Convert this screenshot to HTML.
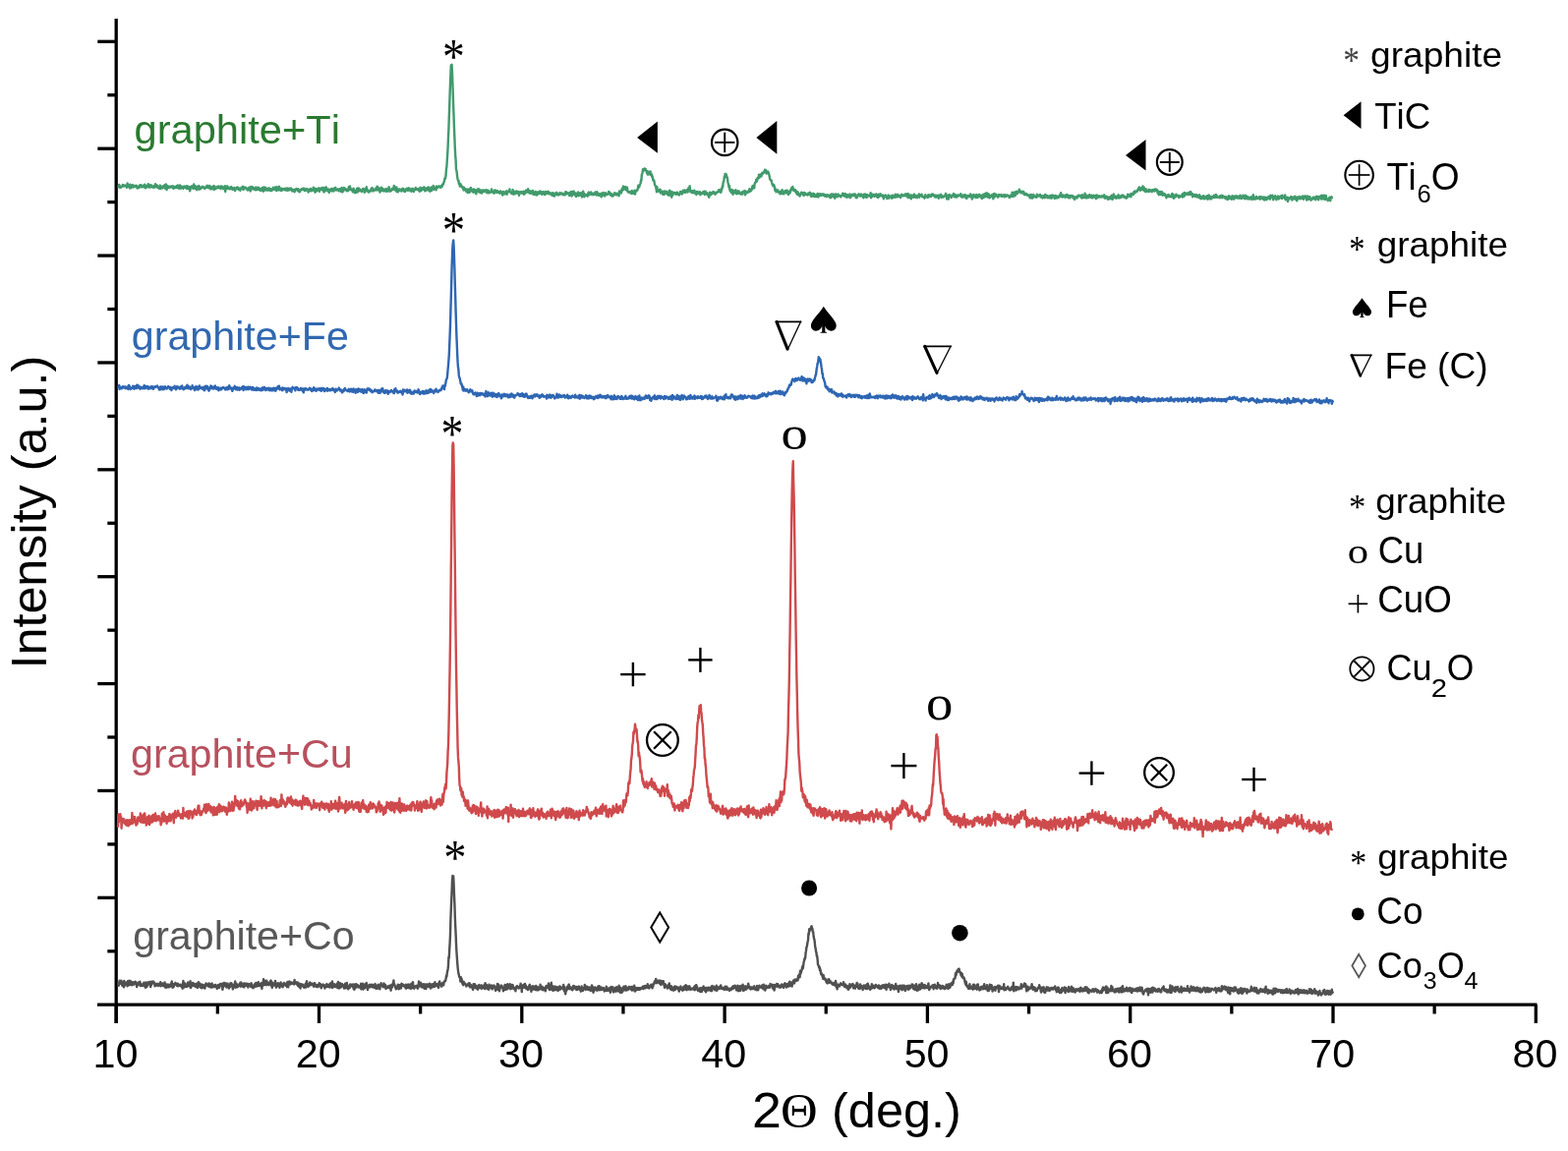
<!DOCTYPE html>
<html><head><meta charset="utf-8"><title>XRD patterns</title>
<style>html,body{margin:0;padding:0;background:#fff;} svg{display:block;} text{font-kerning:none;}</style>
</head><body>
<svg width="1595" height="1171" viewBox="0 0 1595 1171">
<rect width="1595" height="1171" fill="#fff"/>
<g stroke="#000" stroke-width="3.3" fill="none" stroke-linecap="butt">
<line x1="118.2" y1="19" x2="118.2" y2="1041"/>
<line x1="99" y1="1022.2" x2="1563.5" y2="1022.2"/>
<line x1="99.3" y1="42.30" x2="118.2" y2="42.30"/>
<line x1="109.3" y1="96.74" x2="118.2" y2="96.74"/>
<line x1="99.3" y1="151.18" x2="118.2" y2="151.18"/>
<line x1="109.3" y1="205.62" x2="118.2" y2="205.62"/>
<line x1="99.3" y1="260.06" x2="118.2" y2="260.06"/>
<line x1="109.3" y1="314.50" x2="118.2" y2="314.50"/>
<line x1="99.3" y1="368.94" x2="118.2" y2="368.94"/>
<line x1="109.3" y1="423.38" x2="118.2" y2="423.38"/>
<line x1="99.3" y1="477.82" x2="118.2" y2="477.82"/>
<line x1="109.3" y1="532.26" x2="118.2" y2="532.26"/>
<line x1="99.3" y1="586.70" x2="118.2" y2="586.70"/>
<line x1="109.3" y1="641.14" x2="118.2" y2="641.14"/>
<line x1="99.3" y1="695.58" x2="118.2" y2="695.58"/>
<line x1="109.3" y1="750.02" x2="118.2" y2="750.02"/>
<line x1="99.3" y1="804.46" x2="118.2" y2="804.46"/>
<line x1="109.3" y1="858.90" x2="118.2" y2="858.90"/>
<line x1="99.3" y1="913.34" x2="118.2" y2="913.34"/>
<line x1="109.3" y1="967.78" x2="118.2" y2="967.78"/>
<line x1="118.20" y1="1022.2" x2="118.20" y2="1041"/>
<line x1="324.50" y1="1022.2" x2="324.50" y2="1041"/>
<line x1="530.80" y1="1022.2" x2="530.80" y2="1041"/>
<line x1="737.10" y1="1022.2" x2="737.10" y2="1041"/>
<line x1="943.40" y1="1022.2" x2="943.40" y2="1041"/>
<line x1="1149.70" y1="1022.2" x2="1149.70" y2="1041"/>
<line x1="1356.00" y1="1022.2" x2="1356.00" y2="1041"/>
<line x1="1562.30" y1="1022.2" x2="1562.30" y2="1041"/>
<line x1="221.35" y1="1022.2" x2="221.35" y2="1031.5"/>
<line x1="427.65" y1="1022.2" x2="427.65" y2="1031.5"/>
<line x1="633.95" y1="1022.2" x2="633.95" y2="1031.5"/>
<line x1="840.25" y1="1022.2" x2="840.25" y2="1031.5"/>
<line x1="1046.55" y1="1022.2" x2="1046.55" y2="1031.5"/>
<line x1="1252.85" y1="1022.2" x2="1252.85" y2="1031.5"/>
<line x1="1459.15" y1="1022.2" x2="1459.15" y2="1031.5"/>
</g>
<text x="94.43" y="1086.2" font-size="41.3" font-family="'Liberation Sans', Arial, sans-serif" fill="#000">10</text>
<text x="300.73" y="1086.2" font-size="41.3" font-family="'Liberation Sans', Arial, sans-serif" fill="#000">20</text>
<text x="507.03" y="1086.2" font-size="41.3" font-family="'Liberation Sans', Arial, sans-serif" fill="#000">30</text>
<text x="713.33" y="1086.2" font-size="41.3" font-family="'Liberation Sans', Arial, sans-serif" fill="#000">40</text>
<text x="919.63" y="1086.2" font-size="41.3" font-family="'Liberation Sans', Arial, sans-serif" fill="#000">50</text>
<text x="1125.93" y="1086.2" font-size="41.3" font-family="'Liberation Sans', Arial, sans-serif" fill="#000">60</text>
<text x="1332.23" y="1086.2" font-size="41.3" font-family="'Liberation Sans', Arial, sans-serif" fill="#000">70</text>
<text x="1538.53" y="1086.2" font-size="41.3" font-family="'Liberation Sans', Arial, sans-serif" fill="#000">80</text>
<text fill="#000"><tspan x="765.00" y="1147.20" font-size="50.60" font-family="'Liberation Sans', Arial, sans-serif" textLength="29.91" lengthAdjust="spacingAndGlyphs">2</tspan><tspan x="794.06" y="1146.50" font-size="51.20" font-family="'Liberation Serif', 'Times New Roman', serif" textLength="37.68" lengthAdjust="spacingAndGlyphs">Θ</tspan><tspan x="832.06" y="1147.20" font-size="50.60" font-family="'Liberation Sans', Arial, sans-serif" textLength="145.77" lengthAdjust="spacingAndGlyphs"> (deg.)</tspan></text>
<text transform="translate(46.8,680.54) rotate(-90) scale(1.0062,1)" font-size="50.0" font-family="'Liberation Sans', Arial, sans-serif" fill="#000">Intensity (a.u.)</text>
<polyline fill="none" stroke="#505050" stroke-width="2.4" stroke-linejoin="round" points="120.0,999.2 120.4,999.9 120.8,1002.8 121.2,1001.3 121.6,997.8 122.0,1000.5 122.4,999.6 122.8,1000.7 123.2,997.8 123.6,1000.6 124.0,1000.7 124.4,1002.8 124.8,1000.9 125.2,1001.4 125.6,998.4 126.0,1004.3 126.4,998.0 126.8,1002.8 127.2,1000.6 127.6,999.7 128.0,999.9 128.4,999.7 128.8,1001.3 129.2,1000.6 129.6,1003.2 130.0,998.2 130.4,1001.1 130.8,999.7 131.2,1002.2 131.6,997.6 132.0,1000.3 132.4,1001.0 132.8,998.2 133.2,1002.1 133.6,1000.9 134.0,1002.2 134.4,1002.2 134.8,999.1 135.2,999.3 135.6,1000.1 136.0,1001.5 136.4,1001.6 136.8,999.1 137.2,999.1 137.6,998.7 138.0,999.0 138.4,999.7 138.8,1000.2 139.2,1004.1 139.6,1000.5 140.0,1001.0 140.4,1002.0 140.8,999.4 141.2,1000.0 141.6,1000.4 142.0,1001.6 142.4,998.6 142.8,1003.1 143.2,1000.7 143.6,1001.7 144.0,1002.7 144.4,1002.4 144.8,1003.0 145.2,1001.5 145.6,1001.1 146.0,1001.6 146.4,999.6 146.8,1003.2 147.2,1000.2 147.6,999.7 148.0,1004.8 148.4,1001.2 148.8,999.4 149.2,1004.0 149.6,1000.6 150.0,1002.9 150.4,1000.2 150.8,1001.3 151.2,999.2 151.6,998.9 152.0,1000.1 152.4,1001.1 152.8,1001.9 153.2,1004.1 153.6,998.7 154.0,1002.0 154.4,999.7 154.8,1000.6 155.2,998.6 155.6,998.5 156.0,999.5 156.4,998.8 156.8,1000.8 157.2,1000.0 157.6,1003.3 158.0,1001.6 158.4,1001.4 158.8,1002.7 159.2,1001.6 159.6,1000.7 160.0,1000.8 160.4,1001.0 160.8,1003.1 161.2,1002.7 161.6,1002.0 162.0,1002.6 162.4,1000.5 162.8,1002.1 163.2,999.1 163.6,1003.4 164.0,1001.3 164.4,1001.2 164.8,1001.6 165.2,1000.6 165.6,1000.4 166.0,1003.0 166.4,1001.8 166.8,1000.5 167.2,1002.8 167.6,999.5 168.0,1004.5 168.4,1001.4 168.8,1001.6 169.2,1004.9 169.6,1004.6 170.0,1001.4 170.4,1002.3 170.8,1003.1 171.2,1004.2 171.6,1001.7 172.0,1002.3 172.4,1004.2 172.8,1002.8 173.2,1003.5 173.6,1003.2 174.0,1000.5 174.4,1001.1 174.8,998.5 175.2,1002.4 175.6,1004.9 176.0,1001.0 176.4,1004.3 176.8,1003.7 177.2,1001.7 177.6,1001.6 178.0,1001.5 178.4,999.8 178.8,1000.6 179.2,1001.0 179.6,1002.2 180.0,1002.7 180.4,1000.6 180.8,1003.2 181.2,1000.9 181.6,1001.9 182.0,1002.9 182.4,1002.4 182.8,1002.3 183.2,1003.0 183.6,1001.7 184.0,1001.6 184.4,1002.3 184.8,1004.1 185.2,1002.6 185.6,1005.7 186.0,1003.1 186.4,998.0 186.8,1001.6 187.2,1004.6 187.6,1001.8 188.0,1001.0 188.4,1000.4 188.8,1003.9 189.2,1003.5 189.6,1002.9 190.0,1002.4 190.4,1003.8 190.8,1002.7 191.2,999.5 191.6,1002.7 192.0,1001.9 192.4,1001.7 192.8,1003.4 193.2,1002.5 193.6,998.2 194.0,1005.1 194.4,1004.0 194.8,1001.9 195.2,1001.2 195.6,1002.1 196.0,1000.0 196.4,1002.8 196.8,1002.2 197.2,1002.0 197.6,1000.8 198.0,1001.0 198.4,1003.6 198.8,1003.9 199.2,1002.6 199.6,1001.8 200.0,1000.7 200.4,1003.3 200.8,1005.0 201.2,1000.1 201.6,1004.5 202.0,999.2 202.4,1002.0 202.8,1003.2 203.2,1000.6 203.6,1000.6 204.0,1003.6 204.4,1004.9 204.8,1002.8 205.2,1005.3 205.6,1001.6 206.0,1004.9 206.4,1002.0 206.8,1002.1 207.2,1002.7 207.6,1002.4 208.0,1004.9 208.4,1005.6 208.8,1003.0 209.2,1001.9 209.6,1000.4 210.0,1001.2 210.4,1002.5 210.8,1002.6 211.2,1002.8 211.6,1002.9 212.0,1003.5 212.4,1000.4 212.8,1000.6 213.2,1003.8 213.6,1003.4 214.0,1001.4 214.4,1004.6 214.8,1002.0 215.2,1002.9 215.6,1000.5 216.0,1004.5 216.4,1002.9 216.8,1004.2 217.2,1003.5 217.6,1002.4 218.0,1002.4 218.4,1004.0 218.8,1001.9 219.2,1002.0 219.6,1002.4 220.0,1003.8 220.4,1004.1 220.8,1005.9 221.2,1002.9 221.6,1005.0 222.0,1001.9 222.4,1003.5 222.8,1002.4 223.2,1004.7 223.6,1002.7 224.0,1001.0 224.4,1002.6 224.8,1002.3 225.2,1001.2 225.6,1001.4 226.0,1000.7 226.4,1006.8 226.8,1002.8 227.2,1004.0 227.6,1000.2 228.0,999.8 228.4,1001.0 228.8,1001.1 229.2,1002.9 229.6,1000.4 230.0,1003.0 230.4,1004.5 230.8,1000.6 231.2,1003.4 231.6,1000.6 232.0,1002.9 232.4,1003.2 232.8,1005.6 233.2,1001.9 233.6,1003.1 234.0,1004.2 234.4,1000.3 234.8,1001.7 235.2,1000.1 235.6,1000.4 236.0,1002.7 236.4,1003.2 236.8,1006.4 237.2,1004.5 237.6,1004.3 238.0,1001.8 238.4,1001.5 238.8,1002.1 239.2,998.5 239.6,1004.8 240.0,1001.2 240.4,1000.6 240.8,1001.5 241.2,1003.6 241.6,1004.3 242.0,1002.1 242.4,1003.6 242.8,1002.9 243.2,1001.4 243.6,1002.9 244.0,1002.4 244.4,999.8 244.8,1003.7 245.2,999.5 245.6,1002.4 246.0,1000.6 246.4,1001.2 246.8,1001.7 247.2,1004.0 247.6,1000.8 248.0,1002.1 248.4,1004.3 248.8,1000.4 249.2,1001.3 249.6,1002.4 250.0,1000.7 250.4,1002.6 250.8,1000.9 251.2,1003.1 251.6,1002.2 252.0,1000.8 252.4,1004.5 252.8,1002.4 253.2,1002.2 253.6,1001.2 254.0,1001.7 254.4,1002.1 254.8,1002.4 255.2,1003.8 255.6,1000.3 256.0,1002.0 256.4,1004.6 256.8,1003.1 257.2,1003.5 257.6,1005.2 258.0,1003.0 258.4,1002.7 258.8,1001.5 259.2,1004.0 259.6,1002.9 260.0,1000.3 260.4,1002.4 260.8,999.9 261.2,1003.5 261.6,1002.9 262.0,1001.7 262.4,1001.4 262.8,999.2 263.2,1003.1 263.6,1001.7 264.0,1001.4 264.4,1003.1 264.8,1000.9 265.2,1001.1 265.6,1001.0 266.0,1000.1 266.4,1006.0 266.8,1001.8 267.2,1001.2 267.6,1002.7 268.0,996.2 268.4,1000.9 268.8,1001.0 269.2,999.6 269.6,1001.8 270.0,997.8 270.4,1000.8 270.8,1002.2 271.2,997.6 271.6,999.0 272.0,1001.3 272.4,1001.6 272.8,1000.6 273.2,1002.1 273.6,1002.0 274.0,999.5 274.4,1001.4 274.8,999.5 275.2,998.0 275.6,997.4 276.0,1002.9 276.4,1001.3 276.8,1004.8 277.2,999.8 277.6,1001.7 278.0,1002.7 278.4,1001.7 278.8,1002.4 279.2,1001.7 279.6,1000.5 280.0,997.9 280.4,1000.3 280.8,1004.6 281.2,1003.1 281.6,1003.9 282.0,1000.7 282.4,1001.2 282.8,1000.2 283.2,1002.4 283.6,1002.1 284.0,1002.8 284.4,1004.8 284.8,1000.6 285.2,1002.9 285.6,999.4 286.0,1003.4 286.4,1001.2 286.8,1001.9 287.2,1002.2 287.6,1004.4 288.0,1001.6 288.4,1000.9 288.8,999.9 289.2,1002.4 289.6,1000.8 290.0,1001.3 290.4,1002.0 290.8,1002.8 291.2,1000.5 291.6,1002.5 292.0,1004.1 292.4,999.0 292.8,1003.3 293.2,1004.3 293.6,999.8 294.0,1001.6 294.4,998.5 294.8,1001.2 295.2,1000.3 295.6,1001.4 296.0,999.5 296.4,999.6 296.8,1000.3 297.2,1000.0 297.6,1000.3 298.0,1001.0 298.4,999.5 298.8,1000.8 299.2,1001.5 299.6,997.0 300.0,1000.9 300.4,999.6 300.8,999.3 301.2,999.3 301.6,1000.2 302.0,1000.4 302.4,1002.0 302.8,999.5 303.2,1003.2 303.6,1000.6 304.0,1003.2 304.4,1004.1 304.8,1000.6 305.2,1004.1 305.6,1005.5 306.0,1001.2 306.4,1002.6 306.8,1001.4 307.2,1002.0 307.6,1001.8 308.0,1001.8 308.4,1003.9 308.8,1004.2 309.2,1002.7 309.6,1004.8 310.0,1003.9 310.4,1003.0 310.8,1000.6 311.2,1004.5 311.6,1003.6 312.0,998.3 312.4,1000.1 312.8,1001.2 313.2,1003.4 313.6,1003.8 314.0,1001.4 314.4,1002.1 314.8,1002.6 315.2,999.4 315.6,1002.3 316.0,1001.0 316.4,1002.0 316.8,1002.0 317.2,1000.4 317.6,1000.7 318.0,1002.2 318.4,1002.3 318.8,1001.7 319.2,1003.7 319.6,1001.5 320.0,1000.1 320.4,1001.3 320.8,1001.5 321.2,1001.7 321.6,1003.8 322.0,1003.0 322.4,1003.9 322.8,1003.3 323.2,1002.1 323.6,1004.1 324.0,1002.0 324.4,1002.5 324.8,1000.3 325.2,1001.6 325.6,1000.8 326.0,1001.8 326.4,1004.2 326.8,1005.3 327.2,1003.4 327.6,1001.9 328.0,1003.4 328.4,1002.7 328.8,1001.6 329.2,1002.7 329.6,1002.7 330.0,1002.4 330.4,1005.6 330.8,1002.6 331.2,1002.6 331.6,1004.2 332.0,1001.8 332.4,1001.1 332.8,1001.7 333.2,1003.9 333.6,1003.9 334.0,1003.9 334.4,1002.7 334.8,1001.9 335.2,1004.5 335.6,1000.6 336.0,1002.3 336.4,1000.3 336.8,1001.7 337.2,1002.3 337.6,1004.7 338.0,998.4 338.4,1004.9 338.8,1001.2 339.2,1002.7 339.6,1003.4 340.0,1001.1 340.4,1002.6 340.8,1003.9 341.2,1003.3 341.6,1002.5 342.0,1003.8 342.4,1003.5 342.8,1000.8 343.2,1005.0 343.6,1003.1 344.0,999.0 344.4,1001.5 344.8,1005.5 345.2,1005.4 345.6,1003.4 346.0,1000.3 346.4,1002.6 346.8,1004.5 347.2,1003.2 347.6,1001.8 348.0,1001.0 348.4,1003.4 348.8,1001.9 349.2,1003.0 349.6,1003.5 350.0,1005.5 350.4,1003.4 350.8,1003.7 351.2,1000.7 351.6,1005.3 352.0,1005.0 352.4,1003.6 352.8,1000.0 353.2,1002.6 353.6,1003.3 354.0,1006.2 354.4,1003.7 354.8,1004.0 355.2,1004.2 355.6,1005.3 356.0,1001.6 356.4,1002.0 356.8,1001.4 357.2,1002.8 357.6,1002.7 358.0,1003.5 358.4,1001.6 358.8,1003.1 359.2,1001.4 359.6,1005.9 360.0,1001.9 360.4,1006.9 360.8,1005.7 361.2,1001.5 361.6,1004.9 362.0,1004.4 362.4,1001.1 362.8,1004.3 363.2,1003.3 363.6,1004.0 364.0,1002.2 364.4,1003.6 364.8,1004.4 365.2,1003.7 365.6,1003.3 366.0,1004.3 366.4,1003.4 366.8,1005.5 367.2,1000.8 367.6,1006.5 368.0,1003.5 368.4,1003.4 368.8,1003.8 369.2,1000.7 369.6,1006.5 370.0,1001.6 370.4,1004.2 370.8,1003.8 371.2,1005.3 371.6,1003.1 372.0,1001.0 372.4,1004.0 372.8,1000.0 373.2,1003.9 373.6,1003.8 374.0,1007.0 374.4,1004.0 374.8,1003.4 375.2,1002.6 375.6,1002.1 376.0,1002.5 376.4,1004.4 376.8,1001.8 377.2,1003.9 377.6,1002.2 378.0,1004.1 378.4,1004.2 378.8,1001.6 379.2,1002.3 379.6,1003.2 380.0,1004.2 380.4,1004.7 380.8,1003.1 381.2,1001.9 381.6,1001.0 382.0,1004.8 382.4,1005.7 382.8,1004.0 383.2,1005.8 383.6,1002.6 384.0,1002.6 384.4,1005.6 384.8,1001.6 385.2,1004.2 385.6,1003.9 386.0,1003.7 386.4,1006.3 386.8,1002.2 387.2,1002.9 387.6,1000.2 388.0,1001.8 388.4,1002.7 388.8,1003.0 389.2,1003.4 389.6,1004.2 390.0,1002.6 390.4,1000.5 390.8,1003.7 391.2,1004.1 391.6,1001.6 392.0,1002.1 392.4,1006.0 392.8,1005.0 393.2,1005.4 393.6,1005.0 394.0,1004.4 394.4,1003.4 394.8,1004.9 395.2,1003.5 395.6,1003.1 396.0,1003.8 396.4,1003.8 396.8,1005.4 397.2,1002.4 397.6,1007.7 398.0,1002.1 398.4,1002.7 398.8,1004.5 399.2,1001.2 399.6,1001.5 400.0,1002.1 400.4,997.4 400.8,1001.5 401.2,1001.2 401.6,1002.8 402.0,1004.3 402.4,1004.8 402.8,1006.3 403.2,1006.0 403.6,1005.2 404.0,1003.3 404.4,1004.9 404.8,1001.8 405.2,1003.5 405.6,1006.3 406.0,1005.6 406.4,1002.3 406.8,1003.4 407.2,1005.5 407.6,1004.8 408.0,1005.3 408.4,1000.8 408.8,1001.5 409.2,1002.9 409.6,1001.5 410.0,1002.6 410.4,1002.5 410.8,1003.0 411.2,1002.4 411.6,1003.8 412.0,1004.5 412.4,1003.8 412.8,1001.7 413.2,1005.8 413.6,1004.3 414.0,1004.7 414.4,1004.4 414.8,1001.7 415.2,1004.9 415.6,1002.8 416.0,1001.6 416.4,1005.3 416.8,1002.7 417.2,1003.6 417.6,1004.6 418.0,1005.8 418.4,1000.6 418.8,1002.5 419.2,1005.0 419.6,1003.0 420.0,999.2 420.4,1004.6 420.8,1004.9 421.2,1005.8 421.6,1004.9 422.0,1003.5 422.4,1004.3 422.8,1003.7 423.2,1002.9 423.6,1004.3 424.0,1004.7 424.4,1002.6 424.8,1005.7 425.2,1004.9 425.6,1004.4 426.0,998.5 426.4,1002.7 426.8,1002.1 427.2,1000.6 427.6,1003.0 428.0,999.7 428.4,1004.0 428.8,1002.7 429.2,1001.4 429.6,1004.5 430.0,1003.2 430.4,1003.4 430.8,1001.1 431.2,1004.2 431.6,1005.7 432.0,1005.3 432.4,1001.5 432.8,1005.7 433.2,1006.0 433.6,1004.8 434.0,1002.9 434.4,1001.3 434.8,1002.2 435.2,1002.6 435.6,1003.7 436.0,1003.9 436.4,1001.9 436.8,1000.7 437.2,1002.8 437.6,1001.5 438.0,1005.6 438.4,1001.5 438.8,1004.1 439.2,1004.5 439.6,1001.5 440.0,1004.3 440.4,1002.3 440.8,1001.1 441.2,1000.8 441.6,1002.5 442.0,1004.0 442.4,999.3 442.8,1003.2 443.2,1002.0 443.6,1001.0 444.0,1002.2 444.4,1002.4 444.8,1002.3 445.2,1003.5 445.6,1000.6 446.0,1004.9 446.4,1003.0 446.8,1000.6 447.2,998.5 447.6,1001.3 448.0,1000.5 448.4,1002.0 448.8,1001.8 449.2,1003.7 449.6,1000.5 450.0,1001.9 450.4,999.9 450.8,999.7 451.2,1002.4 451.6,999.4 452.0,999.0 452.4,998.0 452.8,998.3 453.2,997.8 453.6,995.6 454.0,992.7 454.4,993.5 454.8,989.7 455.2,988.1 455.6,986.0 456.0,982.5 456.4,973.9 456.8,974.5 457.2,966.1 457.6,959.6 458.0,951.1 458.4,935.4 458.8,925.2 459.2,915.7 459.6,906.7 460.0,896.1 460.4,891.0 460.8,891.7 461.2,891.4 461.6,899.6 462.0,910.3 462.4,919.1 462.8,932.2 463.2,941.9 463.6,949.6 464.0,960.0 464.4,967.8 464.8,973.6 465.2,979.2 465.6,984.1 466.0,987.6 466.4,990.4 466.8,991.8 467.2,993.7 467.6,994.5 468.0,994.9 468.4,998.6 468.8,994.1 469.2,998.1 469.6,995.8 470.0,998.1 470.4,1000.8 470.8,999.4 471.2,1002.2 471.6,998.7 472.0,1000.0 472.4,999.8 472.8,1001.2 473.2,1001.0 473.6,1001.1 474.0,1001.9 474.4,1003.6 474.8,1002.4 475.2,1002.5 475.6,1002.3 476.0,1001.7 476.4,1000.6 476.8,1001.2 477.2,1002.9 477.6,1000.1 478.0,1004.3 478.4,1002.7 478.8,1001.9 479.2,1002.5 479.6,1004.4 480.0,1004.0 480.4,1003.8 480.8,1006.0 481.2,1006.9 481.6,1001.2 482.0,1004.6 482.4,1002.1 482.8,1001.2 483.2,1002.6 483.6,1005.0 484.0,1002.9 484.4,1002.7 484.8,1005.7 485.2,1004.5 485.6,1003.7 486.0,1006.7 486.4,1004.7 486.8,1002.8 487.2,1002.1 487.6,1003.1 488.0,1004.0 488.4,1005.2 488.8,1005.1 489.2,1004.1 489.6,1002.3 490.0,1005.8 490.4,1004.9 490.8,1003.2 491.2,1003.0 491.6,1005.1 492.0,1004.9 492.4,1005.2 492.8,1001.6 493.2,1006.2 493.6,1000.2 494.0,1002.9 494.4,1005.2 494.8,1004.9 495.2,1002.1 495.6,1004.8 496.0,1006.0 496.4,1005.3 496.8,1002.7 497.2,1006.9 497.6,1001.8 498.0,1004.5 498.4,1002.8 498.8,1003.7 499.2,1003.9 499.6,1005.2 500.0,1002.5 500.4,1004.8 500.8,1006.4 501.2,1004.2 501.6,1004.8 502.0,1004.4 502.4,1002.5 502.8,1003.2 503.2,1004.1 503.6,1005.1 504.0,1007.9 504.4,1007.5 504.8,1004.2 505.2,1004.2 505.6,1003.1 506.0,1001.0 506.4,1006.7 506.8,1005.6 507.2,1001.8 507.6,1004.8 508.0,1008.3 508.4,1005.3 508.8,1005.3 509.2,1004.8 509.6,1003.3 510.0,1002.5 510.4,1003.0 510.8,1004.6 511.2,1004.3 511.6,1006.2 512.0,1008.2 512.4,1006.3 512.8,1006.4 513.2,1003.9 513.6,1001.9 514.0,1007.0 514.4,1004.7 514.8,1005.5 515.2,1003.4 515.6,1001.6 516.0,1006.5 516.4,1001.1 516.8,1004.1 517.2,1003.3 517.6,1004.3 518.0,1005.3 518.4,1005.5 518.8,1001.1 519.2,1006.3 519.6,1001.8 520.0,1005.8 520.4,1003.9 520.8,1002.5 521.2,1003.3 521.6,1002.1 522.0,1004.3 522.4,1006.0 522.8,1006.0 523.2,1004.9 523.6,1006.6 524.0,1005.6 524.4,1008.2 524.8,1005.6 525.2,1003.7 525.6,1004.1 526.0,1003.1 526.4,1003.7 526.8,1003.9 527.2,1005.2 527.6,1005.5 528.0,1004.5 528.4,1005.1 528.8,1003.3 529.2,1003.6 529.6,1000.6 530.0,1003.4 530.4,1004.0 530.8,1009.1 531.2,1002.9 531.6,1005.0 532.0,1004.1 532.4,1002.0 532.8,1004.8 533.2,1004.4 533.6,1002.2 534.0,1000.9 534.4,1004.5 534.8,1002.4 535.2,1005.8 535.6,1004.4 536.0,1005.6 536.4,1004.3 536.8,1007.1 537.2,1005.6 537.6,1006.8 538.0,1004.4 538.4,1002.5 538.8,1001.8 539.2,1003.4 539.6,1004.9 540.0,1003.7 540.4,1008.9 540.8,1005.1 541.2,1006.1 541.6,1005.5 542.0,1003.2 542.4,1006.6 542.8,1005.9 543.2,1006.4 543.6,1003.7 544.0,1005.3 544.4,1005.1 544.8,1007.0 545.2,1002.9 545.6,1006.2 546.0,1007.2 546.4,1004.7 546.8,1004.1 547.2,1007.4 547.6,1005.4 548.0,1006.7 548.4,1006.0 548.8,1006.6 549.2,1004.8 549.6,1001.8 550.0,1006.1 550.4,1003.8 550.8,1005.6 551.2,1003.6 551.6,1007.0 552.0,1004.2 552.4,1006.3 552.8,1007.2 553.2,1005.8 553.6,1006.6 554.0,1006.2 554.4,1004.6 554.8,1008.3 555.2,1004.3 555.6,1003.0 556.0,1004.4 556.4,1005.1 556.8,1004.6 557.2,1003.6 557.6,1003.2 558.0,1000.4 558.4,1004.9 558.8,1006.9 559.2,1003.4 559.6,1002.2 560.0,1006.8 560.4,1005.6 560.8,999.6 561.2,1004.5 561.6,1003.0 562.0,1003.1 562.4,1007.9 562.8,1006.0 563.2,1004.1 563.6,1004.6 564.0,1007.4 564.4,1003.5 564.8,1006.8 565.2,1004.7 565.6,1007.0 566.0,1005.8 566.4,1004.1 566.8,1006.9 567.2,1006.1 567.6,1008.1 568.0,1004.5 568.4,1005.2 568.8,1003.8 569.2,1006.8 569.6,1003.5 570.0,1004.5 570.4,1006.4 570.8,1005.1 571.2,1004.6 571.6,1004.6 572.0,1004.8 572.4,1005.6 572.8,1004.3 573.2,1001.9 573.6,1007.6 574.0,1004.0 574.4,1008.9 574.8,1006.6 575.2,1011.3 575.6,1008.0 576.0,1006.8 576.4,1007.6 576.8,1003.9 577.2,1006.3 577.6,1005.3 578.0,1005.6 578.4,1002.0 578.8,1001.6 579.2,1006.2 579.6,1005.1 580.0,1004.3 580.4,1005.0 580.8,1004.4 581.2,1004.9 581.6,1007.1 582.0,1005.8 582.4,1007.3 582.8,1004.9 583.2,1003.0 583.6,1004.6 584.0,1005.2 584.4,1003.3 584.8,1004.3 585.2,1003.9 585.6,1006.3 586.0,1006.4 586.4,1007.0 586.8,1004.0 587.2,1005.6 587.6,1006.8 588.0,1004.8 588.4,1004.4 588.8,1003.5 589.2,1006.3 589.6,1005.4 590.0,1006.9 590.4,1005.1 590.8,1008.7 591.2,1005.4 591.6,1003.5 592.0,1005.9 592.4,1006.5 592.8,1008.0 593.2,1005.3 593.6,1005.2 594.0,1005.5 594.4,1005.1 594.8,1002.0 595.2,1006.3 595.6,1007.0 596.0,1003.8 596.4,1003.4 596.8,1004.8 597.2,1003.8 597.6,1006.6 598.0,1004.6 598.4,1007.0 598.8,1004.4 599.2,1004.5 599.6,1004.4 600.0,1004.7 600.4,1007.5 600.8,1008.0 601.2,1006.7 601.6,1006.6 602.0,1002.5 602.4,1007.6 602.8,1003.7 603.2,1007.7 603.6,1009.7 604.0,1006.2 604.4,1007.3 604.8,1007.5 605.2,1004.4 605.6,1004.6 606.0,1005.2 606.4,1006.4 606.8,1007.4 607.2,1006.2 607.6,1007.7 608.0,1005.1 608.4,1003.5 608.8,1005.6 609.2,1005.4 609.6,1003.3 610.0,1007.4 610.4,1004.4 610.8,1005.1 611.2,1006.7 611.6,1004.5 612.0,1007.1 612.4,1006.6 612.8,1006.6 613.2,1005.9 613.6,1005.3 614.0,1005.0 614.4,1006.8 614.8,1008.6 615.2,1007.5 615.6,1006.6 616.0,1007.3 616.4,1007.7 616.8,1003.6 617.2,1005.8 617.6,1008.1 618.0,1005.4 618.4,1005.7 618.8,1007.2 619.2,1005.7 619.6,1007.7 620.0,1005.2 620.4,1006.6 620.8,1009.7 621.2,1007.7 621.6,1003.9 622.0,1004.6 622.4,1004.7 622.8,1006.3 623.2,1004.2 623.6,1007.4 624.0,1009.4 624.4,1009.2 624.8,1005.6 625.2,1006.3 625.6,1006.1 626.0,1005.0 626.4,1008.7 626.8,1004.8 627.2,1004.2 627.6,1006.6 628.0,1006.6 628.4,1008.4 628.8,1008.4 629.2,1005.7 629.6,1002.8 630.0,1007.4 630.4,1007.9 630.8,1009.7 631.2,1004.6 631.6,1005.4 632.0,1009.9 632.4,1009.9 632.8,1009.1 633.2,1006.7 633.6,1008.4 634.0,1005.2 634.4,1003.7 634.8,1005.4 635.2,1005.5 635.6,1006.7 636.0,1007.4 636.4,1003.2 636.8,1006.8 637.2,1007.5 637.6,1004.8 638.0,1006.3 638.4,1006.7 638.8,1007.1 639.2,1004.7 639.6,1004.9 640.0,1003.8 640.4,1005.9 640.8,1004.8 641.2,1004.5 641.6,1006.6 642.0,1005.4 642.4,1003.9 642.8,1007.6 643.2,1007.4 643.6,1006.5 644.0,1004.0 644.4,1007.2 644.8,1004.6 645.2,1002.7 645.6,1005.6 646.0,1008.6 646.4,1004.9 646.8,1006.3 647.2,1007.3 647.6,1005.5 648.0,1005.0 648.4,1005.8 648.8,1006.8 649.2,1005.1 649.6,1006.4 650.0,1006.7 650.4,1005.2 650.8,1006.9 651.2,1006.6 651.6,1005.2 652.0,1005.4 652.4,1005.8 652.8,1005.4 653.2,1005.3 653.6,1003.8 654.0,1005.4 654.4,1006.1 654.8,1005.7 655.2,1003.2 655.6,1005.3 656.0,1005.4 656.4,1003.0 656.8,1005.2 657.2,1004.0 657.6,1003.6 658.0,1004.6 658.4,1004.0 658.8,1001.1 659.2,1005.1 659.6,1003.2 660.0,1004.6 660.4,1005.5 660.8,1003.6 661.2,1002.8 661.6,1003.4 662.0,1003.7 662.4,1001.6 662.8,1002.0 663.2,1003.8 663.6,1005.4 664.0,1002.5 664.4,1003.4 664.8,1000.4 665.2,1001.0 665.6,1000.6 666.0,998.2 666.4,1000.0 666.8,999.6 667.2,996.0 667.6,999.8 668.0,1000.3 668.4,1000.1 668.8,1000.1 669.2,997.7 669.6,998.0 670.0,998.7 670.4,997.6 670.8,998.2 671.2,1000.8 671.6,997.6 672.0,998.6 672.4,1002.1 672.8,999.2 673.2,998.1 673.6,1000.2 674.0,1000.3 674.4,1000.6 674.8,998.2 675.2,1001.6 675.6,1002.0 676.0,1004.8 676.4,1002.8 676.8,1001.3 677.2,1002.7 677.6,1003.6 678.0,1002.8 678.4,1003.2 678.8,1005.6 679.2,1004.3 679.6,1004.3 680.0,1001.9 680.4,1004.0 680.8,1000.5 681.2,1005.4 681.6,1003.0 682.0,1005.1 682.4,1006.7 682.8,1003.3 683.2,1007.1 683.6,1005.8 684.0,1007.3 684.4,1004.9 684.8,1004.5 685.2,1007.7 685.6,1006.3 686.0,1005.6 686.4,1003.5 686.8,1007.0 687.2,1004.3 687.6,1004.4 688.0,1003.7 688.4,1004.8 688.8,1005.7 689.2,1004.8 689.6,1004.9 690.0,1004.4 690.4,1007.9 690.8,1008.5 691.2,1005.7 691.6,1004.9 692.0,1006.6 692.4,1003.5 692.8,1006.1 693.2,1005.9 693.6,1005.5 694.0,1007.5 694.4,1007.7 694.8,1005.5 695.2,1004.2 695.6,1006.4 696.0,1006.7 696.4,1003.2 696.8,1003.9 697.2,1004.5 697.6,1002.3 698.0,1003.1 698.4,1007.4 698.8,1003.1 699.2,1006.4 699.6,1003.9 700.0,1006.6 700.4,1005.6 700.8,1006.6 701.2,1003.2 701.6,1005.8 702.0,1004.6 702.4,1006.7 702.8,1006.7 703.2,1006.1 703.6,1005.8 704.0,1006.1 704.4,1006.5 704.8,1005.4 705.2,1005.5 705.6,1005.0 706.0,1004.2 706.4,1007.2 706.8,1003.3 707.2,1007.0 707.6,1006.0 708.0,1002.2 708.4,1002.2 708.8,1005.4 709.2,1004.1 709.6,1006.4 710.0,1007.9 710.4,1007.2 710.8,1006.4 711.2,1006.3 711.6,1008.5 712.0,1005.3 712.4,1008.4 712.8,1008.9 713.2,1005.5 713.6,1006.7 714.0,1008.9 714.4,1005.0 714.8,1006.3 715.2,1006.8 715.6,1003.4 716.0,1005.7 716.4,1005.6 716.8,1004.8 717.2,1008.1 717.6,1005.6 718.0,1009.3 718.4,1006.9 718.8,1004.9 719.2,1006.5 719.6,1005.1 720.0,1007.6 720.4,1007.4 720.8,1004.6 721.2,1005.9 721.6,1007.4 722.0,1006.7 722.4,1005.0 722.8,1007.9 723.2,1008.1 723.6,1003.7 724.0,1008.2 724.4,1003.0 724.8,1006.1 725.2,1005.4 725.6,1005.5 726.0,1006.3 726.4,1003.8 726.8,1005.0 727.2,1007.4 727.6,1005.4 728.0,1007.1 728.4,1006.4 728.8,1002.8 729.2,1008.0 729.6,1006.7 730.0,1006.4 730.4,1004.8 730.8,1004.7 731.2,1004.1 731.6,1005.5 732.0,1006.0 732.4,1005.5 732.8,1005.3 733.2,1002.4 733.6,1004.2 734.0,1004.3 734.4,1006.1 734.8,1005.2 735.2,1005.1 735.6,1005.9 736.0,1004.9 736.4,1005.1 736.8,1007.0 737.2,1005.0 737.6,1003.7 738.0,1006.1 738.4,1006.5 738.8,1006.5 739.2,1003.6 739.6,1007.0 740.0,1005.5 740.4,1005.6 740.8,1005.4 741.2,1006.1 741.6,1006.2 742.0,1007.9 742.4,1006.2 742.8,1005.8 743.2,1006.8 743.6,1005.5 744.0,1006.9 744.4,1005.1 744.8,1005.7 745.2,1003.7 745.6,1005.9 746.0,1005.4 746.4,1003.3 746.8,1004.0 747.2,1004.7 747.6,1002.6 748.0,1003.0 748.4,1005.6 748.8,1005.9 749.2,1007.4 749.6,1003.7 750.0,1005.1 750.4,1002.6 750.8,1008.2 751.2,1003.5 751.6,1004.9 752.0,1008.0 752.4,1006.9 752.8,1003.3 753.2,1007.9 753.6,1005.1 754.0,1002.9 754.4,1004.8 754.8,1005.4 755.2,1005.6 755.6,1001.8 756.0,1008.0 756.4,1003.1 756.8,1005.2 757.2,1007.4 757.6,1005.4 758.0,1004.4 758.4,1003.3 758.8,1005.2 759.2,1006.6 759.6,1004.0 760.0,1005.5 760.4,1004.0 760.8,1003.6 761.2,1000.6 761.6,1003.9 762.0,1005.0 762.4,1003.6 762.8,1005.8 763.2,1004.7 763.6,1006.6 764.0,1005.1 764.4,1004.5 764.8,1004.5 765.2,1005.6 765.6,1006.1 766.0,1004.5 766.4,1005.4 766.8,1003.5 767.2,1003.3 767.6,1006.3 768.0,1005.9 768.4,1006.7 768.8,1005.5 769.2,1005.3 769.6,1007.3 770.0,1003.0 770.4,1004.6 770.8,1006.5 771.2,1007.3 771.6,1005.2 772.0,1004.2 772.4,1002.7 772.8,1004.0 773.2,1004.3 773.6,1004.0 774.0,1004.7 774.4,1004.7 774.8,1003.1 775.2,1002.4 775.6,1003.3 776.0,1004.4 776.4,1006.3 776.8,1001.7 777.2,1005.9 777.6,1004.0 778.0,1006.3 778.4,1007.5 778.8,1005.4 779.2,1002.8 779.6,1003.9 780.0,1005.1 780.4,1004.2 780.8,1004.7 781.2,1003.6 781.6,1004.0 782.0,1003.0 782.4,1004.8 782.8,1003.7 783.2,1004.4 783.6,1001.0 784.0,1002.8 784.4,1002.3 784.8,1002.7 785.2,1001.8 785.6,1002.0 786.0,1005.5 786.4,1003.0 786.8,1001.9 787.2,1003.7 787.6,1007.5 788.0,1005.0 788.4,1002.3 788.8,1003.1 789.2,1003.3 789.6,1003.6 790.0,1001.0 790.4,1002.5 790.8,1003.7 791.2,1001.2 791.6,1003.2 792.0,1003.4 792.4,1004.2 792.8,1004.5 793.2,1002.7 793.6,1003.3 794.0,1004.0 794.4,1004.5 794.8,1002.9 795.2,1001.4 795.6,1003.3 796.0,1003.7 796.4,1002.8 796.8,1003.5 797.2,1004.9 797.6,1001.5 798.0,1001.0 798.4,1000.2 798.8,1002.3 799.2,1003.2 799.6,1001.2 800.0,1004.6 800.4,1001.1 800.8,1002.4 801.2,1001.7 801.6,1003.6 802.0,1000.4 802.4,1003.5 802.8,1000.6 803.2,998.7 803.6,999.6 804.0,1000.1 804.4,1002.7 804.8,999.5 805.2,1000.3 805.6,1003.5 806.0,1000.7 806.4,999.4 806.8,999.0 807.2,997.4 807.6,999.8 808.0,1000.5 808.4,997.7 808.8,996.4 809.2,998.2 809.6,997.7 810.0,997.3 810.4,997.8 810.8,996.7 811.2,995.7 811.6,997.4 812.0,992.7 812.4,993.3 812.8,993.7 813.2,991.2 813.6,994.3 814.0,987.6 814.4,990.7 814.8,989.4 815.2,988.0 815.6,987.0 816.0,984.4 816.4,983.1 816.8,985.2 817.2,981.9 817.6,978.8 818.0,977.7 818.4,975.3 818.8,975.6 819.2,974.2 819.6,969.2 820.0,967.2 820.4,963.6 820.8,963.1 821.2,960.5 821.6,958.0 822.0,956.7 822.4,949.8 822.8,950.6 823.2,945.3 823.6,947.2 824.0,946.0 824.4,944.9 824.8,944.4 825.2,942.8 825.6,942.3 826.0,945.2 826.4,944.5 826.8,948.3 827.2,948.1 827.6,952.3 828.0,954.8 828.4,955.7 828.8,959.0 829.2,963.3 829.6,964.6 830.0,967.9 830.4,969.0 830.8,972.5 831.2,972.6 831.6,976.0 832.0,981.1 832.4,981.9 832.8,982.8 833.2,984.4 833.6,983.5 834.0,987.3 834.4,986.1 834.8,988.1 835.2,991.3 835.6,990.2 836.0,991.5 836.4,992.8 836.8,993.6 837.2,995.9 837.6,991.9 838.0,994.2 838.4,996.3 838.8,995.3 839.2,995.9 839.6,995.8 840.0,996.9 840.4,998.6 840.8,999.7 841.2,998.7 841.6,1000.4 842.0,998.7 842.4,996.4 842.8,1000.1 843.2,996.2 843.6,999.2 844.0,999.4 844.4,997.9 844.8,999.4 845.2,999.0 845.6,1000.1 846.0,999.5 846.4,1001.1 846.8,999.9 847.2,1001.8 847.6,1001.2 848.0,1001.7 848.4,1001.4 848.8,1000.3 849.2,1002.5 849.6,1001.7 850.0,997.9 850.4,999.7 850.8,1004.4 851.2,1001.8 851.6,1006.4 852.0,1002.9 852.4,1002.9 852.8,1001.6 853.2,1001.9 853.6,1002.4 854.0,1003.5 854.4,1002.2 854.8,1001.7 855.2,1000.3 855.6,1001.1 856.0,1001.3 856.4,1002.0 856.8,1001.4 857.2,1001.0 857.6,1002.3 858.0,999.3 858.4,1000.9 858.8,1002.1 859.2,1004.0 859.6,1002.3 860.0,1001.5 860.4,1003.9 860.8,1002.7 861.2,1005.0 861.6,1003.2 862.0,1002.9 862.4,1003.7 862.8,1006.9 863.2,1006.5 863.6,1004.2 864.0,1005.1 864.4,1001.2 864.8,1004.8 865.2,1003.2 865.6,1002.5 866.0,1002.5 866.4,1002.7 866.8,1001.6 867.2,1001.9 867.6,1001.0 868.0,1005.4 868.4,1002.1 868.8,1003.4 869.2,1005.2 869.6,1005.4 870.0,1005.6 870.4,1002.4 870.8,1002.4 871.2,1002.7 871.6,999.9 872.0,1003.9 872.4,1000.6 872.8,1003.3 873.2,1005.4 873.6,1005.8 874.0,1004.1 874.4,1005.8 874.8,1005.8 875.2,1001.4 875.6,1003.5 876.0,1004.8 876.4,1004.4 876.8,1003.4 877.2,1003.4 877.6,1007.1 878.0,1003.4 878.4,1005.6 878.8,1002.4 879.2,1004.7 879.6,1005.2 880.0,1002.9 880.4,1002.4 880.8,1006.0 881.2,1002.9 881.6,1004.7 882.0,1001.2 882.4,1006.0 882.8,1000.8 883.2,1002.4 883.6,1002.9 884.0,1003.6 884.4,1004.0 884.8,1006.1 885.2,1006.8 885.6,1006.5 886.0,1005.1 886.4,1004.3 886.8,1001.1 887.2,1004.1 887.6,1003.5 888.0,1005.2 888.4,1002.7 888.8,1003.0 889.2,1003.2 889.6,1005.3 890.0,1004.8 890.4,1003.0 890.8,1001.9 891.2,1003.4 891.6,1003.1 892.0,1003.2 892.4,1004.0 892.8,1004.8 893.2,1004.8 893.6,1002.6 894.0,1002.4 894.4,1005.7 894.8,1003.2 895.2,1004.7 895.6,1004.0 896.0,1004.2 896.4,1005.9 896.8,1003.0 897.2,1004.7 897.6,1003.7 898.0,1002.6 898.4,1002.1 898.8,1002.1 899.2,1004.9 899.6,1005.1 900.0,1002.8 900.4,1004.9 900.8,1001.7 901.2,1004.2 901.6,1006.8 902.0,1001.9 902.4,1003.9 902.8,1002.6 903.2,1003.7 903.6,1002.2 904.0,1004.3 904.4,1000.7 904.8,1003.8 905.2,1003.7 905.6,1003.9 906.0,1007.0 906.4,1002.4 906.8,1003.0 907.2,1002.0 907.6,1004.8 908.0,1004.3 908.4,1002.8 908.8,1006.1 909.2,1005.1 909.6,1006.5 910.0,1005.3 910.4,1004.2 910.8,1002.9 911.2,1000.9 911.6,1003.4 912.0,1006.1 912.4,1004.3 912.8,1003.6 913.2,1005.4 913.6,1006.1 914.0,1009.0 914.4,1003.2 914.8,1004.0 915.2,1002.8 915.6,1003.5 916.0,1006.1 916.4,1004.7 916.8,1002.6 917.2,1006.6 917.6,1007.2 918.0,1005.6 918.4,1002.8 918.8,1002.6 919.2,1006.2 919.6,1002.9 920.0,1003.9 920.4,1002.9 920.8,1008.1 921.2,1004.3 921.6,1005.0 922.0,1004.0 922.4,1003.9 922.8,1003.0 923.2,1006.3 923.6,1003.6 924.0,1006.8 924.4,1002.7 924.8,1005.3 925.2,1006.0 925.6,1003.0 926.0,1005.2 926.4,1004.0 926.8,1003.1 927.2,1003.9 927.6,1001.5 928.0,1003.6 928.4,1001.6 928.8,1004.8 929.2,1006.0 929.6,1005.7 930.0,1002.6 930.4,1003.6 930.8,1007.1 931.2,1006.2 931.6,1005.3 932.0,1001.2 932.4,1003.9 932.8,1007.8 933.2,1005.1 933.6,1003.6 934.0,1004.2 934.4,1007.3 934.8,1005.5 935.2,1001.6 935.6,1002.1 936.0,1004.2 936.4,1006.3 936.8,1003.2 937.2,1003.3 937.6,1000.1 938.0,1002.9 938.4,1004.9 938.8,1005.1 939.2,1002.0 939.6,1005.4 940.0,1003.0 940.4,1002.1 940.8,1005.3 941.2,1002.4 941.6,1004.6 942.0,1004.1 942.4,1005.0 942.8,1005.1 943.2,1003.7 943.6,1002.9 944.0,1003.3 944.4,1000.4 944.8,1003.8 945.2,1007.1 945.6,1004.5 946.0,1005.7 946.4,1003.9 946.8,1003.7 947.2,1004.2 947.6,1004.4 948.0,1004.4 948.4,1002.5 948.8,1004.2 949.2,1002.2 949.6,1006.2 950.0,1004.5 950.4,1003.8 950.8,1001.8 951.2,1004.1 951.6,1004.8 952.0,1004.2 952.4,1005.4 952.8,1002.9 953.2,1005.7 953.6,1004.3 954.0,1000.0 954.4,1004.2 954.8,1002.0 955.2,1003.3 955.6,1002.6 956.0,1002.5 956.4,1005.7 956.8,1003.4 957.2,1004.7 957.6,1005.7 958.0,1004.1 958.4,1003.0 958.8,1005.1 959.2,1004.8 959.6,1003.3 960.0,1004.5 960.4,1005.9 960.8,1005.1 961.2,1005.9 961.6,1005.7 962.0,1003.9 962.4,1003.5 962.8,1001.6 963.2,1004.9 963.6,1002.2 964.0,1004.1 964.4,1006.0 964.8,1003.7 965.2,1001.1 965.6,1001.6 966.0,1002.4 966.4,1004.7 966.8,1001.9 967.2,1002.0 967.6,1000.3 968.0,1002.2 968.4,1001.5 968.8,1002.1 969.2,998.8 969.6,1000.4 970.0,996.3 970.4,996.5 970.8,995.7 971.2,995.3 971.6,995.2 972.0,990.1 972.4,992.6 972.8,990.9 973.2,988.3 973.6,988.7 974.0,988.8 974.4,986.6 974.8,986.0 975.2,987.7 975.6,985.6 976.0,988.8 976.4,988.5 976.8,989.4 977.2,990.5 977.6,992.3 978.0,990.0 978.4,993.5 978.8,991.0 979.2,993.8 979.6,995.1 980.0,995.3 980.4,994.4 980.8,995.3 981.2,996.6 981.6,999.3 982.0,1000.5 982.4,1001.7 982.8,998.8 983.2,1002.0 983.6,1003.6 984.0,1002.8 984.4,1003.1 984.8,1004.6 985.2,1005.9 985.6,1005.7 986.0,1005.6 986.4,1001.3 986.8,1005.7 987.2,1003.4 987.6,1005.6 988.0,1003.7 988.4,1005.4 988.8,1003.7 989.2,1003.7 989.6,1006.7 990.0,1001.6 990.4,1004.7 990.8,1003.4 991.2,1001.8 991.6,1005.8 992.0,1004.1 992.4,1003.5 992.8,1005.0 993.2,1003.1 993.6,1006.7 994.0,1001.8 994.4,1003.4 994.8,1001.4 995.2,1005.1 995.6,1006.2 996.0,1006.6 996.4,1007.5 996.8,1005.2 997.2,1004.6 997.6,1006.7 998.0,1004.3 998.4,1005.6 998.8,1004.2 999.2,1003.6 999.6,1004.5 1000.0,1006.3 1000.4,1006.1 1000.8,1005.2 1001.2,1001.1 1001.6,1005.4 1002.0,1005.9 1002.4,1006.0 1002.8,1003.9 1003.2,1006.4 1003.6,1005.4 1004.0,1002.2 1004.4,1006.5 1004.8,1008.1 1005.2,1005.9 1005.6,1004.1 1006.0,1007.7 1006.4,1006.1 1006.8,1001.6 1007.2,1006.0 1007.6,1005.1 1008.0,1005.1 1008.4,1002.1 1008.8,1002.5 1009.2,1005.6 1009.6,1008.6 1010.0,1006.1 1010.4,1005.9 1010.8,1004.8 1011.2,1004.9 1011.6,1006.9 1012.0,1003.9 1012.4,1007.9 1012.8,1005.8 1013.2,1005.5 1013.6,1004.9 1014.0,1003.9 1014.4,1004.7 1014.8,1003.0 1015.2,1005.6 1015.6,1002.7 1016.0,1009.1 1016.4,1005.4 1016.8,1003.0 1017.2,1005.6 1017.6,1005.5 1018.0,1004.6 1018.4,1006.0 1018.8,1004.4 1019.2,1005.3 1019.6,1005.1 1020.0,1006.1 1020.4,1004.5 1020.8,1005.9 1021.2,1001.3 1021.6,1007.4 1022.0,1006.1 1022.4,1006.6 1022.8,1005.3 1023.2,1007.0 1023.6,1005.5 1024.0,1005.7 1024.4,1005.4 1024.8,1004.3 1025.2,1003.7 1025.6,1005.9 1026.0,1006.2 1026.4,1005.3 1026.8,1007.4 1027.2,1005.7 1027.6,1006.4 1028.0,1007.3 1028.4,1006.8 1028.8,1005.5 1029.2,1004.1 1029.6,1004.5 1030.0,1003.8 1030.4,1006.5 1030.8,999.7 1031.2,1008.4 1031.6,1004.2 1032.0,1007.4 1032.4,1006.3 1032.8,1006.7 1033.2,1003.9 1033.6,1007.5 1034.0,1005.8 1034.4,1006.9 1034.8,1004.3 1035.2,1005.5 1035.6,1004.4 1036.0,1005.8 1036.4,1006.4 1036.8,1004.9 1037.2,1005.8 1037.6,1005.7 1038.0,1004.7 1038.4,1004.2 1038.8,1001.3 1039.2,1005.6 1039.6,1004.0 1040.0,1003.1 1040.4,1003.7 1040.8,1002.5 1041.2,1002.6 1041.6,1003.7 1042.0,1000.5 1042.4,1002.4 1042.8,1003.5 1043.2,1001.2 1043.6,1002.5 1044.0,1006.6 1044.4,1008.4 1044.8,1005.7 1045.2,1006.2 1045.6,1003.8 1046.0,1007.2 1046.4,1005.1 1046.8,1005.5 1047.2,1006.1 1047.6,1004.7 1048.0,1004.5 1048.4,1005.5 1048.8,1003.8 1049.2,1004.4 1049.6,1001.2 1050.0,1003.6 1050.4,1005.8 1050.8,1006.8 1051.2,1006.1 1051.6,1004.1 1052.0,1005.8 1052.4,1004.6 1052.8,1004.8 1053.2,1008.3 1053.6,1006.5 1054.0,1006.6 1054.4,1007.2 1054.8,1007.9 1055.2,1006.1 1055.6,1005.1 1056.0,1005.7 1056.4,1005.0 1056.8,1004.8 1057.2,1002.1 1057.6,1004.4 1058.0,1005.7 1058.4,1004.5 1058.8,1008.9 1059.2,1009.5 1059.6,1008.6 1060.0,1004.6 1060.4,1006.8 1060.8,1007.0 1061.2,1007.1 1061.6,1004.3 1062.0,1008.3 1062.4,1009.5 1062.8,1008.1 1063.2,1009.9 1063.6,1005.9 1064.0,1007.1 1064.4,1007.8 1064.8,1004.3 1065.2,1005.6 1065.6,1004.8 1066.0,1007.5 1066.4,1004.7 1066.8,1007.0 1067.2,1005.8 1067.6,1008.0 1068.0,1005.8 1068.4,1006.2 1068.8,1006.7 1069.2,1004.9 1069.6,1005.3 1070.0,1005.4 1070.4,1005.1 1070.8,1006.4 1071.2,1005.0 1071.6,1006.4 1072.0,1006.0 1072.4,1005.5 1072.8,1004.8 1073.2,1003.5 1073.6,1005.3 1074.0,1007.3 1074.4,1006.2 1074.8,1009.2 1075.2,1005.5 1075.6,1006.5 1076.0,1004.6 1076.4,1008.7 1076.8,1004.8 1077.2,1007.4 1077.6,1006.9 1078.0,1010.1 1078.4,1008.1 1078.8,1007.5 1079.2,1006.8 1079.6,1009.8 1080.0,1006.4 1080.4,1005.1 1080.8,1008.2 1081.2,1006.8 1081.6,1005.9 1082.0,1007.5 1082.4,1007.7 1082.8,1004.5 1083.2,1008.4 1083.6,1010.0 1084.0,1006.6 1084.4,1005.0 1084.8,1007.7 1085.2,1007.0 1085.6,1008.1 1086.0,1008.2 1086.4,1006.6 1086.8,1009.1 1087.2,1004.0 1087.6,1006.1 1088.0,1007.7 1088.4,1008.2 1088.8,1007.5 1089.2,1008.3 1089.6,1005.4 1090.0,1003.7 1090.4,1008.3 1090.8,1009.0 1091.2,1007.0 1091.6,1005.2 1092.0,1006.1 1092.4,1008.2 1092.8,1007.7 1093.2,1009.3 1093.6,1009.6 1094.0,1008.7 1094.4,1006.3 1094.8,1008.2 1095.2,1007.3 1095.6,1007.1 1096.0,1007.4 1096.4,1007.2 1096.8,1006.0 1097.2,1008.1 1097.6,1006.4 1098.0,1007.4 1098.4,1008.7 1098.8,1008.7 1099.2,1004.6 1099.6,1006.2 1100.0,1005.5 1100.4,1007.5 1100.8,1005.9 1101.2,1008.5 1101.6,1006.4 1102.0,1007.9 1102.4,1005.7 1102.8,1006.1 1103.2,1006.8 1103.6,1008.0 1104.0,1004.3 1104.4,1007.6 1104.8,1005.1 1105.2,1007.6 1105.6,1004.5 1106.0,1006.6 1106.4,1009.2 1106.8,1009.7 1107.2,1006.1 1107.6,1010.3 1108.0,1007.0 1108.4,1007.7 1108.8,1008.3 1109.2,1007.6 1109.6,1008.0 1110.0,1007.8 1110.4,1008.9 1110.8,1008.0 1111.2,1007.1 1111.6,1006.3 1112.0,1006.3 1112.4,1007.8 1112.8,1008.9 1113.2,1008.0 1113.6,1006.8 1114.0,1007.7 1114.4,1006.0 1114.8,1007.1 1115.2,1007.8 1115.6,1006.8 1116.0,1009.6 1116.4,1009.5 1116.8,1007.5 1117.2,1009.0 1117.6,1008.4 1118.0,1008.7 1118.4,1008.7 1118.8,1010.2 1119.2,1008.6 1119.6,1008.3 1120.0,1009.0 1120.4,1008.8 1120.8,1010.0 1121.2,1006.1 1121.6,1008.3 1122.0,1004.5 1122.4,1007.3 1122.8,1005.2 1123.2,1005.2 1123.6,1007.1 1124.0,1005.8 1124.4,1007.2 1124.8,1003.7 1125.2,1010.1 1125.6,1003.8 1126.0,1006.7 1126.4,1010.1 1126.8,1005.3 1127.2,1009.9 1127.6,1009.0 1128.0,1007.1 1128.4,1006.5 1128.8,1006.5 1129.2,1007.2 1129.6,1008.0 1130.0,1008.3 1130.4,1002.9 1130.8,1007.3 1131.2,1007.0 1131.6,1004.5 1132.0,1008.1 1132.4,1008.4 1132.8,1008.6 1133.2,1007.3 1133.6,1008.8 1134.0,1009.5 1134.4,1006.5 1134.8,1006.6 1135.2,1006.2 1135.6,1008.7 1136.0,1006.9 1136.4,1005.9 1136.8,1005.8 1137.2,1005.8 1137.6,1008.3 1138.0,1009.1 1138.4,1009.6 1138.8,1005.8 1139.2,1005.5 1139.6,1005.4 1140.0,1005.6 1140.4,1004.8 1140.8,1009.5 1141.2,1007.9 1141.6,1006.4 1142.0,1003.2 1142.4,1009.0 1142.8,1008.1 1143.2,1007.1 1143.6,1008.1 1144.0,1006.1 1144.4,1008.3 1144.8,1006.4 1145.2,1007.8 1145.6,1006.6 1146.0,1004.7 1146.4,1005.1 1146.8,1008.4 1147.2,1008.4 1147.6,1006.8 1148.0,1006.0 1148.4,1006.4 1148.8,1007.7 1149.2,1005.0 1149.6,1008.6 1150.0,1005.9 1150.4,1005.4 1150.8,1007.1 1151.2,1010.1 1151.6,1006.2 1152.0,1006.9 1152.4,1005.8 1152.8,1008.1 1153.2,1008.1 1153.6,1007.6 1154.0,1006.9 1154.4,1007.7 1154.8,1008.1 1155.2,1006.0 1155.6,1006.2 1156.0,1005.6 1156.4,1005.7 1156.8,1008.6 1157.2,1005.3 1157.6,1007.0 1158.0,1008.2 1158.4,1005.6 1158.8,1007.2 1159.2,1007.6 1159.6,1004.4 1160.0,1008.4 1160.4,1005.5 1160.8,1007.3 1161.2,1004.8 1161.6,1004.7 1162.0,1006.9 1162.4,1009.8 1162.8,1011.2 1163.2,1011.4 1163.6,1009.2 1164.0,1008.8 1164.4,1008.3 1164.8,1008.2 1165.2,1006.7 1165.6,1006.7 1166.0,1008.2 1166.4,1008.4 1166.8,1006.8 1167.2,1005.8 1167.6,1006.3 1168.0,1012.4 1168.4,1006.0 1168.8,1009.3 1169.2,1009.0 1169.6,1008.8 1170.0,1006.1 1170.4,1009.9 1170.8,1007.1 1171.2,1005.6 1171.6,1005.2 1172.0,1006.1 1172.4,1009.6 1172.8,1004.6 1173.2,1005.7 1173.6,1006.9 1174.0,1007.7 1174.4,1005.4 1174.8,1005.7 1175.2,1006.6 1175.6,1008.6 1176.0,1007.3 1176.4,1007.1 1176.8,1007.7 1177.2,1007.6 1177.6,1008.8 1178.0,1006.1 1178.4,1007.0 1178.8,1005.9 1179.2,1008.1 1179.6,1008.5 1180.0,1007.1 1180.4,1009.3 1180.8,1007.1 1181.2,1009.4 1181.6,1006.5 1182.0,1006.5 1182.4,1004.9 1182.8,1005.5 1183.2,1006.2 1183.6,1003.4 1184.0,1006.5 1184.4,1007.9 1184.8,1007.6 1185.2,1007.2 1185.6,1008.2 1186.0,1006.5 1186.4,1006.9 1186.8,1009.2 1187.2,1007.8 1187.6,1009.5 1188.0,1007.0 1188.4,1008.6 1188.8,1009.2 1189.2,1006.9 1189.6,1009.3 1190.0,1008.8 1190.4,1002.4 1190.8,1010.0 1191.2,1003.4 1191.6,1009.9 1192.0,1005.0 1192.4,1003.4 1192.8,1004.6 1193.2,1007.3 1193.6,1004.9 1194.0,1005.5 1194.4,1008.2 1194.8,1005.0 1195.2,1007.5 1195.6,1008.9 1196.0,1004.2 1196.4,1005.3 1196.8,1007.4 1197.2,1007.1 1197.6,1007.5 1198.0,1003.9 1198.4,1005.8 1198.8,1007.8 1199.2,1008.3 1199.6,1009.4 1200.0,1006.9 1200.4,1006.2 1200.8,1005.7 1201.2,1005.6 1201.6,1003.8 1202.0,1009.6 1202.4,1006.3 1202.8,1005.9 1203.2,1006.0 1203.6,1007.7 1204.0,1006.9 1204.4,1005.3 1204.8,1008.0 1205.2,1006.7 1205.6,1006.0 1206.0,1006.2 1206.4,1007.8 1206.8,1007.0 1207.2,1005.9 1207.6,1007.8 1208.0,1003.1 1208.4,1007.9 1208.8,1005.7 1209.2,1006.0 1209.6,1006.5 1210.0,1009.6 1210.4,1006.3 1210.8,1006.2 1211.2,1007.4 1211.6,1003.4 1212.0,1006.2 1212.4,1007.7 1212.8,1005.1 1213.2,1007.5 1213.6,1005.4 1214.0,1004.2 1214.4,1007.9 1214.8,1006.6 1215.2,1007.6 1215.6,1006.8 1216.0,1004.9 1216.4,1008.3 1216.8,1007.4 1217.2,1007.3 1217.6,1005.9 1218.0,1004.6 1218.4,1008.4 1218.8,1007.4 1219.2,1006.7 1219.6,1005.8 1220.0,1008.9 1220.4,1005.5 1220.8,1005.4 1221.2,1009.6 1221.6,1006.9 1222.0,1007.2 1222.4,1006.8 1222.8,1009.1 1223.2,1006.7 1223.6,1007.2 1224.0,1005.3 1224.4,1007.0 1224.8,1004.7 1225.2,1006.7 1225.6,1007.4 1226.0,1008.6 1226.4,1009.5 1226.8,1006.1 1227.2,1005.2 1227.6,1006.9 1228.0,1005.0 1228.4,1009.1 1228.8,1008.7 1229.2,1005.5 1229.6,1007.5 1230.0,1009.2 1230.4,1005.6 1230.8,1006.0 1231.2,1006.5 1231.6,1008.5 1232.0,1007.0 1232.4,1005.8 1232.8,1006.5 1233.2,1006.0 1233.6,1006.2 1234.0,1006.7 1234.4,1006.5 1234.8,1007.5 1235.2,1006.8 1235.6,1006.6 1236.0,1006.8 1236.4,1004.9 1236.8,1006.5 1237.2,1009.8 1237.6,1006.7 1238.0,1007.3 1238.4,1007.7 1238.8,1005.6 1239.2,1006.0 1239.6,1007.5 1240.0,1005.3 1240.4,1008.2 1240.8,1008.0 1241.2,1007.4 1241.6,1007.6 1242.0,1008.4 1242.4,1007.3 1242.8,1003.1 1243.2,1007.5 1243.6,1005.1 1244.0,1005.7 1244.4,1005.8 1244.8,1005.8 1245.2,1003.8 1245.6,1003.5 1246.0,1006.3 1246.4,1006.5 1246.8,1007.0 1247.2,1004.3 1247.6,1005.7 1248.0,1007.5 1248.4,1005.9 1248.8,1005.8 1249.2,1010.1 1249.6,1004.5 1250.0,1005.7 1250.4,1005.1 1250.8,1005.9 1251.2,1011.4 1251.6,1004.9 1252.0,1006.0 1252.4,1005.6 1252.8,1005.3 1253.2,1007.8 1253.6,1005.7 1254.0,1008.0 1254.4,1008.4 1254.8,1005.5 1255.2,1008.5 1255.6,1004.5 1256.0,1006.8 1256.4,1007.8 1256.8,1004.5 1257.2,1006.0 1257.6,1006.8 1258.0,1007.1 1258.4,1007.0 1258.8,1009.8 1259.2,1006.8 1259.6,1009.1 1260.0,1010.7 1260.4,1006.6 1260.8,1007.0 1261.2,1006.2 1261.6,1008.9 1262.0,1010.1 1262.4,1005.2 1262.8,1006.3 1263.2,1006.7 1263.6,1011.0 1264.0,1007.1 1264.4,1008.4 1264.8,1006.0 1265.2,1009.3 1265.6,1006.1 1266.0,1007.5 1266.4,1005.9 1266.8,1007.5 1267.2,1007.6 1267.6,1008.2 1268.0,1008.1 1268.4,1010.5 1268.8,1006.4 1269.2,1009.5 1269.6,1008.0 1270.0,1007.4 1270.4,1008.2 1270.8,1008.0 1271.2,1008.8 1271.6,1008.6 1272.0,1007.9 1272.4,1007.0 1272.8,1003.8 1273.2,1007.4 1273.6,1007.9 1274.0,1007.0 1274.4,1007.3 1274.8,1005.8 1275.2,1007.7 1275.6,1008.4 1276.0,1004.8 1276.4,1005.9 1276.8,1005.8 1277.2,1008.8 1277.6,1006.7 1278.0,1005.1 1278.4,1008.4 1278.8,1010.4 1279.2,1008.1 1279.6,1007.5 1280.0,1008.3 1280.4,1010.6 1280.8,1007.7 1281.2,1007.9 1281.6,1009.2 1282.0,1007.4 1282.4,1005.9 1282.8,1008.5 1283.2,1007.5 1283.6,1008.6 1284.0,1008.3 1284.4,1009.1 1284.8,1006.6 1285.2,1008.7 1285.6,1006.7 1286.0,1008.3 1286.4,1006.9 1286.8,1009.9 1287.2,1005.8 1287.6,1003.7 1288.0,1007.6 1288.4,1007.1 1288.8,1006.7 1289.2,1008.7 1289.6,1010.8 1290.0,1007.9 1290.4,1007.0 1290.8,1010.4 1291.2,1010.1 1291.6,1008.7 1292.0,1007.9 1292.4,1009.9 1292.8,1007.7 1293.2,1007.9 1293.6,1007.7 1294.0,1010.0 1294.4,1011.4 1294.8,1009.1 1295.2,1011.5 1295.6,1005.7 1296.0,1008.6 1296.4,1005.9 1296.8,1009.8 1297.2,1010.3 1297.6,1005.6 1298.0,1007.2 1298.4,1008.6 1298.8,1006.4 1299.2,1007.4 1299.6,1007.3 1300.0,1009.0 1300.4,1007.6 1300.8,1006.9 1301.2,1007.2 1301.6,1008.1 1302.0,1008.2 1302.4,1007.6 1302.8,1009.7 1303.2,1007.1 1303.6,1007.8 1304.0,1008.7 1304.4,1007.5 1304.8,1010.4 1305.2,1009.8 1305.6,1010.0 1306.0,1007.4 1306.4,1008.3 1306.8,1009.2 1307.2,1009.8 1307.6,1007.2 1308.0,1007.4 1308.4,1006.3 1308.8,1006.1 1309.2,1010.1 1309.6,1008.4 1310.0,1009.2 1310.4,1009.8 1310.8,1007.9 1311.2,1008.1 1311.6,1006.4 1312.0,1007.4 1312.4,1009.2 1312.8,1011.0 1313.2,1010.6 1313.6,1008.0 1314.0,1007.7 1314.4,1009.7 1314.8,1009.1 1315.2,1009.1 1315.6,1008.6 1316.0,1010.2 1316.4,1008.8 1316.8,1010.6 1317.2,1009.3 1317.6,1008.5 1318.0,1006.9 1318.4,1009.2 1318.8,1010.1 1319.2,1009.0 1319.6,1007.3 1320.0,1006.0 1320.4,1008.4 1320.8,1011.5 1321.2,1007.1 1321.6,1008.0 1322.0,1008.8 1322.4,1010.0 1322.8,1007.2 1323.2,1009.0 1323.6,1009.7 1324.0,1007.6 1324.4,1010.1 1324.8,1007.8 1325.2,1009.4 1325.6,1009.9 1326.0,1009.1 1326.4,1007.2 1326.8,1010.2 1327.2,1010.3 1327.6,1009.5 1328.0,1010.3 1328.4,1008.3 1328.8,1007.7 1329.2,1008.8 1329.6,1009.9 1330.0,1010.8 1330.4,1008.6 1330.8,1010.1 1331.2,1009.9 1331.6,1008.8 1332.0,1006.3 1332.4,1006.6 1332.8,1010.4 1333.2,1006.7 1333.6,1006.4 1334.0,1007.0 1334.4,1008.6 1334.8,1011.0 1335.2,1009.5 1335.6,1008.1 1336.0,1008.2 1336.4,1009.3 1336.8,1008.8 1337.2,1006.2 1337.6,1010.9 1338.0,1010.7 1338.4,1007.9 1338.8,1009.2 1339.2,1010.2 1339.6,1009.9 1340.0,1009.0 1340.4,1009.7 1340.8,1012.5 1341.2,1009.5 1341.6,1011.5 1342.0,1010.3 1342.4,1008.0 1342.8,1010.6 1343.2,1010.2 1343.6,1011.6 1344.0,1012.4 1344.4,1011.7 1344.8,1010.6 1345.2,1010.6 1345.6,1010.8 1346.0,1007.9 1346.4,1007.4 1346.8,1009.8 1347.2,1007.0 1347.6,1008.5 1348.0,1011.9 1348.4,1010.9 1348.8,1011.6 1349.2,1009.7 1349.6,1011.3 1350.0,1008.0 1350.4,1007.9 1350.8,1008.9 1351.2,1008.3 1351.6,1011.7 1352.0,1009.7 1352.4,1008.3 1352.8,1011.3 1353.2,1011.0 1353.6,1011.7 1354.0,1008.3 1354.4,1008.8 1354.8,1006.6 1355.2,1010.3 1355.6,1009.5 1356.0,1008.6"/>
<polyline fill="none" stroke="#cf4a4c" stroke-width="2.4" stroke-linejoin="round" points="120.0,841.7 120.4,828.5 120.8,836.6 121.2,833.5 121.6,833.4 122.0,833.7 122.4,828.3 122.8,833.0 123.2,831.1 123.6,842.8 124.0,834.3 124.4,833.1 124.8,833.8 125.2,833.4 125.6,832.9 126.0,835.1 126.4,837.5 126.8,835.1 127.2,838.0 127.6,834.5 128.0,835.0 128.4,839.6 128.8,837.1 129.2,834.3 129.6,835.0 130.0,836.6 130.4,840.3 130.8,834.4 131.2,835.1 131.6,839.3 132.0,834.2 132.4,835.7 132.8,838.3 133.2,836.9 133.6,835.1 134.0,836.6 134.4,827.0 134.8,838.0 135.2,832.6 135.6,830.6 136.0,835.7 136.4,836.5 136.8,833.0 137.2,831.2 137.6,834.5 138.0,834.9 138.4,839.6 138.8,838.0 139.2,836.3 139.6,838.4 140.0,834.0 140.4,831.4 140.8,835.3 141.2,835.3 141.6,833.3 142.0,831.9 142.4,834.9 142.8,827.4 143.2,836.5 143.6,836.2 144.0,830.3 144.4,835.0 144.8,832.2 145.2,836.9 145.6,828.8 146.0,831.5 146.4,835.7 146.8,836.7 147.2,827.4 147.6,832.4 148.0,835.4 148.4,833.3 148.8,839.6 149.2,831.6 149.6,835.5 150.0,831.2 150.4,837.9 150.8,834.0 151.2,833.2 151.6,829.6 152.0,839.1 152.4,836.6 152.8,836.4 153.2,837.1 153.6,834.4 154.0,831.1 154.4,830.2 154.8,830.1 155.2,836.4 155.6,829.0 156.0,831.9 156.4,832.9 156.8,834.2 157.2,834.8 157.6,829.2 158.0,827.5 158.4,832.1 158.8,835.3 159.2,833.7 159.6,831.9 160.0,830.4 160.4,832.3 160.8,831.1 161.2,834.5 161.6,830.3 162.0,833.0 162.4,832.2 162.8,833.8 163.2,832.8 163.6,839.2 164.0,836.5 164.4,837.1 164.8,827.8 165.2,832.8 165.6,832.0 166.0,834.8 166.4,826.3 166.8,835.6 167.2,835.4 167.6,829.2 168.0,830.6 168.4,831.4 168.8,833.6 169.2,834.7 169.6,837.9 170.0,830.9 170.4,833.0 170.8,831.0 171.2,835.5 171.6,832.9 172.0,834.7 172.4,827.9 172.8,830.4 173.2,828.8 173.6,835.4 174.0,833.0 174.4,830.1 174.8,829.5 175.2,831.8 175.6,828.3 176.0,827.7 176.4,831.7 176.8,837.2 177.2,829.2 177.6,827.8 178.0,825.6 178.4,825.0 178.8,830.5 179.2,831.7 179.6,829.4 180.0,830.2 180.4,829.3 180.8,829.2 181.2,824.7 181.6,828.0 182.0,830.0 182.4,827.9 182.8,829.0 183.2,828.2 183.6,829.6 184.0,832.5 184.4,828.5 184.8,828.5 185.2,830.7 185.6,829.8 186.0,832.6 186.4,822.0 186.8,830.3 187.2,826.5 187.6,828.0 188.0,829.6 188.4,829.9 188.8,829.5 189.2,826.8 189.6,830.9 190.0,825.7 190.4,826.2 190.8,829.0 191.2,825.3 191.6,832.9 192.0,829.6 192.4,832.6 192.8,826.2 193.2,825.1 193.6,826.8 194.0,828.6 194.4,825.4 194.8,828.5 195.2,827.6 195.6,832.5 196.0,826.1 196.4,830.9 196.8,826.1 197.2,825.0 197.6,825.4 198.0,823.4 198.4,826.5 198.8,828.3 199.2,825.3 199.6,826.3 200.0,829.1 200.4,825.3 200.8,825.0 201.2,823.6 201.6,819.8 202.0,826.7 202.4,819.7 202.8,826.8 203.2,825.5 203.6,829.2 204.0,826.7 204.4,825.3 204.8,829.1 205.2,826.3 205.6,826.6 206.0,826.4 206.4,825.2 206.8,824.6 207.2,822.6 207.6,824.4 208.0,818.8 208.4,824.1 208.8,820.7 209.2,826.8 209.6,827.1 210.0,818.1 210.4,824.1 210.8,823.4 211.2,820.6 211.6,824.7 212.0,821.7 212.4,818.0 212.8,822.4 213.2,823.0 213.6,823.8 214.0,820.2 214.4,825.6 214.8,826.3 215.2,821.3 215.6,822.8 216.0,824.5 216.4,823.1 216.8,829.3 217.2,824.8 217.6,821.0 218.0,821.2 218.4,822.8 218.8,829.1 219.2,822.1 219.6,823.0 220.0,824.1 220.4,822.5 220.8,828.8 221.2,820.9 221.6,824.4 222.0,822.6 222.4,823.5 222.8,818.2 223.2,826.3 223.6,821.3 224.0,822.0 224.4,819.8 224.8,820.7 225.2,824.4 225.6,825.3 226.0,824.2 226.4,825.0 226.8,823.0 227.2,820.7 227.6,823.0 228.0,822.6 228.4,821.2 228.8,823.9 229.2,825.8 229.6,823.1 230.0,821.6 230.4,825.1 230.8,828.8 231.2,823.1 231.6,823.2 232.0,822.6 232.4,825.6 232.8,816.5 233.2,822.2 233.6,824.4 234.0,818.7 234.4,825.0 234.8,822.1 235.2,818.8 235.6,820.7 236.0,815.6 236.4,818.2 236.8,824.9 237.2,817.2 237.6,824.6 238.0,818.5 238.4,820.6 238.8,817.0 239.2,809.9 239.6,814.6 240.0,817.0 240.4,814.0 240.8,814.3 241.2,819.9 241.6,817.6 242.0,815.1 242.4,818.1 242.8,822.5 243.2,818.4 243.6,822.1 244.0,823.3 244.4,818.6 244.8,815.0 245.2,814.3 245.6,817.8 246.0,820.4 246.4,818.7 246.8,819.6 247.2,816.7 247.6,818.7 248.0,816.5 248.4,816.8 248.8,814.1 249.2,813.5 249.6,816.7 250.0,815.3 250.4,816.0 250.8,820.7 251.2,818.6 251.6,827.0 252.0,821.5 252.4,817.4 252.8,821.9 253.2,821.3 253.6,818.6 254.0,823.9 254.4,818.9 254.8,812.7 255.2,823.5 255.6,819.3 256.0,824.6 256.4,817.8 256.8,815.5 257.2,822.7 257.6,815.1 258.0,818.8 258.4,822.2 258.8,818.2 259.2,817.2 259.6,817.3 260.0,819.3 260.4,814.7 260.8,818.9 261.2,819.1 261.6,824.0 262.0,816.5 262.4,815.0 262.8,819.7 263.2,816.4 263.6,818.1 264.0,817.3 264.4,819.8 264.8,814.6 265.2,816.5 265.6,810.2 266.0,815.3 266.4,822.4 266.8,816.5 267.2,816.5 267.6,814.8 268.0,819.7 268.4,818.3 268.8,814.2 269.2,819.2 269.6,817.9 270.0,819.2 270.4,815.3 270.8,822.2 271.2,818.9 271.6,817.6 272.0,816.6 272.4,817.1 272.8,819.8 273.2,816.3 273.6,819.7 274.0,818.0 274.4,819.9 274.8,818.6 275.2,816.4 275.6,811.7 276.0,818.1 276.4,819.3 276.8,817.1 277.2,817.6 277.6,814.3 278.0,814.2 278.4,812.8 278.8,819.5 279.2,816.5 279.6,815.1 280.0,813.2 280.4,816.8 280.8,821.3 281.2,818.5 281.6,815.0 282.0,820.9 282.4,821.2 282.8,820.2 283.2,820.0 283.6,821.0 284.0,819.1 284.4,819.4 284.8,814.3 285.2,819.9 285.6,815.6 286.0,820.0 286.4,808.4 286.8,816.0 287.2,816.9 287.6,813.3 288.0,816.0 288.4,817.5 288.8,817.8 289.2,815.4 289.6,816.9 290.0,820.2 290.4,820.7 290.8,817.1 291.2,816.6 291.6,816.5 292.0,818.3 292.4,812.1 292.8,811.4 293.2,815.8 293.6,812.7 294.0,814.3 294.4,816.0 294.8,816.6 295.2,811.8 295.6,817.1 296.0,810.5 296.4,818.0 296.8,813.1 297.2,814.5 297.6,819.7 298.0,816.1 298.4,814.4 298.8,815.0 299.2,817.3 299.6,815.8 300.0,815.9 300.4,818.8 300.8,813.6 301.2,814.2 301.6,814.1 302.0,819.1 302.4,818.9 302.8,819.8 303.2,816.2 303.6,815.8 304.0,818.8 304.4,815.5 304.8,819.1 305.2,818.9 305.6,814.8 306.0,816.3 306.4,816.0 306.8,820.8 307.2,823.0 307.6,815.4 308.0,815.9 308.4,809.8 308.8,817.2 309.2,816.8 309.6,813.8 310.0,818.8 310.4,811.9 310.8,815.5 311.2,816.2 311.6,812.1 312.0,817.9 312.4,818.6 312.8,812.3 313.2,813.0 313.6,819.4 314.0,818.1 314.4,814.8 314.8,817.1 315.2,817.3 315.6,817.0 316.0,819.9 316.4,819.1 316.8,823.5 317.2,822.6 317.6,820.6 318.0,821.4 318.4,821.7 318.8,819.6 319.2,814.0 319.6,819.8 320.0,817.5 320.4,821.6 320.8,817.1 321.2,818.1 321.6,817.7 322.0,821.9 322.4,818.2 322.8,817.5 323.2,819.5 323.6,817.7 324.0,819.6 324.4,819.2 324.8,819.9 325.2,824.3 325.6,817.5 326.0,818.5 326.4,817.8 326.8,820.4 327.2,815.7 327.6,817.6 328.0,819.9 328.4,821.9 328.8,820.4 329.2,818.9 329.6,817.6 330.0,821.1 330.4,823.5 330.8,820.3 331.2,820.0 331.6,821.0 332.0,817.5 332.4,819.8 332.8,820.3 333.2,822.2 333.6,821.3 334.0,817.9 334.4,824.3 334.8,825.8 335.2,820.1 335.6,821.6 336.0,820.8 336.4,821.9 336.8,815.2 337.2,823.8 337.6,817.9 338.0,822.7 338.4,819.3 338.8,818.1 339.2,819.0 339.6,822.2 340.0,817.4 340.4,818.8 340.8,818.4 341.2,814.7 341.6,822.9 342.0,820.7 342.4,818.9 342.8,822.5 343.2,817.1 343.6,820.2 344.0,825.6 344.4,823.7 344.8,814.5 345.2,811.0 345.6,817.0 346.0,822.5 346.4,817.8 346.8,818.3 347.2,820.5 347.6,816.7 348.0,820.3 348.4,822.6 348.8,822.1 349.2,822.0 349.6,818.8 350.0,821.4 350.4,818.2 350.8,823.0 351.2,826.9 351.6,818.3 352.0,814.9 352.4,820.2 352.8,822.7 353.2,824.4 353.6,824.2 354.0,818.6 354.4,818.0 354.8,823.1 355.2,816.0 355.6,822.0 356.0,818.5 356.4,821.5 356.8,821.4 357.2,821.3 357.6,820.9 358.0,815.3 358.4,818.8 358.8,818.5 359.2,820.3 359.6,823.8 360.0,820.2 360.4,818.9 360.8,818.3 361.2,818.7 361.6,821.0 362.0,816.4 362.4,822.1 362.8,820.1 363.2,819.0 363.6,816.2 364.0,821.0 364.4,822.7 364.8,816.2 365.2,824.7 365.6,825.7 366.0,821.5 366.4,821.1 366.8,825.9 367.2,822.3 367.6,816.7 368.0,819.8 368.4,820.2 368.8,820.6 369.2,814.2 369.6,822.3 370.0,817.8 370.4,819.9 370.8,819.5 371.2,823.1 371.6,820.5 372.0,819.5 372.4,823.4 372.8,825.9 373.2,821.2 373.6,826.2 374.0,823.2 374.4,820.7 374.8,826.0 375.2,818.8 375.6,823.4 376.0,818.7 376.4,821.1 376.8,816.1 377.2,817.2 377.6,822.6 378.0,820.3 378.4,820.2 378.8,819.3 379.2,822.3 379.6,817.4 380.0,818.3 380.4,821.0 380.8,819.1 381.2,819.4 381.6,821.2 382.0,821.1 382.4,821.1 382.8,826.4 383.2,824.7 383.6,825.2 384.0,821.5 384.4,820.0 384.8,817.3 385.2,820.4 385.6,815.5 386.0,819.6 386.4,823.4 386.8,825.8 387.2,824.1 387.6,819.0 388.0,822.9 388.4,819.6 388.8,824.2 389.2,821.6 389.6,824.2 390.0,828.8 390.4,824.0 390.8,828.0 391.2,822.1 391.6,820.9 392.0,825.7 392.4,826.8 392.8,819.9 393.2,820.9 393.6,816.0 394.0,818.9 394.4,821.9 394.8,819.6 395.2,819.0 395.6,817.2 396.0,822.4 396.4,823.4 396.8,822.3 397.2,820.6 397.6,816.0 398.0,824.7 398.4,820.3 398.8,820.9 399.2,824.1 399.6,816.4 400.0,822.4 400.4,822.2 400.8,823.7 401.2,826.5 401.6,823.9 402.0,817.0 402.4,820.8 402.8,821.8 403.2,821.4 403.6,817.6 404.0,817.0 404.4,823.5 404.8,822.8 405.2,821.5 405.6,816.0 406.0,825.4 406.4,812.3 406.8,819.6 407.2,826.8 407.6,820.5 408.0,821.4 408.4,817.5 408.8,824.8 409.2,817.8 409.6,822.7 410.0,822.8 410.4,819.6 410.8,824.9 411.2,818.5 411.6,820.6 412.0,822.7 412.4,821.8 412.8,824.1 413.2,824.9 413.6,820.9 414.0,819.7 414.4,819.7 414.8,820.1 415.2,823.6 415.6,820.9 416.0,822.9 416.4,821.7 416.8,819.6 417.2,824.2 417.6,818.4 418.0,820.8 418.4,824.5 418.8,817.2 419.2,820.2 419.6,816.0 420.0,819.0 420.4,816.1 420.8,819.0 421.2,818.4 421.6,820.2 422.0,824.6 422.4,821.1 422.8,822.3 423.2,820.2 423.6,819.6 424.0,817.9 424.4,815.2 424.8,820.5 425.2,824.9 425.6,821.4 426.0,818.2 426.4,824.0 426.8,817.8 427.2,817.1 427.6,815.6 428.0,816.7 428.4,819.2 428.8,826.0 429.2,820.2 429.6,817.9 430.0,819.1 430.4,819.9 430.8,815.5 431.2,820.4 431.6,822.0 432.0,820.7 432.4,821.4 432.8,815.8 433.2,814.3 433.6,822.5 434.0,822.2 434.4,815.1 434.8,820.4 435.2,820.0 435.6,821.5 436.0,820.7 436.4,819.2 436.8,821.5 437.2,821.7 437.6,820.9 438.0,815.3 438.4,811.2 438.8,816.8 439.2,814.3 439.6,819.9 440.0,821.7 440.4,820.9 440.8,819.3 441.2,820.5 441.6,823.4 442.0,817.8 442.4,822.1 442.8,820.9 443.2,819.0 443.6,821.6 444.0,814.8 444.4,819.0 444.8,813.7 445.2,814.1 445.6,813.4 446.0,817.6 446.4,813.8 446.8,816.4 447.2,812.7 447.6,818.1 448.0,819.5 448.4,814.1 448.8,817.5 449.2,814.1 449.6,818.6 450.0,812.8 450.4,807.9 450.8,815.9 451.2,810.4 451.6,806.5 452.0,805.8 452.4,801.0 452.8,802.8 453.2,797.8 453.6,802.3 454.0,797.0 454.4,786.4 454.8,781.5 455.2,777.2 455.6,764.5 456.0,758.3 456.4,744.1 456.8,724.0 457.2,702.5 457.6,678.8 458.0,650.9 458.4,617.3 458.8,577.3 459.2,543.1 459.6,503.8 460.0,477.2 460.4,453.1 460.8,450.4 461.2,452.1 461.6,473.1 462.0,505.5 462.4,542.1 462.8,573.3 463.2,611.5 463.6,646.6 464.0,676.5 464.4,699.2 464.8,723.6 465.2,740.9 465.6,760.6 466.0,770.4 466.4,774.7 466.8,779.8 467.2,791.9 467.6,799.2 468.0,799.7 468.4,804.3 468.8,802.5 469.2,801.7 469.6,809.0 470.0,808.2 470.4,810.7 470.8,805.7 471.2,811.0 471.6,809.8 472.0,815.0 472.4,812.2 472.8,813.2 473.2,814.1 473.6,819.9 474.0,816.7 474.4,814.7 474.8,814.4 475.2,814.8 475.6,822.7 476.0,814.5 476.4,817.8 476.8,822.6 477.2,824.6 477.6,821.4 478.0,824.5 478.4,824.7 478.8,825.5 479.2,822.8 479.6,827.2 480.0,823.1 480.4,826.9 480.8,819.7 481.2,825.7 481.6,819.7 482.0,819.0 482.4,824.6 482.8,820.9 483.2,824.5 483.6,820.4 484.0,828.1 484.4,823.7 484.8,820.6 485.2,824.4 485.6,826.4 486.0,821.8 486.4,825.5 486.8,829.9 487.2,826.7 487.6,824.3 488.0,822.7 488.4,826.0 488.8,820.3 489.2,816.4 489.6,823.4 490.0,822.6 490.4,830.6 490.8,826.1 491.2,822.9 491.6,822.4 492.0,827.1 492.4,823.3 492.8,824.0 493.2,825.2 493.6,825.4 494.0,825.3 494.4,825.3 494.8,828.6 495.2,829.9 495.6,820.5 496.0,832.4 496.4,825.5 496.8,828.6 497.2,822.9 497.6,825.7 498.0,825.5 498.4,825.7 498.8,828.6 499.2,828.9 499.6,825.2 500.0,828.2 500.4,830.5 500.8,830.1 501.2,826.9 501.6,826.8 502.0,827.0 502.4,824.5 502.8,824.0 503.2,831.9 503.6,826.2 504.0,827.2 504.4,824.6 504.8,830.1 505.2,831.2 505.6,825.6 506.0,827.4 506.4,823.7 506.8,830.8 507.2,828.7 507.6,824.2 508.0,830.4 508.4,828.2 508.8,828.6 509.2,828.5 509.6,825.6 510.0,826.1 510.4,829.4 510.8,827.4 511.2,824.6 511.6,832.7 512.0,825.9 512.4,824.4 512.8,823.4 513.2,826.8 513.6,827.3 514.0,825.1 514.4,827.0 514.8,821.0 515.2,824.7 515.6,825.2 516.0,827.0 516.4,828.6 516.8,821.6 517.2,836.0 517.6,824.7 518.0,827.9 518.4,829.0 518.8,829.0 519.2,827.2 519.6,818.6 520.0,824.2 520.4,830.0 520.8,825.9 521.2,826.0 521.6,822.4 522.0,831.8 522.4,828.9 522.8,823.9 523.2,825.5 523.6,825.6 524.0,823.2 524.4,826.0 524.8,827.6 525.2,828.5 525.6,830.2 526.0,826.5 526.4,825.1 526.8,827.7 527.2,825.2 527.6,824.0 528.0,831.2 528.4,827.1 528.8,828.6 529.2,830.0 529.6,825.1 530.0,830.0 530.4,829.8 530.8,828.7 531.2,830.2 531.6,826.9 532.0,822.6 532.4,827.4 532.8,825.4 533.2,830.3 533.6,828.7 534.0,826.2 534.4,827.3 534.8,830.1 535.2,828.7 535.6,826.0 536.0,826.3 536.4,824.8 536.8,825.9 537.2,828.4 537.6,826.8 538.0,828.0 538.4,824.0 538.8,822.4 539.2,822.6 539.6,826.4 540.0,831.9 540.4,832.0 540.8,826.1 541.2,824.2 541.6,830.3 542.0,828.5 542.4,822.3 542.8,828.5 543.2,825.9 543.6,829.7 544.0,828.0 544.4,830.7 544.8,829.9 545.2,826.4 545.6,828.0 546.0,826.2 546.4,829.8 546.8,824.4 547.2,823.3 547.6,830.2 548.0,832.3 548.4,833.5 548.8,832.5 549.2,824.9 549.6,826.7 550.0,826.9 550.4,828.3 550.8,822.6 551.2,828.9 551.6,830.0 552.0,826.6 552.4,829.2 552.8,831.6 553.2,827.9 553.6,830.5 554.0,830.7 554.4,829.6 554.8,830.1 555.2,828.3 555.6,832.8 556.0,827.7 556.4,826.6 556.8,830.1 557.2,825.8 557.6,828.7 558.0,830.2 558.4,827.3 558.8,827.4 559.2,829.8 559.6,829.7 560.0,823.6 560.4,824.7 560.8,832.4 561.2,829.9 561.6,822.8 562.0,824.6 562.4,828.0 562.8,825.1 563.2,829.3 563.6,828.7 564.0,830.3 564.4,826.0 564.8,830.9 565.2,834.1 565.6,825.9 566.0,831.4 566.4,830.5 566.8,829.9 567.2,828.2 567.6,825.2 568.0,825.8 568.4,830.2 568.8,830.8 569.2,831.7 569.6,831.3 570.0,831.5 570.4,827.7 570.8,825.3 571.2,828.9 571.6,829.3 572.0,827.7 572.4,822.7 572.8,825.2 573.2,822.4 573.6,827.1 574.0,824.1 574.4,827.0 574.8,828.7 575.2,828.3 575.6,831.8 576.0,824.9 576.4,822.0 576.8,830.9 577.2,832.2 577.6,832.2 578.0,828.7 578.4,828.9 578.8,827.0 579.2,822.4 579.6,823.9 580.0,826.7 580.4,824.1 580.8,831.9 581.2,823.1 581.6,826.9 582.0,831.5 582.4,826.7 582.8,825.0 583.2,824.4 583.6,826.3 584.0,832.9 584.4,830.3 584.8,830.9 585.2,827.9 585.6,831.3 586.0,828.7 586.4,825.2 586.8,826.2 587.2,828.0 587.6,830.9 588.0,827.7 588.4,829.6 588.8,834.1 589.2,826.2 589.6,824.6 590.0,830.5 590.4,828.8 590.8,827.4 591.2,828.6 591.6,827.1 592.0,829.4 592.4,826.8 592.8,829.7 593.2,824.2 593.6,825.3 594.0,828.1 594.4,826.5 594.8,829.6 595.2,827.1 595.6,825.2 596.0,826.6 596.4,824.1 596.8,821.0 597.2,822.2 597.6,823.3 598.0,824.4 598.4,826.0 598.8,828.4 599.2,827.6 599.6,831.5 600.0,830.9 600.4,827.5 600.8,832.9 601.2,831.4 601.6,826.2 602.0,827.7 602.4,829.4 602.8,826.7 603.2,828.8 603.6,827.0 604.0,827.8 604.4,824.8 604.8,826.7 605.2,824.7 605.6,827.9 606.0,821.6 606.4,827.5 606.8,830.2 607.2,828.1 607.6,826.3 608.0,827.7 608.4,823.8 608.8,823.9 609.2,824.9 609.6,825.1 610.0,827.8 610.4,822.1 610.8,827.5 611.2,820.5 611.6,822.9 612.0,825.0 612.4,828.1 612.8,822.8 613.2,818.1 613.6,825.0 614.0,823.8 614.4,820.9 614.8,821.1 615.2,822.0 615.6,824.0 616.0,825.5 616.4,819.6 616.8,830.5 617.2,824.6 617.6,824.1 618.0,827.2 618.4,825.2 618.8,831.2 619.2,827.3 619.6,823.0 620.0,823.0 620.4,822.9 620.8,823.7 621.2,827.1 621.6,823.9 622.0,830.5 622.4,825.8 622.8,825.5 623.2,828.4 623.6,820.0 624.0,822.9 624.4,827.1 624.8,825.4 625.2,825.0 625.6,825.8 626.0,822.6 626.4,823.5 626.8,819.8 627.2,818.2 627.6,826.8 628.0,820.4 628.4,821.0 628.8,827.0 629.2,826.0 629.6,821.4 630.0,821.2 630.4,822.2 630.8,819.7 631.2,824.1 631.6,823.4 632.0,823.6 632.4,825.1 632.8,824.4 633.2,826.4 633.6,824.4 634.0,814.4 634.4,821.2 634.8,815.4 635.2,814.2 635.6,819.6 636.0,814.6 636.4,814.1 636.8,816.2 637.2,809.6 637.6,807.2 638.0,808.8 638.4,809.3 638.8,805.2 639.2,796.8 639.6,796.5 640.0,795.0 640.4,797.3 640.8,790.4 641.2,785.9 641.6,782.3 642.0,773.6 642.4,771.3 642.8,767.1 643.2,758.7 643.6,756.6 644.0,753.8 644.4,744.9 644.8,746.5 645.2,743.6 645.6,742.5 646.0,736.7 646.4,739.3 646.8,744.1 647.2,744.1 647.6,742.2 648.0,748.1 648.4,754.9 648.8,754.3 649.2,759.3 649.6,769.2 650.0,765.7 650.4,769.4 650.8,771.0 651.2,775.9 651.6,785.5 652.0,784.1 652.4,783.7 652.8,786.6 653.2,791.1 653.6,794.9 654.0,792.2 654.4,797.6 654.8,795.5 655.2,798.9 655.6,800.2 656.0,800.9 656.4,798.1 656.8,798.8 657.2,800.4 657.6,795.1 658.0,799.2 658.4,800.3 658.8,802.0 659.2,799.1 659.6,798.7 660.0,799.2 660.4,796.1 660.8,797.0 661.2,798.5 661.6,798.1 662.0,794.7 662.4,797.0 662.8,792.2 663.2,800.6 663.6,796.9 664.0,799.1 664.4,795.7 664.8,799.1 665.2,801.1 665.6,802.9 666.0,796.6 666.4,803.1 666.8,800.5 667.2,799.4 667.6,803.7 668.0,802.4 668.4,803.2 668.8,802.9 669.2,806.2 669.6,806.0 670.0,805.6 670.4,803.5 670.8,804.9 671.2,807.6 671.6,810.1 672.0,806.2 672.4,809.7 672.8,805.1 673.2,801.3 673.6,805.2 674.0,799.8 674.4,802.9 674.8,804.5 675.2,800.9 675.6,802.1 676.0,809.9 676.4,803.9 676.8,803.8 677.2,805.0 677.6,802.6 678.0,803.0 678.4,805.1 678.8,798.3 679.2,809.9 679.6,803.8 680.0,805.0 680.4,810.7 680.8,810.3 681.2,807.6 681.6,812.4 682.0,809.3 682.4,811.2 682.8,809.9 683.2,813.0 683.6,817.4 684.0,817.6 684.4,818.9 684.8,821.1 685.2,818.8 685.6,817.4 686.0,818.9 686.4,824.6 686.8,820.3 687.2,821.3 687.6,820.2 688.0,821.1 688.4,821.6 688.8,820.4 689.2,820.2 689.6,818.8 690.0,819.2 690.4,823.3 690.8,824.5 691.2,824.8 691.6,821.8 692.0,818.8 692.4,822.4 692.8,822.2 693.2,816.3 693.6,822.8 694.0,822.4 694.4,825.4 694.8,817.6 695.2,816.8 695.6,822.1 696.0,814.4 696.4,817.1 696.8,816.1 697.2,816.4 697.6,814.0 698.0,818.7 698.4,821.9 698.8,820.2 699.2,820.0 699.6,817.4 700.0,822.0 700.4,818.7 700.8,819.4 701.2,811.2 701.6,815.4 702.0,809.8 702.4,812.0 702.8,809.2 703.2,803.1 703.6,804.4 704.0,804.9 704.4,800.8 704.8,798.5 705.2,791.6 705.6,788.7 706.0,783.5 706.4,782.3 706.8,780.2 707.2,772.8 707.6,766.3 708.0,758.0 708.4,757.3 708.8,750.2 709.2,740.2 709.6,735.2 710.0,733.7 710.4,727.5 710.8,730.7 711.2,723.2 711.6,718.1 712.0,718.4 712.4,723.6 712.8,717.2 713.2,723.9 713.6,726.0 714.0,732.8 714.4,734.9 714.8,737.4 715.2,745.6 715.6,750.2 716.0,758.4 716.4,760.8 716.8,771.7 717.2,771.2 717.6,778.0 718.0,780.3 718.4,787.6 718.8,791.8 719.2,795.9 719.6,801.0 720.0,800.0 720.4,802.1 720.8,810.4 721.2,809.1 721.6,810.0 722.0,816.6 722.4,816.5 722.8,807.7 723.2,814.5 723.6,818.1 724.0,818.7 724.4,815.6 724.8,822.2 725.2,816.3 725.6,818.6 726.0,820.1 726.4,820.2 726.8,822.5 727.2,823.3 727.6,820.4 728.0,824.7 728.4,819.1 728.8,820.5 729.2,825.7 729.6,820.9 730.0,823.6 730.4,819.7 730.8,820.5 731.2,821.7 731.6,823.4 732.0,822.7 732.4,824.1 732.8,826.3 733.2,827.8 733.6,824.7 734.0,826.3 734.4,827.1 734.8,821.3 735.2,819.8 735.6,828.7 736.0,828.1 736.4,825.2 736.8,826.7 737.2,823.8 737.6,822.9 738.0,827.7 738.4,822.5 738.8,828.8 739.2,824.1 739.6,827.0 740.0,832.0 740.4,832.5 740.8,826.8 741.2,830.7 741.6,824.6 742.0,825.3 742.4,827.4 742.8,829.6 743.2,823.8 743.6,827.0 744.0,826.0 744.4,822.2 744.8,825.4 745.2,829.9 745.6,825.4 746.0,827.0 746.4,827.9 746.8,823.2 747.2,828.3 747.6,828.9 748.0,829.2 748.4,828.6 748.8,823.8 749.2,823.6 749.6,823.0 750.0,822.5 750.4,822.8 750.8,827.9 751.2,829.5 751.6,824.0 752.0,828.2 752.4,822.3 752.8,824.5 753.2,822.3 753.6,820.4 754.0,825.0 754.4,825.4 754.8,824.4 755.2,824.4 755.6,823.4 756.0,826.0 756.4,824.8 756.8,827.1 757.2,822.9 757.6,826.7 758.0,827.1 758.4,828.8 758.8,827.9 759.2,825.4 759.6,823.2 760.0,820.4 760.4,826.1 760.8,830.5 761.2,831.2 761.6,819.4 762.0,824.3 762.4,825.5 762.8,823.7 763.2,827.3 763.6,826.9 764.0,825.4 764.4,826.9 764.8,822.6 765.2,824.3 765.6,824.2 766.0,828.8 766.4,821.4 766.8,825.2 767.2,828.0 767.6,825.7 768.0,828.2 768.4,824.3 768.8,827.5 769.2,828.7 769.6,832.1 770.0,827.4 770.4,828.9 770.8,824.6 771.2,825.0 771.6,829.6 772.0,827.1 772.4,829.7 772.8,827.8 773.2,831.8 773.6,832.5 774.0,823.6 774.4,831.2 774.8,827.3 775.2,827.4 775.6,825.5 776.0,827.5 776.4,822.1 776.8,823.1 777.2,823.3 777.6,826.8 778.0,828.9 778.4,828.5 778.8,827.3 779.2,824.4 779.6,821.0 780.0,826.8 780.4,826.0 780.8,826.3 781.2,829.2 781.6,824.6 782.0,824.5 782.4,818.3 782.8,826.1 783.2,824.1 783.6,822.0 784.0,825.1 784.4,821.2 784.8,822.5 785.2,829.3 785.6,825.4 786.0,825.2 786.4,823.8 786.8,822.8 787.2,821.1 787.6,826.8 788.0,820.4 788.4,823.0 788.8,820.6 789.2,820.4 789.6,814.3 790.0,815.3 790.4,824.1 790.8,823.0 791.2,816.6 791.6,816.9 792.0,818.1 792.4,813.1 792.8,820.3 793.2,811.8 793.6,811.9 794.0,805.4 794.4,816.3 794.8,811.2 795.2,814.5 795.6,806.0 796.0,808.5 796.4,806.4 796.8,805.0 797.2,808.2 797.6,806.2 798.0,800.8 798.4,792.6 798.8,792.7 799.2,790.0 799.6,783.4 800.0,778.1 800.4,771.3 800.8,759.3 801.2,752.7 801.6,744.5 802.0,723.0 802.4,709.4 802.8,692.1 803.2,663.8 803.6,642.7 804.0,611.4 804.4,586.1 804.8,554.8 805.2,528.2 805.6,504.4 806.0,485.9 806.4,475.5 806.8,469.2 807.2,490.6 807.6,504.5 808.0,527.3 808.4,557.0 808.8,588.7 809.2,613.2 809.6,641.2 810.0,665.3 810.4,690.0 810.8,706.2 811.2,727.0 811.6,741.6 812.0,752.6 812.4,766.8 812.8,771.7 813.2,775.2 813.6,785.0 814.0,789.0 814.4,792.2 814.8,796.0 815.2,804.7 815.6,801.5 816.0,804.7 816.4,805.0 816.8,811.4 817.2,809.3 817.6,808.5 818.0,808.4 818.4,814.2 818.8,815.7 819.2,810.1 819.6,813.6 820.0,818.3 820.4,820.0 820.8,814.0 821.2,817.2 821.6,821.4 822.0,818.5 822.4,819.6 822.8,819.8 823.2,818.0 823.6,822.1 824.0,823.1 824.4,818.6 824.8,823.1 825.2,826.4 825.6,824.2 826.0,826.5 826.4,822.5 826.8,828.1 827.2,822.2 827.6,829.9 828.0,823.7 828.4,823.0 828.8,822.5 829.2,824.0 829.6,824.0 830.0,823.9 830.4,825.4 830.8,828.6 831.2,829.4 831.6,825.8 832.0,830.0 832.4,823.5 832.8,823.2 833.2,822.7 833.6,827.3 834.0,821.3 834.4,821.8 834.8,829.7 835.2,831.3 835.6,830.7 836.0,823.1 836.4,827.5 836.8,830.0 837.2,827.9 837.6,823.0 838.0,826.4 838.4,822.3 838.8,823.4 839.2,832.6 839.6,828.6 840.0,823.0 840.4,823.7 840.8,829.9 841.2,827.2 841.6,830.5 842.0,826.8 842.4,827.9 842.8,829.3 843.2,826.3 843.6,824.4 844.0,826.8 844.4,828.2 844.8,829.3 845.2,829.3 845.6,829.0 846.0,830.4 846.4,826.2 846.8,832.4 847.2,834.2 847.6,829.7 848.0,829.4 848.4,832.6 848.8,831.0 849.2,829.6 849.6,828.3 850.0,826.5 850.4,825.1 850.8,830.4 851.2,832.2 851.6,826.4 852.0,829.4 852.4,830.6 852.8,829.0 853.2,828.2 853.6,829.2 854.0,824.7 854.4,829.6 854.8,828.5 855.2,834.9 855.6,831.7 856.0,828.3 856.4,829.5 856.8,834.3 857.2,833.7 857.6,829.4 858.0,828.4 858.4,824.9 858.8,828.6 859.2,829.6 859.6,828.4 860.0,835.4 860.4,825.0 860.8,829.2 861.2,830.2 861.6,830.0 862.0,833.7 862.4,825.6 862.8,828.2 863.2,831.3 863.6,832.0 864.0,831.2 864.4,830.4 864.8,835.4 865.2,829.0 865.6,829.7 866.0,834.8 866.4,835.4 866.8,833.3 867.2,829.0 867.6,829.4 868.0,829.3 868.4,828.2 868.8,829.7 869.2,833.8 869.6,830.8 870.0,828.2 870.4,828.5 870.8,827.9 871.2,835.2 871.6,826.7 872.0,833.2 872.4,828.2 872.8,828.8 873.2,826.9 873.6,833.3 874.0,830.0 874.4,837.7 874.8,827.3 875.2,827.3 875.6,832.2 876.0,832.1 876.4,829.7 876.8,824.5 877.2,834.0 877.6,831.6 878.0,831.4 878.4,829.3 878.8,833.5 879.2,830.6 879.6,832.1 880.0,830.9 880.4,834.4 880.8,829.2 881.2,829.5 881.6,833.7 882.0,831.4 882.4,830.7 882.8,830.0 883.2,833.0 883.6,828.2 884.0,830.9 884.4,835.0 884.8,830.3 885.2,827.0 885.6,825.9 886.0,829.9 886.4,826.2 886.8,825.5 887.2,828.2 887.6,827.9 888.0,833.9 888.4,827.7 888.8,836.2 889.2,829.2 889.6,830.8 890.0,831.5 890.4,829.7 890.8,831.0 891.2,826.6 891.6,823.5 892.0,829.7 892.4,825.8 892.8,829.0 893.2,833.3 893.6,830.2 894.0,829.4 894.4,828.0 894.8,830.3 895.2,830.4 895.6,826.2 896.0,831.4 896.4,827.7 896.8,831.6 897.2,829.9 897.6,834.1 898.0,833.8 898.4,831.4 898.8,831.3 899.2,833.2 899.6,836.2 900.0,835.5 900.4,832.8 900.8,832.9 901.2,835.6 901.6,825.8 902.0,831.4 902.4,827.4 902.8,834.2 903.2,829.7 903.6,831.3 904.0,828.8 904.4,832.0 904.8,834.5 905.2,837.3 905.6,829.4 906.0,831.8 906.4,843.5 906.8,834.4 907.2,830.8 907.6,831.5 908.0,822.1 908.4,833.7 908.8,829.5 909.2,824.9 909.6,832.2 910.0,827.2 910.4,826.0 910.8,830.0 911.2,829.2 911.6,826.4 912.0,827.1 912.4,823.1 912.8,822.1 913.2,827.9 913.6,828.5 914.0,825.7 914.4,825.2 914.8,822.6 915.2,822.8 915.6,819.8 916.0,826.8 916.4,819.7 916.8,821.7 917.2,819.7 917.6,814.7 918.0,823.0 918.4,815.9 918.8,814.7 919.2,817.6 919.6,815.6 920.0,819.3 920.4,817.4 920.8,822.1 921.2,820.7 921.6,816.7 922.0,823.5 922.4,821.6 922.8,818.7 923.2,823.7 923.6,824.9 924.0,830.1 924.4,823.6 924.8,829.2 925.2,827.0 925.6,828.9 926.0,826.0 926.4,825.9 926.8,827.1 927.2,822.3 927.6,820.0 928.0,826.5 928.4,825.9 928.8,827.9 929.2,829.8 929.6,827.5 930.0,831.5 930.4,828.2 930.8,828.7 931.2,830.9 931.6,830.3 932.0,828.5 932.4,829.2 932.8,826.7 933.2,827.1 933.6,829.3 934.0,831.5 934.4,828.3 934.8,832.0 935.2,835.2 935.6,835.8 936.0,829.9 936.4,832.8 936.8,831.6 937.2,832.1 937.6,832.4 938.0,831.7 938.4,833.0 938.8,831.8 939.2,831.0 939.6,832.7 940.0,833.1 940.4,834.7 940.8,831.6 941.2,831.8 941.6,832.9 942.0,825.5 942.4,826.7 942.8,828.5 943.2,826.9 943.6,824.0 944.0,829.3 944.4,825.7 944.8,822.0 945.2,829.2 945.6,819.5 946.0,822.5 946.4,819.7 946.8,820.3 947.2,819.0 947.6,811.6 948.0,809.5 948.4,805.1 948.8,798.0 949.2,799.2 949.6,791.0 950.0,783.9 950.4,777.0 950.8,772.3 951.2,768.2 951.6,761.6 952.0,761.9 952.4,747.9 952.8,747.2 953.2,752.4 953.6,749.8 954.0,758.1 954.4,761.1 954.8,770.0 955.2,775.4 955.6,784.3 956.0,789.3 956.4,796.0 956.8,799.1 957.2,804.9 957.6,806.7 958.0,806.6 958.4,807.4 958.8,810.4 959.2,818.0 959.6,812.9 960.0,822.9 960.4,822.7 960.8,828.7 961.2,828.3 961.6,826.1 962.0,828.6 962.4,822.4 962.8,829.9 963.2,830.8 963.6,824.6 964.0,832.6 964.4,830.3 964.8,831.6 965.2,827.5 965.6,833.3 966.0,833.3 966.4,831.7 966.8,829.1 967.2,834.1 967.6,835.8 968.0,833.7 968.4,835.5 968.8,831.1 969.2,833.1 969.6,833.2 970.0,832.0 970.4,839.1 970.8,832.5 971.2,830.4 971.6,835.4 972.0,831.0 972.4,835.5 972.8,836.5 973.2,832.2 973.6,832.1 974.0,830.2 974.4,833.7 974.8,832.3 975.2,840.0 975.6,837.6 976.0,835.7 976.4,832.3 976.8,841.8 977.2,839.1 977.6,836.2 978.0,834.9 978.4,834.5 978.8,832.7 979.2,839.4 979.6,834.9 980.0,830.6 980.4,833.1 980.8,828.1 981.2,837.4 981.6,837.8 982.0,840.7 982.4,841.6 982.8,833.7 983.2,837.2 983.6,838.5 984.0,837.8 984.4,833.9 984.8,837.4 985.2,836.5 985.6,839.0 986.0,835.6 986.4,835.6 986.8,835.4 987.2,836.0 987.6,834.9 988.0,835.9 988.4,838.2 988.8,838.3 989.2,841.0 989.6,840.6 990.0,839.3 990.4,834.0 990.8,838.3 991.2,839.5 991.6,832.3 992.0,832.6 992.4,833.0 992.8,832.7 993.2,834.4 993.6,832.1 994.0,835.5 994.4,831.0 994.8,834.1 995.2,833.4 995.6,832.1 996.0,837.5 996.4,834.3 996.8,835.5 997.2,833.0 997.6,836.2 998.0,836.5 998.4,835.1 998.8,831.2 999.2,839.1 999.6,839.1 1000.0,837.7 1000.4,837.7 1000.8,837.3 1001.2,837.3 1001.6,833.6 1002.0,835.8 1002.4,836.4 1002.8,833.5 1003.2,832.5 1003.6,840.6 1004.0,837.5 1004.4,835.2 1004.8,834.9 1005.2,828.9 1005.6,832.4 1006.0,835.4 1006.4,839.3 1006.8,829.4 1007.2,832.9 1007.6,840.0 1008.0,836.5 1008.4,835.9 1008.8,838.2 1009.2,834.2 1009.6,833.3 1010.0,834.7 1010.4,834.1 1010.8,827.9 1011.2,834.8 1011.6,825.8 1012.0,829.0 1012.4,839.7 1012.8,829.7 1013.2,833.0 1013.6,828.1 1014.0,829.7 1014.4,828.2 1014.8,828.6 1015.2,831.2 1015.6,834.0 1016.0,831.5 1016.4,833.7 1016.8,828.4 1017.2,834.6 1017.6,832.9 1018.0,835.8 1018.4,831.4 1018.8,832.3 1019.2,837.4 1019.6,835.8 1020.0,835.0 1020.4,833.1 1020.8,834.9 1021.2,836.5 1021.6,837.2 1022.0,833.7 1022.4,834.5 1022.8,836.6 1023.2,832.3 1023.6,837.7 1024.0,834.9 1024.4,834.6 1024.8,828.4 1025.2,831.0 1025.6,833.2 1026.0,835.1 1026.4,834.1 1026.8,838.3 1027.2,837.4 1027.6,835.5 1028.0,829.8 1028.4,839.0 1028.8,834.3 1029.2,837.1 1029.6,834.2 1030.0,836.5 1030.4,838.5 1030.8,836.8 1031.2,838.6 1031.6,835.2 1032.0,841.5 1032.4,831.0 1032.8,834.9 1033.2,839.0 1033.6,834.9 1034.0,833.7 1034.4,829.5 1034.8,837.4 1035.2,828.4 1035.6,834.9 1036.0,833.6 1036.4,835.3 1036.8,836.6 1037.2,830.3 1037.6,829.8 1038.0,830.7 1038.4,826.2 1038.8,832.7 1039.2,828.7 1039.6,829.7 1040.0,825.5 1040.4,828.4 1040.8,826.7 1041.2,828.8 1041.6,826.7 1042.0,833.3 1042.4,829.2 1042.8,824.3 1043.2,833.7 1043.6,831.7 1044.0,830.9 1044.4,841.4 1044.8,835.1 1045.2,832.2 1045.6,834.6 1046.0,837.6 1046.4,835.9 1046.8,840.1 1047.2,839.5 1047.6,834.1 1048.0,836.2 1048.4,837.7 1048.8,834.8 1049.2,834.7 1049.6,838.6 1050.0,837.5 1050.4,832.6 1050.8,835.1 1051.2,835.7 1051.6,836.7 1052.0,835.2 1052.4,841.3 1052.8,835.2 1053.2,835.1 1053.6,839.0 1054.0,832.0 1054.4,835.3 1054.8,839.5 1055.2,833.7 1055.6,835.0 1056.0,840.2 1056.4,838.5 1056.8,837.4 1057.2,837.9 1057.6,835.1 1058.0,837.7 1058.4,836.3 1058.8,844.0 1059.2,838.8 1059.6,836.7 1060.0,837.7 1060.4,838.2 1060.8,834.2 1061.2,835.8 1061.6,842.4 1062.0,834.1 1062.4,836.4 1062.8,840.8 1063.2,842.1 1063.6,835.3 1064.0,842.6 1064.4,837.7 1064.8,843.2 1065.2,839.4 1065.6,836.5 1066.0,839.1 1066.4,839.0 1066.8,836.0 1067.2,844.9 1067.6,838.3 1068.0,842.5 1068.4,837.6 1068.8,833.7 1069.2,835.7 1069.6,838.7 1070.0,840.9 1070.4,843.8 1070.8,838.8 1071.2,837.6 1071.6,834.6 1072.0,837.8 1072.4,838.8 1072.8,831.8 1073.2,841.7 1073.6,841.1 1074.0,844.0 1074.4,834.6 1074.8,837.2 1075.2,837.2 1075.6,833.7 1076.0,835.4 1076.4,835.2 1076.8,839.3 1077.2,838.7 1077.6,841.0 1078.0,835.7 1078.4,832.9 1078.8,838.2 1079.2,838.5 1079.6,839.9 1080.0,842.0 1080.4,837.0 1080.8,840.7 1081.2,835.2 1081.6,838.0 1082.0,839.2 1082.4,836.9 1082.8,837.8 1083.2,833.3 1083.6,835.3 1084.0,837.4 1084.4,833.5 1084.8,834.4 1085.2,843.8 1085.6,838.0 1086.0,835.5 1086.4,835.6 1086.8,842.9 1087.2,831.4 1087.6,837.9 1088.0,839.8 1088.4,835.5 1088.8,837.7 1089.2,832.8 1089.6,835.7 1090.0,836.2 1090.4,836.7 1090.8,837.9 1091.2,838.3 1091.6,841.7 1092.0,837.9 1092.4,836.6 1092.8,836.9 1093.2,836.3 1093.6,832.6 1094.0,831.4 1094.4,832.9 1094.8,837.4 1095.2,834.9 1095.6,835.8 1096.0,845.1 1096.4,840.2 1096.8,836.3 1097.2,834.8 1097.6,840.3 1098.0,834.1 1098.4,839.8 1098.8,837.9 1099.2,840.0 1099.6,834.0 1100.0,838.6 1100.4,831.2 1100.8,835.9 1101.2,839.5 1101.6,838.3 1102.0,831.0 1102.4,838.0 1102.8,837.4 1103.2,835.9 1103.6,833.9 1104.0,834.7 1104.4,833.1 1104.8,836.4 1105.2,834.1 1105.6,835.2 1106.0,833.8 1106.4,828.1 1106.8,832.0 1107.2,837.5 1107.6,828.1 1108.0,831.6 1108.4,828.2 1108.8,827.6 1109.2,830.3 1109.6,832.0 1110.0,831.3 1110.4,830.2 1110.8,831.4 1111.2,824.2 1111.6,831.3 1112.0,830.5 1112.4,829.3 1112.8,830.2 1113.2,828.3 1113.6,834.3 1114.0,828.9 1114.4,826.5 1114.8,830.1 1115.2,828.0 1115.6,829.1 1116.0,833.6 1116.4,829.2 1116.8,830.1 1117.2,836.1 1117.6,825.6 1118.0,830.6 1118.4,833.0 1118.8,834.5 1119.2,837.2 1119.6,829.9 1120.0,834.3 1120.4,832.9 1120.8,832.3 1121.2,831.6 1121.6,829.2 1122.0,833.9 1122.4,834.9 1122.8,829.9 1123.2,835.1 1123.6,831.6 1124.0,830.5 1124.4,826.1 1124.8,836.9 1125.2,836.2 1125.6,833.9 1126.0,834.1 1126.4,831.8 1126.8,837.2 1127.2,836.0 1127.6,837.8 1128.0,836.8 1128.4,832.1 1128.8,831.3 1129.2,836.4 1129.6,830.3 1130.0,836.0 1130.4,838.2 1130.8,832.2 1131.2,838.0 1131.6,836.4 1132.0,837.9 1132.4,834.5 1132.8,836.1 1133.2,837.0 1133.6,840.6 1134.0,837.4 1134.4,837.0 1134.8,832.3 1135.2,837.1 1135.6,834.5 1136.0,836.3 1136.4,837.4 1136.8,839.5 1137.2,838.7 1137.6,838.2 1138.0,838.0 1138.4,842.3 1138.8,836.4 1139.2,839.1 1139.6,842.7 1140.0,838.0 1140.4,840.5 1140.8,840.3 1141.2,843.1 1141.6,840.6 1142.0,832.7 1142.4,837.4 1142.8,838.6 1143.2,840.3 1143.6,839.2 1144.0,843.7 1144.4,841.5 1144.8,835.0 1145.2,836.5 1145.6,832.6 1146.0,843.4 1146.4,838.3 1146.8,838.2 1147.2,833.8 1147.6,836.5 1148.0,838.7 1148.4,836.4 1148.8,836.7 1149.2,836.5 1149.6,844.0 1150.0,836.7 1150.4,833.8 1150.8,836.2 1151.2,836.7 1151.6,837.8 1152.0,837.8 1152.4,835.7 1152.8,838.6 1153.2,840.4 1153.6,835.4 1154.0,845.0 1154.4,844.0 1154.8,833.7 1155.2,837.4 1155.6,840.9 1156.0,841.5 1156.4,842.5 1156.8,832.0 1157.2,833.7 1157.6,835.1 1158.0,838.1 1158.4,833.5 1158.8,837.9 1159.2,838.2 1159.6,839.3 1160.0,833.9 1160.4,838.6 1160.8,838.8 1161.2,837.6 1161.6,842.6 1162.0,837.8 1162.4,842.4 1162.8,836.2 1163.2,842.5 1163.6,842.2 1164.0,835.2 1164.4,838.5 1164.8,838.5 1165.2,834.7 1165.6,839.6 1166.0,838.8 1166.4,834.4 1166.8,836.9 1167.2,839.0 1167.6,836.1 1168.0,834.6 1168.4,841.5 1168.8,834.3 1169.2,838.1 1169.6,839.9 1170.0,838.2 1170.4,829.9 1170.8,833.4 1171.2,833.4 1171.6,832.8 1172.0,835.2 1172.4,835.0 1172.8,833.8 1173.2,833.8 1173.6,835.3 1174.0,835.2 1174.4,825.7 1174.8,836.9 1175.2,828.9 1175.6,832.4 1176.0,825.2 1176.4,827.8 1176.8,825.2 1177.2,831.4 1177.6,830.2 1178.0,827.1 1178.4,826.1 1178.8,827.4 1179.2,823.4 1179.6,824.2 1180.0,823.7 1180.4,828.1 1180.8,825.8 1181.2,822.0 1181.6,826.6 1182.0,827.3 1182.4,830.2 1182.8,825.2 1183.2,828.5 1183.6,833.7 1184.0,827.1 1184.4,827.1 1184.8,829.7 1185.2,826.8 1185.6,828.3 1186.0,827.1 1186.4,826.7 1186.8,832.1 1187.2,829.3 1187.6,828.2 1188.0,830.8 1188.4,831.5 1188.8,832.9 1189.2,834.7 1189.6,837.3 1190.0,829.2 1190.4,832.5 1190.8,828.8 1191.2,835.3 1191.6,837.0 1192.0,834.3 1192.4,833.9 1192.8,834.0 1193.2,832.7 1193.6,838.8 1194.0,842.7 1194.4,834.5 1194.8,842.8 1195.2,838.3 1195.6,835.0 1196.0,840.9 1196.4,841.6 1196.8,840.4 1197.2,838.2 1197.6,843.2 1198.0,837.2 1198.4,839.5 1198.8,839.5 1199.2,835.3 1199.6,832.8 1200.0,833.4 1200.4,837.4 1200.8,839.3 1201.2,833.0 1201.6,835.7 1202.0,841.9 1202.4,832.5 1202.8,839.2 1203.2,839.4 1203.6,841.3 1204.0,835.3 1204.4,840.8 1204.8,836.1 1205.2,843.9 1205.6,837.4 1206.0,840.5 1206.4,836.7 1206.8,839.1 1207.2,834.6 1207.6,840.2 1208.0,841.6 1208.4,840.1 1208.8,844.4 1209.2,840.5 1209.6,841.3 1210.0,840.3 1210.4,844.2 1210.8,837.0 1211.2,838.0 1211.6,837.9 1212.0,840.0 1212.4,839.0 1212.8,840.8 1213.2,839.6 1213.6,837.6 1214.0,839.0 1214.4,840.3 1214.8,832.3 1215.2,842.4 1215.6,836.3 1216.0,836.6 1216.4,838.4 1216.8,837.3 1217.2,834.6 1217.6,839.0 1218.0,844.1 1218.4,843.4 1218.8,843.9 1219.2,838.6 1219.6,839.3 1220.0,842.6 1220.4,843.6 1220.8,839.2 1221.2,836.4 1221.6,833.9 1222.0,843.9 1222.4,836.0 1222.8,842.2 1223.2,844.1 1223.6,851.1 1224.0,842.3 1224.4,841.1 1224.8,842.1 1225.2,841.6 1225.6,843.8 1226.0,842.0 1226.4,838.1 1226.8,834.4 1227.2,841.5 1227.6,838.7 1228.0,844.6 1228.4,836.4 1228.8,840.4 1229.2,837.3 1229.6,836.8 1230.0,844.4 1230.4,840.6 1230.8,840.0 1231.2,842.8 1231.6,838.1 1232.0,838.9 1232.4,838.0 1232.8,845.6 1233.2,841.4 1233.6,842.7 1234.0,844.5 1234.4,840.8 1234.8,840.8 1235.2,836.4 1235.6,842.3 1236.0,841.4 1236.4,839.2 1236.8,843.7 1237.2,834.9 1237.6,841.0 1238.0,835.6 1238.4,836.1 1238.8,838.4 1239.2,842.7 1239.6,835.4 1240.0,836.1 1240.4,835.8 1240.8,845.3 1241.2,841.0 1241.6,840.3 1242.0,844.8 1242.4,839.1 1242.8,832.0 1243.2,836.8 1243.6,835.3 1244.0,845.3 1244.4,836.0 1244.8,841.5 1245.2,839.4 1245.6,839.7 1246.0,840.9 1246.4,840.1 1246.8,838.2 1247.2,836.5 1247.6,838.3 1248.0,837.2 1248.4,837.6 1248.8,840.4 1249.2,839.2 1249.6,840.6 1250.0,838.4 1250.4,844.9 1250.8,837.6 1251.2,837.2 1251.6,843.2 1252.0,838.2 1252.4,840.4 1252.8,842.8 1253.2,839.7 1253.6,839.1 1254.0,843.2 1254.4,841.5 1254.8,838.9 1255.2,837.0 1255.6,839.1 1256.0,835.1 1256.4,837.2 1256.8,836.5 1257.2,840.8 1257.6,842.4 1258.0,838.4 1258.4,839.0 1258.8,837.0 1259.2,836.3 1259.6,839.3 1260.0,842.3 1260.4,841.9 1260.8,841.9 1261.2,839.1 1261.6,831.7 1262.0,842.2 1262.4,843.3 1262.8,841.7 1263.2,841.2 1263.6,841.3 1264.0,845.7 1264.4,838.9 1264.8,842.6 1265.2,840.6 1265.6,840.2 1266.0,837.7 1266.4,836.9 1266.8,834.4 1267.2,839.1 1267.6,836.1 1268.0,833.0 1268.4,833.8 1268.8,832.1 1269.2,839.9 1269.6,834.5 1270.0,835.5 1270.4,831.8 1270.8,832.3 1271.2,838.2 1271.6,834.3 1272.0,835.3 1272.4,839.6 1272.8,839.7 1273.2,834.8 1273.6,833.4 1274.0,831.9 1274.4,829.8 1274.8,836.1 1275.2,826.5 1275.6,829.9 1276.0,825.0 1276.4,827.5 1276.8,833.1 1277.2,833.6 1277.6,833.5 1278.0,831.7 1278.4,830.6 1278.8,831.2 1279.2,831.6 1279.6,835.8 1280.0,836.5 1280.4,833.1 1280.8,829.9 1281.2,828.7 1281.6,832.6 1282.0,831.6 1282.4,827.7 1282.8,837.7 1283.2,834.3 1283.6,833.9 1284.0,832.4 1284.4,832.5 1284.8,837.8 1285.2,832.7 1285.6,836.2 1286.0,838.3 1286.4,842.3 1286.8,838.8 1287.2,836.6 1287.6,834.9 1288.0,838.1 1288.4,838.1 1288.8,834.0 1289.2,837.1 1289.6,835.2 1290.0,831.5 1290.4,834.0 1290.8,840.2 1291.2,843.1 1291.6,841.9 1292.0,840.3 1292.4,839.2 1292.8,843.0 1293.2,842.2 1293.6,835.9 1294.0,841.9 1294.4,837.6 1294.8,841.4 1295.2,841.0 1295.6,841.6 1296.0,842.7 1296.4,841.5 1296.8,836.3 1297.2,836.3 1297.6,842.3 1298.0,840.6 1298.4,834.9 1298.8,834.0 1299.2,843.0 1299.6,847.2 1300.0,843.3 1300.4,839.8 1300.8,840.9 1301.2,831.7 1301.6,836.3 1302.0,841.9 1302.4,841.3 1302.8,832.3 1303.2,841.5 1303.6,839.0 1304.0,839.8 1304.4,836.1 1304.8,836.5 1305.2,833.4 1305.6,837.7 1306.0,839.8 1306.4,834.8 1306.8,838.8 1307.2,836.2 1307.6,840.3 1308.0,839.6 1308.4,829.3 1308.8,836.7 1309.2,837.6 1309.6,832.5 1310.0,833.2 1310.4,833.0 1310.8,829.9 1311.2,832.7 1311.6,837.4 1312.0,834.1 1312.4,837.0 1312.8,835.2 1313.2,835.6 1313.6,832.4 1314.0,834.4 1314.4,838.0 1314.8,836.5 1315.2,833.3 1315.6,830.4 1316.0,830.1 1316.4,833.8 1316.8,834.9 1317.2,828.8 1317.6,835.2 1318.0,835.7 1318.4,835.4 1318.8,832.6 1319.2,840.6 1319.6,836.4 1320.0,830.3 1320.4,833.0 1320.8,838.5 1321.2,838.6 1321.6,838.0 1322.0,837.8 1322.4,836.8 1322.8,835.8 1323.2,833.9 1323.6,838.6 1324.0,829.3 1324.4,835.7 1324.8,841.6 1325.2,835.7 1325.6,834.3 1326.0,843.4 1326.4,841.2 1326.8,838.4 1327.2,837.9 1327.6,839.6 1328.0,839.8 1328.4,840.5 1328.8,839.3 1329.2,843.0 1329.6,839.8 1330.0,836.1 1330.4,837.5 1330.8,841.4 1331.2,838.5 1331.6,834.4 1332.0,845.9 1332.4,842.6 1332.8,839.4 1333.2,839.0 1333.6,842.0 1334.0,844.9 1334.4,839.8 1334.8,843.4 1335.2,840.9 1335.6,843.6 1336.0,839.2 1336.4,836.7 1336.8,841.8 1337.2,840.8 1337.6,842.4 1338.0,837.9 1338.4,843.8 1338.8,840.3 1339.2,845.0 1339.6,840.0 1340.0,845.8 1340.4,841.2 1340.8,841.4 1341.2,843.5 1341.6,835.7 1342.0,838.2 1342.4,847.7 1342.8,839.0 1343.2,842.6 1343.6,845.5 1344.0,847.4 1344.4,840.6 1344.8,841.8 1345.2,838.1 1345.6,840.8 1346.0,845.4 1346.4,843.9 1346.8,842.9 1347.2,844.1 1347.6,843.0 1348.0,842.8 1348.4,841.0 1348.8,838.8 1349.2,843.2 1349.6,837.7 1350.0,843.8 1350.4,847.3 1350.8,846.0 1351.2,848.8 1351.6,839.3 1352.0,842.9 1352.4,839.5 1352.8,839.3 1353.2,836.2 1353.6,837.6 1354.0,843.6 1354.4,843.4 1354.8,845.1"/>
<polyline fill="none" stroke="#2e66b3" stroke-width="2.4" stroke-linejoin="round" points="120.0,394.8 120.4,394.2 120.8,394.1 121.2,391.9 121.6,396.0 122.0,395.3 122.4,393.9 122.8,395.1 123.2,394.7 123.6,393.9 124.0,395.3 124.4,393.8 124.8,393.6 125.2,393.1 125.6,394.3 126.0,393.8 126.4,394.6 126.8,393.6 127.2,394.4 127.6,393.4 128.0,395.2 128.4,394.6 128.8,394.9 129.2,395.1 129.6,393.7 130.0,395.2 130.4,396.1 130.8,392.1 131.2,391.9 131.6,392.4 132.0,395.2 132.4,394.9 132.8,396.0 133.2,395.6 133.6,394.9 134.0,394.7 134.4,394.0 134.8,394.8 135.2,392.6 135.6,393.3 136.0,394.0 136.4,395.7 136.8,393.3 137.2,393.0 137.6,393.5 138.0,394.9 138.4,393.6 138.8,395.0 139.2,391.8 139.6,394.7 140.0,394.5 140.4,391.9 140.8,393.4 141.2,394.4 141.6,393.2 142.0,394.2 142.4,395.8 142.8,394.0 143.2,393.9 143.6,393.8 144.0,395.4 144.4,394.7 144.8,394.6 145.2,394.5 145.6,395.2 146.0,393.5 146.4,393.0 146.8,392.0 147.2,395.4 147.6,393.9 148.0,395.1 148.4,393.5 148.8,392.9 149.2,394.3 149.6,393.9 150.0,392.9 150.4,393.2 150.8,395.9 151.2,394.5 151.6,394.7 152.0,394.2 152.4,393.8 152.8,395.3 153.2,394.2 153.6,393.4 154.0,393.9 154.4,393.1 154.8,394.4 155.2,395.5 155.6,393.6 156.0,395.9 156.4,393.8 156.8,394.6 157.2,393.5 157.6,393.9 158.0,394.0 158.4,393.3 158.8,393.0 159.2,393.1 159.6,393.1 160.0,392.5 160.4,393.8 160.8,394.5 161.2,394.9 161.6,394.6 162.0,396.5 162.4,394.4 162.8,393.8 163.2,396.3 163.6,393.5 164.0,395.7 164.4,394.0 164.8,395.5 165.2,393.4 165.6,396.3 166.0,395.0 166.4,393.7 166.8,396.0 167.2,394.8 167.6,394.0 168.0,393.3 168.4,394.2 168.8,394.3 169.2,395.4 169.6,395.6 170.0,394.2 170.4,394.2 170.8,394.0 171.2,393.1 171.6,393.7 172.0,394.2 172.4,395.0 172.8,395.7 173.2,393.8 173.6,395.3 174.0,394.4 174.4,397.0 174.8,394.9 175.2,395.5 175.6,394.2 176.0,394.2 176.4,395.0 176.8,394.2 177.2,394.7 177.6,392.7 178.0,395.1 178.4,393.8 178.8,396.4 179.2,394.4 179.6,395.7 180.0,393.1 180.4,394.8 180.8,393.4 181.2,393.7 181.6,394.3 182.0,394.1 182.4,395.0 182.8,395.7 183.2,395.6 183.6,394.8 184.0,393.3 184.4,393.6 184.8,394.2 185.2,392.5 185.6,395.6 186.0,394.9 186.4,395.0 186.8,396.2 187.2,395.8 187.6,395.3 188.0,394.0 188.4,395.2 188.8,395.1 189.2,393.5 189.6,395.0 190.0,394.1 190.4,391.6 190.8,393.8 191.2,392.7 191.6,395.4 192.0,395.3 192.4,393.4 192.8,393.5 193.2,394.5 193.6,394.2 194.0,396.1 194.4,395.4 194.8,394.3 195.2,395.1 195.6,392.3 196.0,394.5 196.4,395.1 196.8,394.3 197.2,394.0 197.6,395.5 198.0,397.0 198.4,395.2 198.8,393.8 199.2,396.3 199.6,392.9 200.0,395.3 200.4,394.4 200.8,396.1 201.2,394.5 201.6,396.6 202.0,395.5 202.4,393.1 202.8,392.4 203.2,393.7 203.6,395.1 204.0,394.2 204.4,394.4 204.8,394.3 205.2,395.4 205.6,395.0 206.0,395.0 206.4,393.9 206.8,396.2 207.2,396.5 207.6,393.7 208.0,397.2 208.4,395.4 208.8,394.1 209.2,392.7 209.6,395.3 210.0,395.2 210.4,394.1 210.8,392.9 211.2,395.8 211.6,394.1 212.0,394.3 212.4,397.7 212.8,397.1 213.2,396.0 213.6,394.5 214.0,395.5 214.4,392.4 214.8,394.7 215.2,393.8 215.6,393.4 216.0,393.4 216.4,395.6 216.8,395.1 217.2,395.0 217.6,395.4 218.0,393.5 218.4,392.9 218.8,392.4 219.2,394.1 219.6,395.4 220.0,394.8 220.4,395.9 220.8,394.3 221.2,395.2 221.6,394.9 222.0,394.3 222.4,397.4 222.8,396.4 223.2,395.0 223.6,395.2 224.0,396.1 224.4,394.8 224.8,396.6 225.2,394.7 225.6,395.4 226.0,394.7 226.4,395.2 226.8,394.2 227.2,393.9 227.6,394.4 228.0,394.6 228.4,394.9 228.8,395.1 229.2,396.4 229.6,395.5 230.0,394.4 230.4,395.4 230.8,394.2 231.2,396.4 231.6,395.6 232.0,393.7 232.4,395.7 232.8,395.8 233.2,392.3 233.6,394.5 234.0,395.1 234.4,394.0 234.8,395.1 235.2,395.2 235.6,396.5 236.0,395.9 236.4,397.9 236.8,394.7 237.2,396.1 237.6,395.0 238.0,395.2 238.4,393.7 238.8,392.8 239.2,393.9 239.6,395.4 240.0,396.3 240.4,395.3 240.8,395.3 241.2,394.1 241.6,396.5 242.0,396.4 242.4,394.7 242.8,395.3 243.2,394.4 243.6,396.8 244.0,395.7 244.4,395.2 244.8,395.6 245.2,395.7 245.6,394.8 246.0,394.0 246.4,393.9 246.8,393.3 247.2,395.4 247.6,397.1 248.0,393.2 248.4,395.2 248.8,395.6 249.2,394.3 249.6,395.4 250.0,394.0 250.4,396.2 250.8,394.4 251.2,395.2 251.6,395.9 252.0,394.9 252.4,393.6 252.8,394.8 253.2,396.0 253.6,395.1 254.0,395.2 254.4,393.6 254.8,394.6 255.2,395.1 255.6,394.5 256.0,396.6 256.4,394.9 256.8,394.3 257.2,393.9 257.6,396.7 258.0,395.3 258.4,396.2 258.8,395.6 259.2,396.8 259.6,396.7 260.0,395.2 260.4,396.1 260.8,396.9 261.2,394.5 261.6,396.9 262.0,396.5 262.4,396.2 262.8,395.2 263.2,396.1 263.6,395.3 264.0,396.9 264.4,396.5 264.8,397.0 265.2,396.0 265.6,396.5 266.0,397.2 266.4,394.8 266.8,397.1 267.2,394.4 267.6,394.2 268.0,396.0 268.4,395.9 268.8,396.2 269.2,394.0 269.6,395.5 270.0,395.8 270.4,397.1 270.8,395.8 271.2,396.5 271.6,395.0 272.0,395.8 272.4,395.4 272.8,396.4 273.2,394.6 273.6,394.6 274.0,396.0 274.4,397.3 274.8,396.0 275.2,396.0 275.6,395.3 276.0,396.7 276.4,396.2 276.8,397.5 277.2,396.2 277.6,394.9 278.0,395.4 278.4,395.0 278.8,394.8 279.2,397.3 279.6,396.9 280.0,394.9 280.4,397.8 280.8,396.2 281.2,394.8 281.6,395.9 282.0,395.2 282.4,394.3 282.8,393.0 283.2,395.0 283.6,395.4 284.0,392.8 284.4,396.2 284.8,396.4 285.2,395.4 285.6,396.0 286.0,395.5 286.4,395.0 286.8,395.5 287.2,397.3 287.6,394.5 288.0,396.2 288.4,396.2 288.8,395.3 289.2,395.7 289.6,394.9 290.0,395.6 290.4,396.5 290.8,396.8 291.2,395.4 291.6,399.1 292.0,395.3 292.4,395.8 292.8,395.5 293.2,395.3 293.6,397.1 294.0,395.5 294.4,397.5 294.8,397.5 295.2,395.4 295.6,397.5 296.0,395.7 296.4,398.9 296.8,395.5 297.2,394.8 297.6,393.8 298.0,394.4 298.4,395.2 298.8,394.9 299.2,394.8 299.6,395.4 300.0,395.8 300.4,397.4 300.8,394.1 301.2,395.1 301.6,394.7 302.0,394.1 302.4,394.5 302.8,395.0 303.2,396.8 303.6,396.0 304.0,395.8 304.4,396.9 304.8,396.4 305.2,395.8 305.6,396.3 306.0,395.0 306.4,396.6 306.8,396.7 307.2,396.1 307.6,395.4 308.0,398.2 308.4,396.6 308.8,399.4 309.2,395.5 309.6,396.9 310.0,395.5 310.4,396.1 310.8,396.6 311.2,395.1 311.6,396.0 312.0,396.3 312.4,396.2 312.8,396.5 313.2,396.8 313.6,396.6 314.0,396.1 314.4,395.5 314.8,394.7 315.2,395.0 315.6,395.3 316.0,396.7 316.4,396.1 316.8,395.7 317.2,398.0 317.6,396.7 318.0,396.7 318.4,397.0 318.8,397.4 319.2,394.1 319.6,395.1 320.0,396.4 320.4,395.9 320.8,395.6 321.2,396.1 321.6,397.9 322.0,395.9 322.4,396.8 322.8,396.7 323.2,395.4 323.6,396.4 324.0,395.7 324.4,395.7 324.8,395.2 325.2,397.1 325.6,395.7 326.0,395.5 326.4,394.9 326.8,397.9 327.2,396.9 327.6,396.1 328.0,395.5 328.4,394.7 328.8,396.7 329.2,396.9 329.6,395.4 330.0,398.1 330.4,397.7 330.8,395.8 331.2,396.2 331.6,396.4 332.0,397.0 332.4,396.7 332.8,395.0 333.2,397.8 333.6,396.3 334.0,397.1 334.4,397.1 334.8,395.9 335.2,396.7 335.6,397.3 336.0,397.4 336.4,396.5 336.8,396.1 337.2,396.8 337.6,396.1 338.0,396.4 338.4,394.9 338.8,397.0 339.2,396.0 339.6,396.6 340.0,397.1 340.4,397.5 340.8,399.0 341.2,397.2 341.6,395.6 342.0,397.2 342.4,396.5 342.8,397.5 343.2,396.4 343.6,396.3 344.0,396.3 344.4,396.0 344.8,394.6 345.2,395.6 345.6,396.2 346.0,397.5 346.4,396.3 346.8,396.5 347.2,397.8 347.6,398.1 348.0,399.3 348.4,398.2 348.8,397.3 349.2,398.3 349.6,398.2 350.0,396.0 350.4,396.7 350.8,395.0 351.2,396.5 351.6,396.2 352.0,397.0 352.4,396.9 352.8,397.3 353.2,397.4 353.6,397.9 354.0,397.5 354.4,396.5 354.8,395.7 355.2,398.2 355.6,398.4 356.0,396.6 356.4,397.8 356.8,395.8 357.2,395.7 357.6,396.9 358.0,398.6 358.4,396.1 358.8,396.3 359.2,398.9 359.6,395.5 360.0,398.1 360.4,397.9 360.8,397.2 361.2,397.5 361.6,399.8 362.0,396.1 362.4,396.9 362.8,397.0 363.2,396.7 363.6,396.1 364.0,399.0 364.4,397.5 364.8,395.5 365.2,396.5 365.6,397.7 366.0,397.9 366.4,396.3 366.8,397.9 367.2,398.5 367.6,398.6 368.0,398.4 368.4,395.9 368.8,399.3 369.2,397.4 369.6,399.0 370.0,400.0 370.4,397.2 370.8,396.3 371.2,398.7 371.6,397.9 372.0,397.8 372.4,397.1 372.8,399.5 373.2,396.9 373.6,395.5 374.0,396.2 374.4,395.3 374.8,396.6 375.2,396.0 375.6,395.4 376.0,397.1 376.4,396.0 376.8,397.5 377.2,398.3 377.6,397.0 378.0,397.1 378.4,398.3 378.8,399.2 379.2,398.4 379.6,398.4 380.0,398.0 380.4,398.0 380.8,398.1 381.2,396.5 381.6,396.6 382.0,397.2 382.4,396.8 382.8,397.8 383.2,398.3 383.6,397.8 384.0,397.1 384.4,397.0 384.8,399.7 385.2,398.9 385.6,397.0 386.0,397.3 386.4,399.9 386.8,399.4 387.2,397.8 387.6,398.6 388.0,395.6 388.4,396.9 388.8,397.5 389.2,395.2 389.6,396.7 390.0,398.7 390.4,399.4 390.8,397.8 391.2,398.7 391.6,399.9 392.0,397.8 392.4,396.9 392.8,398.1 393.2,397.7 393.6,399.4 394.0,398.2 394.4,397.4 394.8,400.8 395.2,398.0 395.6,399.1 396.0,399.2 396.4,399.1 396.8,398.3 397.2,398.7 397.6,398.1 398.0,396.9 398.4,398.3 398.8,398.4 399.2,398.4 399.6,398.7 400.0,398.0 400.4,399.9 400.8,400.1 401.2,396.3 401.6,398.3 402.0,397.4 402.4,395.3 402.8,398.4 403.2,397.4 403.6,397.8 404.0,397.6 404.4,399.5 404.8,399.7 405.2,398.8 405.6,399.2 406.0,398.5 406.4,398.8 406.8,397.9 407.2,398.7 407.6,397.9 408.0,399.0 408.4,399.5 408.8,399.1 409.2,400.1 409.6,401.5 410.0,396.5 410.4,398.4 410.8,397.6 411.2,397.7 411.6,396.8 412.0,398.2 412.4,398.0 412.8,397.7 413.2,398.3 413.6,398.1 414.0,396.5 414.4,399.8 414.8,398.3 415.2,397.7 415.6,399.0 416.0,398.1 416.4,396.6 416.8,399.5 417.2,396.9 417.6,398.5 418.0,399.1 418.4,400.6 418.8,400.8 419.2,399.8 419.6,398.9 420.0,399.0 420.4,400.3 420.8,400.6 421.2,399.0 421.6,397.6 422.0,399.1 422.4,397.7 422.8,397.7 423.2,397.9 423.6,398.8 424.0,398.5 424.4,399.3 424.8,399.7 425.2,399.0 425.6,396.3 426.0,397.0 426.4,399.0 426.8,398.8 427.2,401.1 427.6,398.9 428.0,398.8 428.4,399.9 428.8,400.1 429.2,398.7 429.6,399.5 430.0,397.9 430.4,398.3 430.8,400.6 431.2,398.1 431.6,400.5 432.0,400.2 432.4,400.3 432.8,400.3 433.2,399.9 433.6,397.2 434.0,398.3 434.4,398.6 434.8,400.0 435.2,397.8 435.6,397.9 436.0,398.0 436.4,399.4 436.8,396.4 437.2,396.4 437.6,398.5 438.0,396.0 438.4,398.7 438.8,398.1 439.2,397.0 439.6,398.2 440.0,397.6 440.4,398.9 440.8,399.1 441.2,400.1 441.6,398.3 442.0,398.0 442.4,397.0 442.8,397.3 443.2,398.3 443.6,395.6 444.0,398.4 444.4,397.5 444.8,398.3 445.2,398.6 445.6,399.0 446.0,398.2 446.4,397.3 446.8,397.7 447.2,397.0 447.6,396.6 448.0,396.8 448.4,397.2 448.8,396.2 449.2,395.8 449.6,393.9 450.0,394.6 450.4,392.5 450.8,394.9 451.2,393.0 451.6,394.9 452.0,396.1 452.4,392.0 452.8,392.7 453.2,390.5 453.6,388.0 454.0,386.1 454.4,385.7 454.8,384.4 455.2,380.8 455.6,375.5 456.0,371.5 456.4,366.5 456.8,361.1 457.2,351.6 457.6,341.8 458.0,331.1 458.4,316.6 458.8,302.5 459.2,287.6 459.6,271.6 460.0,261.1 460.4,251.3 460.8,246.6 461.2,244.4 461.6,250.1 462.0,261.5 462.4,273.6 462.8,288.9 463.2,301.3 463.6,316.4 464.0,328.5 464.4,341.2 464.8,350.7 465.2,360.5 465.6,368.4 466.0,373.8 466.4,375.8 466.8,381.9 467.2,383.9 467.6,384.4 468.0,386.3 468.4,388.6 468.8,390.6 469.2,390.8 469.6,390.6 470.0,393.4 470.4,393.9 470.8,396.8 471.2,393.5 471.6,397.6 472.0,397.0 472.4,395.7 472.8,397.4 473.2,396.2 473.6,397.6 474.0,396.4 474.4,397.6 474.8,396.8 475.2,396.3 475.6,397.8 476.0,397.5 476.4,398.7 476.8,399.3 477.2,397.8 477.6,398.0 478.0,398.1 478.4,396.2 478.8,398.2 479.2,398.0 479.6,398.2 480.0,397.7 480.4,397.3 480.8,399.5 481.2,400.3 481.6,401.3 482.0,401.0 482.4,401.2 482.8,400.0 483.2,400.8 483.6,399.4 484.0,400.3 484.4,400.9 484.8,403.0 485.2,400.9 485.6,399.7 486.0,402.5 486.4,400.4 486.8,401.2 487.2,401.0 487.6,400.3 488.0,402.3 488.4,401.4 488.8,400.0 489.2,400.7 489.6,400.2 490.0,401.4 490.4,400.6 490.8,400.3 491.2,400.6 491.6,401.0 492.0,401.9 492.4,400.7 492.8,401.5 493.2,401.8 493.6,403.5 494.0,401.9 494.4,398.0 494.8,400.5 495.2,400.8 495.6,401.8 496.0,403.2 496.4,402.5 496.8,399.3 497.2,401.8 497.6,401.4 498.0,401.6 498.4,402.6 498.8,400.1 499.2,402.4 499.6,399.7 500.0,401.4 500.4,401.7 500.8,403.7 501.2,400.7 501.6,399.7 502.0,402.1 502.4,400.8 502.8,403.0 503.2,400.9 503.6,400.8 504.0,403.2 504.4,402.3 504.8,403.4 505.2,401.1 505.6,404.1 506.0,401.6 506.4,402.9 506.8,400.7 507.2,400.0 507.6,401.1 508.0,401.6 508.4,403.2 508.8,402.2 509.2,402.8 509.6,402.9 510.0,405.4 510.4,401.5 510.8,403.6 511.2,402.2 511.6,402.5 512.0,401.5 512.4,403.2 512.8,400.7 513.2,400.8 513.6,402.1 514.0,401.3 514.4,403.2 514.8,403.3 515.2,401.5 515.6,402.9 516.0,401.5 516.4,402.2 516.8,402.4 517.2,404.4 517.6,402.6 518.0,401.7 518.4,401.7 518.8,404.0 519.2,401.2 519.6,402.6 520.0,402.7 520.4,400.5 520.8,402.3 521.2,403.6 521.6,402.8 522.0,401.7 522.4,403.3 522.8,403.2 523.2,404.7 523.6,402.1 524.0,402.4 524.4,402.7 524.8,402.3 525.2,402.2 525.6,401.8 526.0,401.1 526.4,400.3 526.8,401.4 527.2,400.6 527.6,401.1 528.0,401.7 528.4,402.7 528.8,403.0 529.2,401.0 529.6,402.2 530.0,402.8 530.4,402.1 530.8,400.6 531.2,400.2 531.6,403.1 532.0,403.3 532.4,402.6 532.8,401.3 533.2,403.9 533.6,403.8 534.0,402.6 534.4,402.4 534.8,400.6 535.2,403.2 535.6,400.8 536.0,403.2 536.4,403.5 536.8,403.2 537.2,405.0 537.6,403.4 538.0,404.5 538.4,404.8 538.8,404.2 539.2,403.3 539.6,404.7 540.0,403.7 540.4,402.8 540.8,402.8 541.2,403.1 541.6,405.3 542.0,403.4 542.4,403.2 542.8,402.4 543.2,402.2 543.6,401.4 544.0,403.5 544.4,403.2 544.8,402.1 545.2,401.4 545.6,402.4 546.0,402.1 546.4,401.3 546.8,403.1 547.2,403.0 547.6,402.9 548.0,403.8 548.4,402.5 548.8,404.7 549.2,402.5 549.6,404.0 550.0,404.0 550.4,402.8 550.8,403.2 551.2,401.5 551.6,401.3 552.0,402.7 552.4,402.2 552.8,403.6 553.2,403.1 553.6,403.7 554.0,403.4 554.4,403.4 554.8,403.3 555.2,403.0 555.6,403.0 556.0,405.5 556.4,401.8 556.8,403.3 557.2,404.3 557.6,403.6 558.0,404.4 558.4,403.5 558.8,401.7 559.2,402.7 559.6,401.7 560.0,404.2 560.4,404.7 560.8,402.9 561.2,403.8 561.6,402.9 562.0,401.9 562.4,403.1 562.8,402.2 563.2,403.4 563.6,404.4 564.0,404.9 564.4,405.4 564.8,403.6 565.2,403.9 565.6,404.1 566.0,404.2 566.4,400.8 566.8,403.0 567.2,404.7 567.6,402.7 568.0,403.9 568.4,404.3 568.8,401.5 569.2,403.2 569.6,403.8 570.0,403.8 570.4,402.3 570.8,404.1 571.2,402.9 571.6,403.9 572.0,403.3 572.4,402.4 572.8,403.3 573.2,402.7 573.6,402.9 574.0,402.1 574.4,403.6 574.8,404.7 575.2,403.9 575.6,403.7 576.0,402.9 576.4,402.8 576.8,403.9 577.2,401.6 577.6,405.1 578.0,403.0 578.4,405.3 578.8,404.5 579.2,403.2 579.6,404.6 580.0,404.3 580.4,404.6 580.8,404.9 581.2,403.5 581.6,403.4 582.0,403.5 582.4,402.4 582.8,403.4 583.2,403.8 583.6,403.8 584.0,403.9 584.4,403.4 584.8,404.6 585.2,401.8 585.6,403.3 586.0,403.3 586.4,404.3 586.8,404.0 587.2,404.1 587.6,403.5 588.0,404.7 588.4,402.9 588.8,404.0 589.2,401.9 589.6,405.7 590.0,405.6 590.4,403.5 590.8,403.4 591.2,402.2 591.6,402.9 592.0,404.6 592.4,404.3 592.8,402.9 593.2,403.8 593.6,403.7 594.0,404.8 594.4,405.1 594.8,404.1 595.2,404.4 595.6,404.3 596.0,402.3 596.4,404.6 596.8,404.5 597.2,405.4 597.6,402.9 598.0,405.4 598.4,403.9 598.8,404.6 599.2,405.3 599.6,402.5 600.0,402.6 600.4,404.9 600.8,403.0 601.2,403.3 601.6,405.0 602.0,404.1 602.4,404.9 602.8,404.2 603.2,403.8 603.6,404.9 604.0,406.2 604.4,404.0 604.8,405.7 605.2,405.4 605.6,404.3 606.0,404.5 606.4,402.9 606.8,403.0 607.2,403.8 607.6,403.5 608.0,405.0 608.4,402.4 608.8,403.5 609.2,403.0 609.6,403.3 610.0,404.4 610.4,401.8 610.8,403.7 611.2,402.3 611.6,402.7 612.0,404.2 612.4,403.2 612.8,404.5 613.2,404.2 613.6,404.2 614.0,404.1 614.4,402.9 614.8,403.9 615.2,404.9 615.6,404.9 616.0,403.1 616.4,405.2 616.8,404.6 617.2,402.5 617.6,402.7 618.0,404.3 618.4,402.2 618.8,403.3 619.2,404.0 619.6,404.0 620.0,404.1 620.4,404.7 620.8,403.6 621.2,403.9 621.6,406.4 622.0,403.0 622.4,404.0 622.8,404.7 623.2,404.1 623.6,406.2 624.0,405.1 624.4,405.8 624.8,402.3 625.2,406.0 625.6,405.8 626.0,403.8 626.4,405.7 626.8,404.5 627.2,405.0 627.6,405.9 628.0,404.2 628.4,403.2 628.8,404.4 629.2,403.3 629.6,403.9 630.0,404.0 630.4,404.0 630.8,405.9 631.2,405.5 631.6,403.7 632.0,405.7 632.4,402.9 632.8,404.1 633.2,404.7 633.6,406.0 634.0,405.4 634.4,404.9 634.8,405.5 635.2,404.8 635.6,405.5 636.0,403.5 636.4,402.8 636.8,404.3 637.2,405.7 637.6,405.3 638.0,405.8 638.4,405.6 638.8,405.3 639.2,405.5 639.6,403.8 640.0,405.4 640.4,403.2 640.8,404.1 641.2,402.8 641.6,404.7 642.0,402.6 642.4,405.5 642.8,402.7 643.2,404.3 643.6,404.1 644.0,403.5 644.4,405.7 644.8,404.2 645.2,406.2 645.6,403.9 646.0,404.3 646.4,403.1 646.8,405.6 647.2,405.8 647.6,404.9 648.0,404.4 648.4,403.7 648.8,407.1 649.2,405.7 649.6,403.1 650.0,404.7 650.4,402.4 650.8,406.7 651.2,407.3 651.6,407.1 652.0,405.8 652.4,405.4 652.8,404.6 653.2,406.4 653.6,405.0 654.0,405.2 654.4,404.8 654.8,404.8 655.2,405.6 655.6,406.0 656.0,404.0 656.4,403.6 656.8,402.4 657.2,402.5 657.6,403.0 658.0,405.1 658.4,404.4 658.8,404.8 659.2,403.9 659.6,402.9 660.0,402.2 660.4,403.6 660.8,403.1 661.2,407.1 661.6,405.8 662.0,405.3 662.4,407.7 662.8,405.0 663.2,405.5 663.6,404.4 664.0,404.6 664.4,403.7 664.8,404.6 665.2,405.6 665.6,403.1 666.0,402.3 666.4,406.1 666.8,404.8 667.2,405.5 667.6,404.2 668.0,405.9 668.4,406.1 668.8,403.1 669.2,405.0 669.6,403.8 670.0,402.8 670.4,404.1 670.8,404.8 671.2,402.9 671.6,403.0 672.0,405.6 672.4,404.6 672.8,405.0 673.2,403.4 673.6,403.9 674.0,404.6 674.4,404.6 674.8,404.5 675.2,406.0 675.6,404.6 676.0,402.9 676.4,403.5 676.8,404.3 677.2,405.5 677.6,403.4 678.0,403.7 678.4,404.3 678.8,403.9 679.2,404.0 679.6,404.6 680.0,405.9 680.4,405.4 680.8,404.7 681.2,405.3 681.6,403.5 682.0,405.8 682.4,405.4 682.8,404.9 683.2,403.0 683.6,406.8 684.0,401.9 684.4,403.8 684.8,404.0 685.2,405.5 685.6,403.2 686.0,404.9 686.4,404.5 686.8,404.4 687.2,405.6 687.6,406.1 688.0,404.9 688.4,404.0 688.8,401.9 689.2,405.8 689.6,404.2 690.0,402.8 690.4,405.0 690.8,406.3 691.2,404.7 691.6,403.5 692.0,406.9 692.4,405.1 692.8,404.6 693.2,405.2 693.6,401.9 694.0,403.9 694.4,403.7 694.8,406.2 695.2,403.3 695.6,403.4 696.0,402.6 696.4,403.2 696.8,403.9 697.2,404.4 697.6,403.9 698.0,406.2 698.4,404.8 698.8,405.2 699.2,406.1 699.6,405.4 700.0,404.3 700.4,403.1 700.8,404.9 701.2,403.6 701.6,405.7 702.0,403.5 702.4,402.0 702.8,404.2 703.2,405.3 703.6,403.9 704.0,404.3 704.4,404.1 704.8,405.6 705.2,404.1 705.6,403.8 706.0,403.4 706.4,402.6 706.8,405.8 707.2,405.7 707.6,403.5 708.0,405.0 708.4,404.8 708.8,404.1 709.2,404.1 709.6,405.2 710.0,403.2 710.4,404.0 710.8,404.5 711.2,404.7 711.6,404.5 712.0,404.7 712.4,404.7 712.8,403.0 713.2,404.1 713.6,403.7 714.0,406.1 714.4,403.4 714.8,404.7 715.2,405.7 715.6,404.6 716.0,404.4 716.4,404.0 716.8,404.6 717.2,402.8 717.6,403.6 718.0,403.6 718.4,402.4 718.8,404.5 719.2,404.1 719.6,405.3 720.0,405.9 720.4,405.1 720.8,403.2 721.2,404.3 721.6,402.0 722.0,402.8 722.4,405.3 722.8,403.8 723.2,405.6 723.6,404.0 724.0,404.3 724.4,403.3 724.8,405.5 725.2,404.4 725.6,405.3 726.0,405.0 726.4,404.9 726.8,404.5 727.2,404.1 727.6,404.2 728.0,403.8 728.4,402.7 728.8,405.6 729.2,407.4 729.6,406.4 730.0,407.7 730.4,405.8 730.8,404.2 731.2,404.1 731.6,405.7 732.0,405.1 732.4,404.4 732.8,405.3 733.2,403.7 733.6,405.2 734.0,404.4 734.4,405.0 734.8,406.0 735.2,404.5 735.6,405.9 736.0,405.6 736.4,403.3 736.8,406.3 737.2,402.5 737.6,403.5 738.0,404.3 738.4,401.2 738.8,404.6 739.2,405.0 739.6,404.0 740.0,404.5 740.4,404.5 740.8,404.0 741.2,405.3 741.6,403.9 742.0,404.3 742.4,404.8 742.8,405.3 743.2,405.3 743.6,402.4 744.0,401.4 744.4,403.0 744.8,402.9 745.2,401.9 745.6,403.6 746.0,404.2 746.4,404.3 746.8,405.8 747.2,403.4 747.6,404.6 748.0,406.7 748.4,405.4 748.8,403.4 749.2,404.5 749.6,405.4 750.0,406.2 750.4,404.8 750.8,405.3 751.2,403.1 751.6,404.0 752.0,405.4 752.4,403.1 752.8,403.9 753.2,402.1 753.6,405.5 754.0,403.9 754.4,404.6 754.8,402.6 755.2,402.8 755.6,406.1 756.0,404.0 756.4,403.8 756.8,404.9 757.2,404.8 757.6,402.2 758.0,403.2 758.4,404.3 758.8,404.3 759.2,404.8 759.6,404.0 760.0,404.1 760.4,404.4 760.8,403.2 761.2,402.7 761.6,402.7 762.0,403.2 762.4,403.2 762.8,403.2 763.2,403.8 763.6,404.3 764.0,404.8 764.4,404.9 764.8,403.1 765.2,405.2 765.6,402.5 766.0,404.6 766.4,403.5 766.8,404.9 767.2,405.5 767.6,402.6 768.0,405.2 768.4,404.9 768.8,404.3 769.2,405.3 769.6,404.4 770.0,404.9 770.4,403.5 770.8,405.0 771.2,404.4 771.6,404.1 772.0,402.3 772.4,404.5 772.8,404.3 773.2,402.0 773.6,401.6 774.0,401.6 774.4,402.8 774.8,403.3 775.2,401.6 775.6,400.3 776.0,402.7 776.4,401.9 776.8,401.9 777.2,402.0 777.6,400.3 778.0,401.6 778.4,401.4 778.8,402.3 779.2,403.3 779.6,402.2 780.0,401.3 780.4,403.2 780.8,402.5 781.2,401.2 781.6,399.3 782.0,399.9 782.4,400.7 782.8,401.0 783.2,400.1 783.6,401.2 784.0,400.3 784.4,400.5 784.8,401.2 785.2,399.9 785.6,399.8 786.0,400.3 786.4,400.5 786.8,399.0 787.2,399.7 787.6,398.7 788.0,398.8 788.4,400.2 788.8,399.2 789.2,397.8 789.6,400.2 790.0,398.9 790.4,399.5 790.8,400.3 791.2,400.3 791.6,399.9 792.0,398.0 792.4,400.6 792.8,399.4 793.2,398.6 793.6,397.7 794.0,401.2 794.4,400.0 794.8,399.9 795.2,400.4 795.6,399.7 796.0,398.5 796.4,400.8 796.8,401.3 797.2,400.9 797.6,402.0 798.0,402.2 798.4,399.3 798.8,399.2 799.2,400.1 799.6,398.8 800.0,398.3 800.4,398.5 800.8,397.7 801.2,396.0 801.6,396.0 802.0,394.5 802.4,394.4 802.8,392.9 803.2,391.4 803.6,392.3 804.0,391.3 804.4,391.8 804.8,391.2 805.2,388.5 805.6,388.0 806.0,386.2 806.4,385.5 806.8,386.0 807.2,386.0 807.6,386.6 808.0,386.5 808.4,388.2 808.8,386.4 809.2,385.0 809.6,386.6 810.0,385.6 810.4,386.3 810.8,387.1 811.2,385.3 811.6,385.7 812.0,386.1 812.4,384.5 812.8,385.5 813.2,385.9 813.6,386.3 814.0,386.8 814.4,386.3 814.8,386.2 815.2,384.4 815.6,383.1 816.0,385.0 816.4,387.6 816.8,386.6 817.2,384.5 817.6,386.5 818.0,387.3 818.4,385.0 818.8,387.5 819.2,385.8 819.6,388.1 820.0,387.2 820.4,390.4 820.8,385.9 821.2,387.3 821.6,385.4 822.0,387.9 822.4,386.8 822.8,387.6 823.2,386.8 823.6,385.6 824.0,386.2 824.4,385.8 824.8,386.2 825.2,387.8 825.6,389.1 826.0,389.1 826.4,388.8 826.8,387.6 827.2,388.5 827.6,386.7 828.0,387.2 828.4,387.1 828.8,385.1 829.2,383.5 829.6,381.9 830.0,381.1 830.4,378.0 830.8,374.5 831.2,373.0 831.6,369.7 832.0,369.8 832.4,366.2 832.8,363.2 833.2,364.1 833.6,364.6 834.0,365.0 834.4,365.6 834.8,368.1 835.2,370.5 835.6,373.7 836.0,375.7 836.4,380.1 836.8,380.2 837.2,384.5 837.6,385.2 838.0,385.4 838.4,387.6 838.8,388.3 839.2,389.6 839.6,393.5 840.0,392.6 840.4,394.5 840.8,393.4 841.2,394.7 841.6,393.9 842.0,396.2 842.4,395.4 842.8,395.5 843.2,395.9 843.6,398.3 844.0,396.9 844.4,397.8 844.8,396.3 845.2,397.2 845.6,398.4 846.0,396.3 846.4,399.6 846.8,398.7 847.2,398.6 847.6,398.6 848.0,398.6 848.4,398.5 848.8,400.5 849.2,400.2 849.6,401.1 850.0,400.0 850.4,399.9 850.8,402.6 851.2,400.4 851.6,401.3 852.0,402.8 852.4,403.4 852.8,401.1 853.2,402.1 853.6,402.3 854.0,401.9 854.4,400.9 854.8,402.5 855.2,401.4 855.6,402.1 856.0,400.4 856.4,402.9 856.8,401.1 857.2,403.8 857.6,403.5 858.0,402.4 858.4,403.1 858.8,402.9 859.2,402.7 859.6,403.3 860.0,402.9 860.4,402.7 860.8,402.3 861.2,404.6 861.6,402.7 862.0,402.0 862.4,402.4 862.8,401.2 863.2,401.2 863.6,402.4 864.0,403.1 864.4,403.0 864.8,401.3 865.2,403.2 865.6,403.4 866.0,404.0 866.4,402.6 866.8,402.3 867.2,403.0 867.6,402.0 868.0,401.7 868.4,402.7 868.8,403.7 869.2,402.9 869.6,403.9 870.0,401.8 870.4,403.5 870.8,402.7 871.2,401.9 871.6,402.3 872.0,401.9 872.4,402.5 872.8,402.1 873.2,404.3 873.6,402.8 874.0,402.0 874.4,403.4 874.8,404.2 875.2,403.5 875.6,404.7 876.0,402.9 876.4,402.9 876.8,405.3 877.2,403.6 877.6,404.1 878.0,403.9 878.4,403.8 878.8,403.3 879.2,403.1 879.6,404.6 880.0,403.3 880.4,404.0 880.8,404.7 881.2,403.6 881.6,402.4 882.0,404.4 882.4,405.0 882.8,404.1 883.2,402.0 883.6,404.1 884.0,405.1 884.4,401.5 884.8,400.5 885.2,403.1 885.6,403.5 886.0,404.4 886.4,404.4 886.8,403.8 887.2,404.3 887.6,404.2 888.0,404.0 888.4,403.8 888.8,403.7 889.2,404.6 889.6,404.4 890.0,403.6 890.4,405.0 890.8,403.1 891.2,403.7 891.6,404.2 892.0,402.4 892.4,404.0 892.8,405.2 893.2,404.9 893.6,402.8 894.0,403.0 894.4,402.8 894.8,403.6 895.2,403.8 895.6,402.4 896.0,404.3 896.4,404.2 896.8,404.2 897.2,403.7 897.6,404.2 898.0,402.7 898.4,404.6 898.8,404.4 899.2,404.0 899.6,402.9 900.0,405.4 900.4,405.5 900.8,402.8 901.2,405.2 901.6,405.1 902.0,402.4 902.4,405.3 902.8,405.1 903.2,404.8 903.6,403.8 904.0,402.8 904.4,402.9 904.8,404.1 905.2,405.0 905.6,403.6 906.0,404.1 906.4,405.2 906.8,402.4 907.2,404.7 907.6,403.6 908.0,401.4 908.4,404.0 908.8,402.3 909.2,404.1 909.6,404.8 910.0,402.4 910.4,402.6 910.8,403.9 911.2,402.3 911.6,404.9 912.0,404.6 912.4,405.6 912.8,403.0 913.2,405.0 913.6,405.3 914.0,403.1 914.4,405.8 914.8,403.7 915.2,405.4 915.6,404.0 916.0,406.0 916.4,406.6 916.8,404.6 917.2,404.1 917.6,404.9 918.0,403.1 918.4,403.7 918.8,404.8 919.2,404.8 919.6,406.2 920.0,405.9 920.4,406.5 920.8,404.5 921.2,405.4 921.6,403.4 922.0,404.9 922.4,405.7 922.8,406.4 923.2,403.0 923.6,404.3 924.0,405.3 924.4,403.8 924.8,405.3 925.2,405.4 925.6,404.5 926.0,404.5 926.4,404.1 926.8,405.1 927.2,405.8 927.6,404.7 928.0,407.1 928.4,403.2 928.8,404.3 929.2,405.7 929.6,403.9 930.0,405.2 930.4,405.5 930.8,404.8 931.2,404.5 931.6,405.7 932.0,405.2 932.4,405.5 932.8,405.1 933.2,403.8 933.6,403.3 934.0,404.0 934.4,404.8 934.8,404.7 935.2,406.1 935.6,405.5 936.0,406.2 936.4,405.2 936.8,404.2 937.2,405.6 937.6,405.1 938.0,403.7 938.4,404.2 938.8,407.3 939.2,401.3 939.6,405.8 940.0,404.9 940.4,405.0 940.8,405.0 941.2,404.9 941.6,407.6 942.0,404.5 942.4,404.3 942.8,405.1 943.2,404.7 943.6,404.3 944.0,404.4 944.4,403.5 944.8,405.8 945.2,403.7 945.6,402.2 946.0,405.6 946.4,405.2 946.8,404.6 947.2,403.5 947.6,404.9 948.0,402.4 948.4,401.1 948.8,403.2 949.2,403.5 949.6,403.0 950.0,404.1 950.4,402.6 950.8,401.4 951.2,401.4 951.6,402.5 952.0,401.6 952.4,401.6 952.8,400.1 953.2,401.7 953.6,401.0 954.0,402.9 954.4,403.1 954.8,403.9 955.2,405.0 955.6,402.9 956.0,404.5 956.4,402.0 956.8,403.5 957.2,404.7 957.6,406.1 958.0,403.5 958.4,404.6 958.8,405.1 959.2,404.8 959.6,403.8 960.0,403.0 960.4,403.3 960.8,404.3 961.2,403.1 961.6,406.2 962.0,405.8 962.4,402.9 962.8,404.5 963.2,406.6 963.6,407.0 964.0,406.9 964.4,404.5 964.8,405.5 965.2,407.0 965.6,405.5 966.0,404.7 966.4,405.4 966.8,405.8 967.2,404.9 967.6,405.1 968.0,406.2 968.4,404.8 968.8,404.5 969.2,406.1 969.6,403.9 970.0,405.4 970.4,404.1 970.8,405.7 971.2,403.7 971.6,406.0 972.0,404.9 972.4,404.1 972.8,403.5 973.2,404.4 973.6,404.0 974.0,404.2 974.4,406.9 974.8,406.9 975.2,407.8 975.6,405.3 976.0,404.8 976.4,404.9 976.8,406.7 977.2,406.4 977.6,403.4 978.0,406.1 978.4,404.7 978.8,404.3 979.2,405.7 979.6,406.5 980.0,405.7 980.4,405.5 980.8,404.7 981.2,404.0 981.6,405.1 982.0,403.9 982.4,406.0 982.8,404.4 983.2,406.4 983.6,403.4 984.0,406.5 984.4,404.3 984.8,404.4 985.2,405.6 985.6,406.1 986.0,405.1 986.4,404.8 986.8,407.3 987.2,405.9 987.6,404.3 988.0,405.4 988.4,407.4 988.8,406.1 989.2,406.8 989.6,408.1 990.0,405.6 990.4,406.6 990.8,405.4 991.2,406.0 991.6,406.4 992.0,404.5 992.4,405.8 992.8,405.5 993.2,406.1 993.6,404.3 994.0,403.6 994.4,405.3 994.8,403.9 995.2,405.4 995.6,405.9 996.0,404.7 996.4,405.6 996.8,404.9 997.2,403.1 997.6,404.3 998.0,403.5 998.4,405.5 998.8,404.4 999.2,405.4 999.6,405.5 1000.0,406.5 1000.4,405.0 1000.8,404.8 1001.2,405.7 1001.6,407.0 1002.0,405.6 1002.4,406.3 1002.8,406.0 1003.2,405.6 1003.6,404.7 1004.0,406.2 1004.4,405.9 1004.8,405.8 1005.2,407.9 1005.6,405.5 1006.0,406.1 1006.4,405.4 1006.8,407.0 1007.2,405.6 1007.6,407.8 1008.0,405.6 1008.4,406.5 1008.8,406.6 1009.2,405.4 1009.6,406.7 1010.0,406.2 1010.4,405.7 1010.8,406.0 1011.2,407.1 1011.6,408.4 1012.0,405.9 1012.4,406.5 1012.8,404.9 1013.2,405.9 1013.6,404.4 1014.0,405.3 1014.4,406.5 1014.8,405.8 1015.2,406.2 1015.6,407.2 1016.0,405.9 1016.4,405.1 1016.8,404.5 1017.2,405.1 1017.6,406.7 1018.0,405.5 1018.4,405.5 1018.8,406.6 1019.2,407.1 1019.6,407.6 1020.0,406.4 1020.4,405.7 1020.8,404.6 1021.2,405.2 1021.6,405.1 1022.0,406.1 1022.4,405.8 1022.8,405.2 1023.2,406.8 1023.6,404.6 1024.0,404.6 1024.4,404.2 1024.8,404.2 1025.2,405.1 1025.6,404.7 1026.0,405.1 1026.4,407.4 1026.8,404.7 1027.2,405.1 1027.6,405.8 1028.0,406.1 1028.4,405.8 1028.8,404.8 1029.2,404.8 1029.6,405.1 1030.0,406.4 1030.4,405.0 1030.8,403.7 1031.2,406.2 1031.6,404.8 1032.0,405.8 1032.4,407.1 1032.8,405.5 1033.2,407.0 1033.6,403.3 1034.0,405.1 1034.4,405.4 1034.8,405.9 1035.2,404.4 1035.6,405.1 1036.0,404.7 1036.4,404.1 1036.8,402.0 1037.2,401.1 1037.6,402.8 1038.0,402.0 1038.4,401.0 1038.8,400.8 1039.2,400.7 1039.6,398.1 1040.0,400.1 1040.4,401.2 1040.8,401.4 1041.2,401.7 1041.6,402.5 1042.0,401.1 1042.4,402.6 1042.8,404.7 1043.2,405.6 1043.6,405.0 1044.0,404.4 1044.4,404.7 1044.8,405.7 1045.2,406.9 1045.6,405.9 1046.0,404.8 1046.4,406.3 1046.8,406.4 1047.2,408.4 1047.6,406.6 1048.0,406.0 1048.4,405.9 1048.8,404.7 1049.2,404.8 1049.6,405.4 1050.0,405.0 1050.4,406.1 1050.8,406.2 1051.2,407.2 1051.6,407.9 1052.0,406.7 1052.4,406.4 1052.8,404.8 1053.2,406.9 1053.6,407.1 1054.0,405.3 1054.4,405.4 1054.8,404.9 1055.2,406.8 1055.6,406.5 1056.0,407.4 1056.4,405.1 1056.8,409.0 1057.2,405.3 1057.6,404.9 1058.0,405.9 1058.4,405.2 1058.8,407.6 1059.2,405.5 1059.6,405.5 1060.0,407.3 1060.4,407.8 1060.8,405.9 1061.2,406.3 1061.6,406.3 1062.0,406.2 1062.4,407.7 1062.8,407.0 1063.2,406.7 1063.6,407.0 1064.0,405.9 1064.4,406.8 1064.8,405.9 1065.2,405.1 1065.6,407.3 1066.0,403.7 1066.4,405.4 1066.8,404.9 1067.2,404.2 1067.6,405.7 1068.0,406.4 1068.4,406.8 1068.8,405.6 1069.2,407.1 1069.6,406.6 1070.0,407.2 1070.4,404.6 1070.8,406.1 1071.2,405.9 1071.6,407.1 1072.0,405.7 1072.4,406.0 1072.8,405.5 1073.2,405.4 1073.6,405.4 1074.0,406.9 1074.4,404.5 1074.8,403.0 1075.2,405.9 1075.6,405.4 1076.0,406.6 1076.4,406.7 1076.8,405.8 1077.2,405.5 1077.6,405.1 1078.0,405.4 1078.4,404.5 1078.8,405.5 1079.2,406.8 1079.6,405.0 1080.0,405.1 1080.4,405.1 1080.8,406.3 1081.2,406.2 1081.6,406.9 1082.0,406.1 1082.4,405.6 1082.8,406.1 1083.2,404.5 1083.6,406.5 1084.0,406.2 1084.4,408.1 1084.8,407.5 1085.2,405.5 1085.6,406.0 1086.0,407.5 1086.4,404.5 1086.8,405.4 1087.2,406.5 1087.6,406.7 1088.0,406.3 1088.4,407.3 1088.8,405.9 1089.2,406.2 1089.6,405.8 1090.0,404.8 1090.4,405.8 1090.8,405.1 1091.2,405.7 1091.6,403.1 1092.0,406.0 1092.4,405.4 1092.8,405.4 1093.2,406.0 1093.6,405.5 1094.0,406.9 1094.4,407.3 1094.8,407.1 1095.2,407.2 1095.6,406.7 1096.0,406.2 1096.4,404.6 1096.8,405.3 1097.2,406.7 1097.6,406.0 1098.0,404.6 1098.4,405.2 1098.8,406.4 1099.2,405.4 1099.6,407.6 1100.0,405.5 1100.4,407.2 1100.8,407.2 1101.2,406.8 1101.6,407.1 1102.0,407.4 1102.4,404.4 1102.8,406.7 1103.2,406.9 1103.6,405.9 1104.0,406.6 1104.4,404.4 1104.8,405.8 1105.2,406.5 1105.6,406.1 1106.0,407.6 1106.4,406.9 1106.8,405.7 1107.2,406.8 1107.6,406.7 1108.0,405.5 1108.4,406.6 1108.8,406.4 1109.2,406.3 1109.6,404.5 1110.0,406.9 1110.4,406.2 1110.8,405.5 1111.2,405.9 1111.6,405.9 1112.0,405.4 1112.4,405.2 1112.8,406.1 1113.2,405.6 1113.6,405.9 1114.0,405.3 1114.4,406.2 1114.8,407.4 1115.2,406.5 1115.6,406.2 1116.0,405.9 1116.4,405.8 1116.8,404.9 1117.2,408.2 1117.6,406.0 1118.0,405.3 1118.4,407.3 1118.8,407.2 1119.2,406.3 1119.6,405.2 1120.0,405.2 1120.4,408.0 1120.8,406.1 1121.2,405.5 1121.6,408.0 1122.0,405.6 1122.4,405.4 1122.8,407.0 1123.2,406.9 1123.6,408.1 1124.0,404.9 1124.4,406.5 1124.8,404.4 1125.2,406.5 1125.6,405.5 1126.0,405.9 1126.4,405.7 1126.8,407.4 1127.2,408.3 1127.6,406.7 1128.0,406.7 1128.4,406.6 1128.8,407.8 1129.2,406.3 1129.6,410.8 1130.0,406.9 1130.4,408.7 1130.8,407.1 1131.2,405.5 1131.6,405.2 1132.0,406.2 1132.4,405.7 1132.8,405.9 1133.2,404.8 1133.6,408.2 1134.0,408.0 1134.4,404.2 1134.8,406.7 1135.2,407.6 1135.6,406.3 1136.0,406.6 1136.4,407.9 1136.8,407.2 1137.2,405.1 1137.6,407.1 1138.0,405.1 1138.4,407.4 1138.8,404.8 1139.2,403.8 1139.6,406.5 1140.0,407.9 1140.4,407.2 1140.8,406.8 1141.2,405.6 1141.6,407.4 1142.0,404.6 1142.4,407.1 1142.8,405.0 1143.2,405.5 1143.6,404.8 1144.0,405.4 1144.4,408.0 1144.8,405.4 1145.2,406.9 1145.6,405.9 1146.0,407.7 1146.4,405.1 1146.8,406.4 1147.2,407.2 1147.6,408.4 1148.0,404.9 1148.4,405.2 1148.8,406.0 1149.2,407.5 1149.6,404.8 1150.0,406.5 1150.4,404.8 1150.8,404.3 1151.2,403.9 1151.6,406.0 1152.0,407.3 1152.4,406.6 1152.8,404.8 1153.2,406.3 1153.6,407.7 1154.0,407.6 1154.4,407.0 1154.8,408.2 1155.2,405.5 1155.6,405.6 1156.0,409.2 1156.4,407.5 1156.8,406.5 1157.2,406.0 1157.6,403.7 1158.0,407.1 1158.4,404.2 1158.8,404.4 1159.2,406.5 1159.6,408.1 1160.0,406.2 1160.4,406.9 1160.8,406.0 1161.2,406.9 1161.6,404.9 1162.0,408.8 1162.4,405.7 1162.8,407.1 1163.2,404.2 1163.6,407.9 1164.0,406.4 1164.4,408.0 1164.8,405.4 1165.2,407.3 1165.6,406.1 1166.0,406.3 1166.4,407.5 1166.8,405.2 1167.2,406.9 1167.6,408.3 1168.0,408.3 1168.4,407.6 1168.8,406.9 1169.2,405.6 1169.6,408.0 1170.0,405.9 1170.4,407.9 1170.8,406.4 1171.2,406.8 1171.6,406.8 1172.0,407.4 1172.4,406.3 1172.8,407.1 1173.2,406.3 1173.6,407.4 1174.0,407.0 1174.4,407.0 1174.8,405.6 1175.2,406.8 1175.6,406.6 1176.0,407.5 1176.4,407.2 1176.8,406.5 1177.2,408.3 1177.6,406.9 1178.0,407.8 1178.4,405.2 1178.8,407.7 1179.2,407.8 1179.6,406.1 1180.0,407.5 1180.4,406.4 1180.8,408.0 1181.2,407.3 1181.6,405.4 1182.0,406.6 1182.4,405.1 1182.8,406.6 1183.2,407.6 1183.6,407.8 1184.0,406.8 1184.4,406.6 1184.8,406.8 1185.2,405.9 1185.6,406.6 1186.0,407.3 1186.4,406.3 1186.8,406.9 1187.2,405.2 1187.6,405.4 1188.0,406.3 1188.4,408.0 1188.8,407.0 1189.2,407.9 1189.6,406.4 1190.0,407.8 1190.4,404.9 1190.8,407.1 1191.2,404.3 1191.6,407.5 1192.0,406.6 1192.4,407.4 1192.8,406.9 1193.2,406.3 1193.6,406.4 1194.0,407.4 1194.4,408.6 1194.8,407.3 1195.2,405.8 1195.6,405.6 1196.0,405.7 1196.4,406.5 1196.8,406.9 1197.2,406.7 1197.6,407.2 1198.0,405.4 1198.4,408.4 1198.8,406.8 1199.2,408.0 1199.6,406.6 1200.0,406.0 1200.4,406.3 1200.8,406.5 1201.2,405.6 1201.6,405.9 1202.0,408.3 1202.4,407.4 1202.8,405.9 1203.2,406.9 1203.6,405.5 1204.0,407.8 1204.4,405.4 1204.8,407.6 1205.2,406.9 1205.6,406.9 1206.0,406.0 1206.4,406.5 1206.8,405.9 1207.2,405.7 1207.6,407.0 1208.0,408.9 1208.4,405.8 1208.8,406.9 1209.2,405.6 1209.6,404.8 1210.0,406.9 1210.4,406.3 1210.8,407.1 1211.2,406.4 1211.6,406.7 1212.0,405.9 1212.4,406.6 1212.8,408.7 1213.2,404.7 1213.6,407.4 1214.0,408.4 1214.4,407.7 1214.8,407.7 1215.2,406.4 1215.6,407.7 1216.0,407.7 1216.4,406.6 1216.8,408.6 1217.2,406.6 1217.6,404.8 1218.0,407.5 1218.4,407.4 1218.8,406.6 1219.2,406.8 1219.6,406.5 1220.0,405.0 1220.4,407.9 1220.8,406.5 1221.2,409.2 1221.6,406.5 1222.0,407.1 1222.4,405.2 1222.8,407.9 1223.2,405.9 1223.6,407.7 1224.0,408.2 1224.4,408.1 1224.8,406.5 1225.2,406.4 1225.6,407.6 1226.0,407.7 1226.4,407.7 1226.8,406.1 1227.2,406.0 1227.6,408.1 1228.0,405.8 1228.4,407.3 1228.8,406.3 1229.2,405.2 1229.6,405.6 1230.0,407.2 1230.4,407.0 1230.8,407.4 1231.2,406.6 1231.6,406.5 1232.0,407.2 1232.4,406.6 1232.8,405.0 1233.2,406.0 1233.6,408.1 1234.0,405.8 1234.4,407.3 1234.8,406.8 1235.2,407.6 1235.6,405.9 1236.0,405.4 1236.4,407.1 1236.8,406.1 1237.2,406.8 1237.6,406.6 1238.0,407.9 1238.4,407.3 1238.8,407.3 1239.2,406.2 1239.6,405.7 1240.0,406.3 1240.4,407.8 1240.8,407.6 1241.2,407.4 1241.6,406.5 1242.0,406.0 1242.4,408.3 1242.8,407.4 1243.2,407.7 1243.6,406.1 1244.0,406.3 1244.4,407.6 1244.8,407.8 1245.2,406.2 1245.6,407.6 1246.0,406.0 1246.4,408.1 1246.8,407.3 1247.2,408.7 1247.6,407.8 1248.0,405.6 1248.4,406.3 1248.8,405.4 1249.2,405.7 1249.6,406.0 1250.0,405.1 1250.4,405.2 1250.8,403.9 1251.2,405.8 1251.6,405.2 1252.0,405.7 1252.4,406.1 1252.8,405.0 1253.2,405.6 1253.6,404.3 1254.0,405.8 1254.4,404.8 1254.8,404.3 1255.2,404.8 1255.6,403.7 1256.0,404.6 1256.4,405.0 1256.8,405.6 1257.2,405.6 1257.6,405.2 1258.0,405.9 1258.4,404.1 1258.8,406.5 1259.2,407.0 1259.6,407.2 1260.0,407.4 1260.4,406.2 1260.8,406.6 1261.2,406.6 1261.6,406.9 1262.0,407.6 1262.4,408.6 1262.8,405.2 1263.2,406.1 1263.6,406.6 1264.0,405.3 1264.4,406.8 1264.8,405.0 1265.2,406.0 1265.6,404.8 1266.0,406.7 1266.4,405.8 1266.8,407.3 1267.2,406.4 1267.6,405.8 1268.0,406.3 1268.4,406.9 1268.8,406.9 1269.2,406.9 1269.6,407.1 1270.0,407.7 1270.4,408.5 1270.8,407.0 1271.2,407.7 1271.6,405.7 1272.0,407.7 1272.4,407.1 1272.8,406.5 1273.2,406.5 1273.6,405.2 1274.0,406.9 1274.4,406.6 1274.8,405.6 1275.2,406.7 1275.6,408.0 1276.0,407.9 1276.4,408.2 1276.8,407.4 1277.2,408.7 1277.6,407.7 1278.0,408.5 1278.4,409.8 1278.8,405.6 1279.2,407.1 1279.6,407.5 1280.0,406.7 1280.4,408.5 1280.8,407.2 1281.2,409.3 1281.6,408.4 1282.0,408.0 1282.4,407.6 1282.8,408.4 1283.2,408.1 1283.6,409.1 1284.0,408.0 1284.4,408.6 1284.8,407.8 1285.2,407.7 1285.6,405.8 1286.0,407.4 1286.4,407.7 1286.8,406.2 1287.2,406.1 1287.6,407.2 1288.0,407.9 1288.4,406.0 1288.8,408.0 1289.2,408.7 1289.6,407.6 1290.0,408.0 1290.4,408.0 1290.8,406.7 1291.2,407.8 1291.6,407.6 1292.0,405.9 1292.4,407.6 1292.8,408.1 1293.2,406.4 1293.6,408.5 1294.0,407.5 1294.4,406.4 1294.8,406.5 1295.2,406.6 1295.6,408.0 1296.0,407.1 1296.4,407.4 1296.8,406.7 1297.2,408.2 1297.6,407.3 1298.0,408.1 1298.4,409.5 1298.8,409.4 1299.2,407.8 1299.6,407.8 1300.0,408.0 1300.4,407.1 1300.8,408.2 1301.2,408.5 1301.6,407.3 1302.0,406.5 1302.4,407.8 1302.8,409.5 1303.2,409.4 1303.6,409.5 1304.0,409.5 1304.4,407.9 1304.8,408.7 1305.2,409.4 1305.6,408.5 1306.0,408.9 1306.4,406.7 1306.8,406.1 1307.2,409.1 1307.6,407.9 1308.0,407.9 1308.4,409.0 1308.8,409.9 1309.2,410.5 1309.6,405.1 1310.0,407.8 1310.4,408.4 1310.8,405.6 1311.2,405.9 1311.6,407.7 1312.0,409.7 1312.4,408.8 1312.8,409.9 1313.2,407.9 1313.6,408.7 1314.0,409.2 1314.4,408.3 1314.8,408.1 1315.2,408.5 1315.6,404.9 1316.0,409.0 1316.4,406.9 1316.8,407.9 1317.2,409.2 1317.6,408.6 1318.0,405.9 1318.4,408.3 1318.8,408.4 1319.2,407.7 1319.6,408.2 1320.0,408.0 1320.4,405.7 1320.8,407.3 1321.2,407.4 1321.6,406.9 1322.0,408.4 1322.4,408.0 1322.8,408.8 1323.2,407.9 1323.6,409.6 1324.0,410.4 1324.4,407.4 1324.8,407.8 1325.2,407.7 1325.6,408.2 1326.0,407.7 1326.4,405.9 1326.8,408.6 1327.2,408.1 1327.6,407.0 1328.0,407.6 1328.4,407.1 1328.8,407.7 1329.2,407.2 1329.6,407.4 1330.0,407.9 1330.4,408.2 1330.8,408.1 1331.2,409.2 1331.6,408.3 1332.0,407.4 1332.4,409.9 1332.8,408.3 1333.2,409.6 1333.6,406.8 1334.0,408.4 1334.4,409.6 1334.8,409.2 1335.2,408.1 1335.6,407.4 1336.0,407.3 1336.4,407.5 1336.8,406.5 1337.2,406.5 1337.6,406.2 1338.0,406.2 1338.4,407.6 1338.8,406.0 1339.2,408.2 1339.6,409.0 1340.0,407.5 1340.4,407.4 1340.8,408.2 1341.2,408.1 1341.6,409.2 1342.0,406.5 1342.4,408.6 1342.8,410.1 1343.2,408.6 1343.6,410.1 1344.0,410.4 1344.4,407.7 1344.8,409.7 1345.2,408.7 1345.6,408.1 1346.0,407.8 1346.4,407.9 1346.8,407.2 1347.2,408.0 1347.6,409.1 1348.0,409.3 1348.4,407.5 1348.8,408.2 1349.2,408.0 1349.6,405.2 1350.0,408.5 1350.4,406.9 1350.8,407.3 1351.2,409.5 1351.6,410.2 1352.0,407.2 1352.4,407.2 1352.8,406.9 1353.2,407.4 1353.6,407.9 1354.0,407.8 1354.4,407.4 1354.8,410.9 1355.2,408.5 1355.6,408.1 1356.0,409.5"/>
<polyline fill="none" stroke="#419a6c" stroke-width="2.4" stroke-linejoin="round" points="120.0,189.1 120.4,189.7 120.8,189.4 121.2,187.9 121.6,190.7 122.0,190.4 122.4,189.5 122.8,190.8 123.2,190.4 123.6,190.0 124.0,189.4 124.4,189.6 124.8,188.0 125.2,188.5 125.6,188.2 126.0,189.5 126.4,189.0 126.8,188.9 127.2,188.4 127.6,189.0 128.0,189.3 128.4,189.1 128.8,190.8 129.2,190.5 129.6,186.5 130.0,187.6 130.4,189.8 130.8,189.6 131.2,190.1 131.6,189.8 132.0,191.4 132.4,187.6 132.8,188.4 133.2,191.3 133.6,190.1 134.0,190.5 134.4,189.3 134.8,188.2 135.2,190.2 135.6,190.2 136.0,188.9 136.4,189.6 136.8,190.2 137.2,188.9 137.6,189.3 138.0,189.1 138.4,189.0 138.8,188.7 139.2,190.5 139.6,191.4 140.0,191.1 140.4,189.9 140.8,191.3 141.2,189.6 141.6,190.7 142.0,188.4 142.4,190.4 142.8,189.5 143.2,188.2 143.6,189.3 144.0,189.9 144.4,190.3 144.8,188.9 145.2,188.8 145.6,190.1 146.0,189.2 146.4,189.8 146.8,190.4 147.2,187.8 147.6,190.1 148.0,191.3 148.4,189.7 148.8,189.1 149.2,190.6 149.6,189.8 150.0,190.1 150.4,188.5 150.8,187.2 151.2,189.0 151.6,189.0 152.0,190.7 152.4,190.3 152.8,188.2 153.2,188.4 153.6,190.4 154.0,190.0 154.4,188.7 154.8,189.7 155.2,190.4 155.6,190.4 156.0,190.7 156.4,189.7 156.8,189.2 157.2,188.9 157.6,190.5 158.0,187.1 158.4,189.6 158.8,189.9 159.2,188.2 159.6,190.0 160.0,188.9 160.4,190.7 160.8,189.9 161.2,191.0 161.6,191.7 162.0,190.8 162.4,189.3 162.8,188.6 163.2,192.1 163.6,190.1 164.0,189.7 164.4,190.7 164.8,190.4 165.2,191.5 165.6,190.3 166.0,190.0 166.4,188.9 166.8,190.0 167.2,188.4 167.6,190.5 168.0,191.7 168.4,188.4 168.8,187.4 169.2,190.8 169.6,193.0 170.0,189.2 170.4,189.0 170.8,191.1 171.2,189.6 171.6,189.8 172.0,189.9 172.4,190.8 172.8,189.8 173.2,190.6 173.6,190.2 174.0,189.6 174.4,190.2 174.8,189.6 175.2,190.7 175.6,189.4 176.0,189.2 176.4,191.9 176.8,190.2 177.2,190.2 177.6,190.9 178.0,190.0 178.4,190.3 178.8,191.1 179.2,190.9 179.6,189.1 180.0,191.1 180.4,189.3 180.8,188.5 181.2,188.6 181.6,189.3 182.0,191.8 182.4,189.1 182.8,190.9 183.2,188.5 183.6,190.8 184.0,191.7 184.4,190.4 184.8,189.8 185.2,190.6 185.6,190.9 186.0,190.7 186.4,192.0 186.8,190.2 187.2,189.4 187.6,190.1 188.0,190.3 188.4,190.7 188.8,190.8 189.2,191.2 189.6,189.2 190.0,192.0 190.4,190.3 190.8,189.4 191.2,191.1 191.6,191.9 192.0,191.1 192.4,190.9 192.8,190.0 193.2,194.4 193.6,192.3 194.0,190.1 194.4,190.3 194.8,191.2 195.2,189.2 195.6,190.9 196.0,190.1 196.4,191.8 196.8,191.5 197.2,187.5 197.6,190.6 198.0,188.8 198.4,191.9 198.8,191.0 199.2,191.5 199.6,189.8 200.0,193.1 200.4,193.2 200.8,189.8 201.2,191.2 201.6,189.9 202.0,190.5 202.4,189.1 202.8,192.7 203.2,189.9 203.6,191.0 204.0,192.2 204.4,191.1 204.8,191.5 205.2,190.9 205.6,191.1 206.0,189.6 206.4,190.2 206.8,190.4 207.2,190.5 207.6,191.1 208.0,190.9 208.4,192.1 208.8,190.8 209.2,190.8 209.6,190.0 210.0,189.9 210.4,188.9 210.8,190.8 211.2,189.0 211.6,189.6 212.0,191.0 212.4,191.3 212.8,190.6 213.2,189.0 213.6,191.9 214.0,191.9 214.4,190.1 214.8,192.5 215.2,190.8 215.6,190.3 216.0,191.6 216.4,191.2 216.8,191.4 217.2,189.3 217.6,193.0 218.0,190.5 218.4,189.6 218.8,192.2 219.2,191.2 219.6,191.9 220.0,191.0 220.4,191.1 220.8,191.1 221.2,189.8 221.6,191.2 222.0,189.8 222.4,189.4 222.8,190.5 223.2,191.1 223.6,190.6 224.0,190.1 224.4,192.0 224.8,189.5 225.2,190.3 225.6,191.4 226.0,189.7 226.4,191.1 226.8,191.0 227.2,192.2 227.6,190.5 228.0,191.1 228.4,192.2 228.8,189.1 229.2,195.0 229.6,190.6 230.0,190.4 230.4,192.1 230.8,191.2 231.2,189.3 231.6,191.8 232.0,192.0 232.4,190.6 232.8,190.9 233.2,192.1 233.6,190.9 234.0,192.4 234.4,192.1 234.8,191.0 235.2,190.1 235.6,191.4 236.0,190.8 236.4,192.9 236.8,192.0 237.2,192.6 237.6,191.9 238.0,192.0 238.4,190.9 238.8,192.7 239.2,194.1 239.6,191.8 240.0,191.5 240.4,191.7 240.8,190.9 241.2,190.4 241.6,191.1 242.0,190.7 242.4,192.8 242.8,191.5 243.2,192.1 243.6,193.0 244.0,191.7 244.4,193.7 244.8,191.4 245.2,191.2 245.6,191.7 246.0,191.8 246.4,190.3 246.8,191.7 247.2,189.8 247.6,193.1 248.0,191.4 248.4,190.8 248.8,190.5 249.2,191.2 249.6,191.5 250.0,190.8 250.4,191.1 250.8,192.0 251.2,191.7 251.6,193.4 252.0,193.5 252.4,192.2 252.8,192.6 253.2,190.7 253.6,193.0 254.0,192.4 254.4,193.2 254.8,194.4 255.2,189.9 255.6,192.4 256.0,190.6 256.4,192.2 256.8,190.1 257.2,191.0 257.6,192.0 258.0,192.6 258.4,192.0 258.8,191.2 259.2,191.5 259.6,193.2 260.0,192.3 260.4,190.5 260.8,193.2 261.2,192.6 261.6,193.0 262.0,191.6 262.4,192.8 262.8,190.6 263.2,192.5 263.6,191.5 264.0,193.1 264.4,193.7 264.8,191.9 265.2,192.8 265.6,192.8 266.0,193.9 266.4,193.2 266.8,190.9 267.2,192.8 267.6,193.1 268.0,194.7 268.4,190.5 268.8,191.7 269.2,193.6 269.6,190.6 270.0,190.8 270.4,192.7 270.8,193.4 271.2,191.6 271.6,192.9 272.0,192.3 272.4,193.7 272.8,191.9 273.2,193.1 273.6,191.1 274.0,192.1 274.4,192.5 274.8,194.1 275.2,193.6 275.6,192.2 276.0,193.9 276.4,194.0 276.8,193.0 277.2,192.8 277.6,192.7 278.0,190.8 278.4,192.7 278.8,192.6 279.2,191.2 279.6,192.8 280.0,190.4 280.4,191.3 280.8,191.3 281.2,194.1 281.6,190.2 282.0,192.7 282.4,193.1 282.8,192.5 283.2,193.4 283.6,191.0 284.0,189.8 284.4,193.4 284.8,191.5 285.2,192.6 285.6,191.7 286.0,194.0 286.4,193.6 286.8,191.8 287.2,193.6 287.6,192.7 288.0,192.2 288.4,192.3 288.8,191.9 289.2,192.9 289.6,192.7 290.0,192.0 290.4,193.5 290.8,191.6 291.2,192.5 291.6,192.6 292.0,193.7 292.4,191.4 292.8,193.9 293.2,192.2 293.6,191.9 294.0,191.7 294.4,193.4 294.8,193.0 295.2,191.8 295.6,191.6 296.0,192.1 296.4,191.8 296.8,193.9 297.2,194.4 297.6,194.2 298.0,193.9 298.4,193.1 298.8,193.5 299.2,194.2 299.6,195.3 300.0,193.8 300.4,192.5 300.8,193.0 301.2,192.5 301.6,192.1 302.0,192.5 302.4,192.6 302.8,194.1 303.2,192.2 303.6,193.9 304.0,194.8 304.4,193.4 304.8,195.4 305.2,194.4 305.6,193.0 306.0,193.5 306.4,192.9 306.8,192.3 307.2,192.1 307.6,192.4 308.0,192.8 308.4,191.7 308.8,192.9 309.2,191.6 309.6,193.7 310.0,194.1 310.4,193.5 310.8,193.5 311.2,193.7 311.6,192.0 312.0,192.3 312.4,193.0 312.8,193.5 313.2,192.9 313.6,195.5 314.0,192.8 314.4,194.1 314.8,194.5 315.2,193.0 315.6,192.3 316.0,191.9 316.4,193.3 316.8,194.3 317.2,193.3 317.6,193.2 318.0,192.6 318.4,193.7 318.8,190.7 319.2,193.3 319.6,193.1 320.0,191.6 320.4,195.7 320.8,192.0 321.2,192.5 321.6,192.3 322.0,194.6 322.4,192.1 322.8,193.6 323.2,193.4 323.6,193.0 324.0,191.4 324.4,192.2 324.8,194.8 325.2,191.5 325.6,191.8 326.0,192.3 326.4,193.1 326.8,192.3 327.2,192.8 327.6,190.9 328.0,193.3 328.4,193.1 328.8,190.9 329.2,194.5 329.6,195.5 330.0,192.1 330.4,192.9 330.8,194.2 331.2,190.8 331.6,190.3 332.0,191.2 332.4,192.3 332.8,192.7 333.2,194.3 333.6,194.1 334.0,192.5 334.4,194.5 334.8,195.8 335.2,194.8 335.6,194.3 336.0,193.1 336.4,194.0 336.8,191.9 337.2,193.9 337.6,193.0 338.0,194.4 338.4,193.7 338.8,191.9 339.2,193.2 339.6,194.4 340.0,191.7 340.4,192.3 340.8,191.8 341.2,190.8 341.6,193.3 342.0,193.5 342.4,192.9 342.8,192.5 343.2,192.6 343.6,193.2 344.0,192.4 344.4,194.3 344.8,194.3 345.2,193.9 345.6,192.1 346.0,192.7 346.4,192.4 346.8,194.7 347.2,193.1 347.6,191.0 348.0,193.7 348.4,195.5 348.8,194.2 349.2,194.3 349.6,193.3 350.0,191.0 350.4,191.2 350.8,191.8 351.2,192.9 351.6,193.3 352.0,193.6 352.4,192.6 352.8,194.2 353.2,192.9 353.6,192.6 354.0,194.3 354.4,192.4 354.8,190.3 355.2,191.9 355.6,193.0 356.0,189.4 356.4,192.6 356.8,193.1 357.2,192.3 357.6,192.6 358.0,193.7 358.4,193.5 358.8,195.2 359.2,194.0 359.6,191.8 360.0,192.6 360.4,194.5 360.8,196.1 361.2,194.6 361.6,194.5 362.0,196.0 362.4,193.7 362.8,193.1 363.2,191.6 363.6,192.5 364.0,195.4 364.4,191.5 364.8,193.2 365.2,191.7 365.6,193.4 366.0,194.2 366.4,192.9 366.8,194.0 367.2,193.9 367.6,193.6 368.0,195.0 368.4,193.9 368.8,192.6 369.2,192.1 369.6,191.9 370.0,193.4 370.4,192.6 370.8,195.9 371.2,194.8 371.6,192.2 372.0,191.8 372.4,194.0 372.8,190.3 373.2,192.3 373.6,194.5 374.0,193.1 374.4,194.0 374.8,194.4 375.2,195.6 375.6,194.8 376.0,194.7 376.4,194.5 376.8,193.5 377.2,194.4 377.6,192.2 378.0,191.5 378.4,191.1 378.8,191.3 379.2,192.6 379.6,194.5 380.0,193.8 380.4,193.1 380.8,192.7 381.2,193.4 381.6,193.5 382.0,193.0 382.4,191.6 382.8,192.2 383.2,193.4 383.6,189.7 384.0,192.0 384.4,190.3 384.8,193.3 385.2,192.6 385.6,191.3 386.0,193.8 386.4,195.5 386.8,193.3 387.2,194.3 387.6,192.9 388.0,190.8 388.4,193.9 388.8,193.1 389.2,191.9 389.6,194.3 390.0,193.6 390.4,192.7 390.8,194.4 391.2,192.6 391.6,194.4 392.0,192.7 392.4,194.2 392.8,192.2 393.2,194.8 393.6,193.4 394.0,194.7 394.4,192.3 394.8,192.8 395.2,194.2 395.6,190.2 396.0,192.1 396.4,194.5 396.8,194.0 397.2,194.6 397.6,193.2 398.0,194.0 398.4,192.6 398.8,192.0 399.2,191.7 399.6,192.9 400.0,192.7 400.4,192.4 400.8,189.0 401.2,190.7 401.6,192.5 402.0,193.4 402.4,192.4 402.8,191.9 403.2,190.3 403.6,195.1 404.0,191.8 404.4,195.2 404.8,195.3 405.2,194.1 405.6,193.2 406.0,193.9 406.4,192.3 406.8,193.6 407.2,193.1 407.6,193.6 408.0,193.9 408.4,194.6 408.8,192.2 409.2,193.7 409.6,191.7 410.0,191.8 410.4,192.5 410.8,192.4 411.2,194.8 411.6,194.8 412.0,195.0 412.4,193.4 412.8,193.4 413.2,192.3 413.6,191.7 414.0,193.5 414.4,193.5 414.8,192.0 415.2,193.9 415.6,191.2 416.0,192.9 416.4,192.4 416.8,192.6 417.2,192.1 417.6,194.4 418.0,194.0 418.4,194.7 418.8,193.5 419.2,191.9 419.6,192.8 420.0,192.1 420.4,194.1 420.8,195.0 421.2,194.0 421.6,192.7 422.0,192.6 422.4,192.9 422.8,190.9 423.2,192.6 423.6,192.8 424.0,192.2 424.4,192.4 424.8,193.1 425.2,192.0 425.6,192.0 426.0,193.7 426.4,193.2 426.8,194.8 427.2,191.7 427.6,190.8 428.0,193.8 428.4,193.9 428.8,192.2 429.2,191.5 429.6,193.0 430.0,191.1 430.4,192.6 430.8,190.6 431.2,192.6 431.6,190.5 432.0,192.5 432.4,194.4 432.8,192.5 433.2,193.8 433.6,192.3 434.0,191.9 434.4,191.0 434.8,193.4 435.2,191.8 435.6,193.5 436.0,190.4 436.4,191.6 436.8,192.3 437.2,194.1 437.6,194.8 438.0,192.2 438.4,191.5 438.8,190.6 439.2,193.7 439.6,191.9 440.0,191.1 440.4,191.7 440.8,188.9 441.2,189.8 441.6,192.8 442.0,192.3 442.4,192.1 442.8,190.9 443.2,192.4 443.6,193.3 444.0,189.5 444.4,190.5 444.8,189.9 445.2,190.8 445.6,190.4 446.0,190.2 446.4,189.3 446.8,190.3 447.2,189.7 447.6,190.2 448.0,190.2 448.4,190.8 448.8,189.1 449.2,188.9 449.6,189.9 450.0,188.0 450.4,187.3 450.8,187.8 451.2,186.3 451.6,185.2 452.0,184.3 452.4,181.5 452.8,181.9 453.2,180.9 453.6,177.5 454.0,171.9 454.4,169.7 454.8,163.0 455.2,157.2 455.6,149.8 456.0,139.3 456.4,131.8 456.8,119.0 457.2,108.1 457.6,96.0 458.0,85.5 458.4,75.8 458.8,66.4 459.2,65.9 459.6,65.8 460.0,74.1 460.4,84.9 460.8,96.3 461.2,108.6 461.6,118.5 462.0,130.3 462.4,140.1 462.8,150.3 463.2,158.3 463.6,162.7 464.0,172.7 464.4,173.1 464.8,176.4 465.2,180.1 465.6,182.3 466.0,183.5 466.4,183.4 466.8,186.8 467.2,186.3 467.6,188.9 468.0,189.5 468.4,187.1 468.8,187.9 469.2,188.3 469.6,190.1 470.0,190.3 470.4,191.0 470.8,190.3 471.2,192.0 471.6,193.4 472.0,190.7 472.4,192.1 472.8,192.7 473.2,192.4 473.6,192.3 474.0,194.6 474.4,194.3 474.8,194.2 475.2,192.6 475.6,196.0 476.0,193.8 476.4,192.6 476.8,192.8 477.2,192.8 477.6,195.8 478.0,193.7 478.4,193.5 478.8,191.0 479.2,194.1 479.6,192.3 480.0,192.5 480.4,194.7 480.8,193.3 481.2,195.3 481.6,195.7 482.0,192.5 482.4,194.3 482.8,192.8 483.2,194.6 483.6,196.0 484.0,193.7 484.4,197.3 484.8,194.6 485.2,193.2 485.6,194.0 486.0,194.7 486.4,192.3 486.8,193.9 487.2,192.5 487.6,195.6 488.0,194.7 488.4,194.3 488.8,196.1 489.2,193.5 489.6,194.3 490.0,196.5 490.4,194.0 490.8,195.4 491.2,194.1 491.6,193.3 492.0,194.2 492.4,194.9 492.8,194.6 493.2,194.1 493.6,194.1 494.0,193.2 494.4,194.9 494.8,195.4 495.2,195.9 495.6,193.4 496.0,196.4 496.4,195.6 496.8,194.0 497.2,195.5 497.6,196.2 498.0,195.7 498.4,195.7 498.8,195.7 499.2,195.5 499.6,194.5 500.0,192.4 500.4,194.0 500.8,195.4 501.2,194.6 501.6,195.8 502.0,195.8 502.4,194.8 502.8,196.7 503.2,193.5 503.6,195.6 504.0,194.1 504.4,193.8 504.8,195.3 505.2,194.2 505.6,196.0 506.0,194.1 506.4,195.7 506.8,195.0 507.2,195.8 507.6,195.7 508.0,194.9 508.4,196.7 508.8,194.4 509.2,194.4 509.6,196.3 510.0,196.3 510.4,196.2 510.8,196.1 511.2,198.5 511.6,194.9 512.0,195.4 512.4,195.2 512.8,197.3 513.2,196.5 513.6,197.3 514.0,196.9 514.4,195.5 514.8,194.6 515.2,194.3 515.6,197.8 516.0,196.4 516.4,195.9 516.8,194.7 517.2,194.9 517.6,194.7 518.0,194.7 518.4,192.5 518.8,195.2 519.2,195.2 519.6,196.1 520.0,196.2 520.4,197.0 520.8,195.9 521.2,196.6 521.6,192.9 522.0,194.6 522.4,197.8 522.8,194.7 523.2,195.9 523.6,197.0 524.0,195.3 524.4,197.1 524.8,194.8 525.2,194.4 525.6,195.1 526.0,194.7 526.4,196.5 526.8,196.0 527.2,196.5 527.6,194.9 528.0,198.8 528.4,196.0 528.8,196.1 529.2,196.6 529.6,195.6 530.0,195.0 530.4,195.6 530.8,196.5 531.2,196.2 531.6,196.6 532.0,195.0 532.4,194.8 532.8,197.8 533.2,195.2 533.6,195.9 534.0,196.0 534.4,196.7 534.8,193.7 535.2,194.8 535.6,195.0 536.0,195.3 536.4,193.1 536.8,195.6 537.2,192.3 537.6,195.8 538.0,196.0 538.4,196.1 538.8,194.2 539.2,196.7 539.6,194.7 540.0,194.4 540.4,194.9 540.8,195.2 541.2,196.5 541.6,197.2 542.0,194.0 542.4,195.8 542.8,197.7 543.2,197.2 543.6,197.7 544.0,195.5 544.4,198.0 544.8,195.0 545.2,196.8 545.6,198.0 546.0,198.5 546.4,196.9 546.8,197.1 547.2,195.3 547.6,195.4 548.0,197.3 548.4,196.1 548.8,196.0 549.2,194.5 549.6,196.2 550.0,196.7 550.4,195.2 550.8,195.6 551.2,197.9 551.6,196.4 552.0,195.9 552.4,195.0 552.8,195.6 553.2,196.0 553.6,197.7 554.0,195.5 554.4,198.1 554.8,195.0 555.2,195.5 555.6,196.8 556.0,195.7 556.4,195.2 556.8,196.2 557.2,197.0 557.6,194.7 558.0,196.3 558.4,196.4 558.8,196.0 559.2,197.4 559.6,196.1 560.0,196.5 560.4,197.1 560.8,197.8 561.2,196.8 561.6,198.7 562.0,196.2 562.4,198.7 562.8,196.4 563.2,197.3 563.6,197.9 564.0,199.7 564.4,198.3 564.8,196.6 565.2,198.2 565.6,196.4 566.0,195.8 566.4,197.2 566.8,197.1 567.2,198.3 567.6,196.9 568.0,198.1 568.4,198.4 568.8,197.8 569.2,197.1 569.6,196.1 570.0,197.6 570.4,196.7 570.8,197.3 571.2,196.7 571.6,197.4 572.0,196.5 572.4,197.7 572.8,198.2 573.2,197.3 573.6,197.9 574.0,197.3 574.4,198.4 574.8,196.8 575.2,195.2 575.6,197.5 576.0,196.7 576.4,195.6 576.8,197.2 577.2,196.6 577.6,196.9 578.0,196.2 578.4,197.0 578.8,197.3 579.2,199.0 579.6,196.3 580.0,196.9 580.4,197.1 580.8,194.9 581.2,195.2 581.6,199.6 582.0,195.3 582.4,197.8 582.8,196.0 583.2,195.9 583.6,194.6 584.0,196.0 584.4,198.2 584.8,196.1 585.2,198.5 585.6,198.3 586.0,200.0 586.4,197.0 586.8,198.6 587.2,198.0 587.6,196.7 588.0,195.5 588.4,199.3 588.8,196.4 589.2,197.4 589.6,198.7 590.0,198.6 590.4,196.3 590.8,197.1 591.2,197.0 591.6,198.8 592.0,200.5 592.4,195.8 592.8,198.8 593.2,194.6 593.6,197.8 594.0,196.7 594.4,200.3 594.8,198.5 595.2,197.6 595.6,198.0 596.0,197.9 596.4,198.7 596.8,198.2 597.2,199.0 597.6,199.7 598.0,198.5 598.4,196.2 598.8,195.6 599.2,196.5 599.6,198.3 600.0,196.7 600.4,196.2 600.8,197.0 601.2,195.4 601.6,196.0 602.0,198.1 602.4,197.5 602.8,197.4 603.2,198.2 603.6,197.0 604.0,196.7 604.4,196.8 604.8,197.8 605.2,197.0 605.6,195.4 606.0,196.3 606.4,197.3 606.8,198.6 607.2,195.3 607.6,196.9 608.0,196.3 608.4,197.6 608.8,197.5 609.2,198.9 609.6,198.1 610.0,197.1 610.4,197.2 610.8,198.2 611.2,198.1 611.6,200.3 612.0,199.6 612.4,196.5 612.8,198.2 613.2,196.4 613.6,196.0 614.0,198.6 614.4,198.4 614.8,196.6 615.2,199.5 615.6,196.5 616.0,196.3 616.4,198.2 616.8,197.7 617.2,197.3 617.6,197.5 618.0,197.9 618.4,197.5 618.8,197.2 619.2,195.0 619.6,195.2 620.0,197.2 620.4,196.0 620.8,197.6 621.2,198.7 621.6,197.0 622.0,197.7 622.4,199.6 622.8,198.1 623.2,199.5 623.6,199.4 624.0,198.6 624.4,197.6 624.8,196.6 625.2,196.2 625.6,198.0 626.0,197.9 626.4,197.2 626.8,198.3 627.2,196.6 627.6,198.4 628.0,197.2 628.4,197.1 628.8,197.1 629.2,196.8 629.6,199.4 630.0,194.5 630.4,196.0 630.8,196.7 631.2,195.8 631.6,194.4 632.0,196.3 632.4,192.8 632.8,192.1 633.2,193.7 633.6,191.0 634.0,189.6 634.4,192.8 634.8,192.2 635.2,191.8 635.6,190.3 636.0,191.0 636.4,190.0 636.8,193.4 637.2,192.9 637.6,193.3 638.0,190.8 638.4,194.3 638.8,195.4 639.2,195.5 639.6,195.4 640.0,194.9 640.4,194.9 640.8,196.1 641.2,196.0 641.6,195.7 642.0,195.0 642.4,197.1 642.8,194.0 643.2,195.3 643.6,194.7 644.0,196.5 644.4,196.9 644.8,196.7 645.2,196.1 645.6,193.7 646.0,197.5 646.4,195.6 646.8,194.7 647.2,194.4 647.6,193.6 648.0,194.0 648.4,193.3 648.8,191.9 649.2,188.8 649.6,190.8 650.0,190.6 650.4,189.7 650.8,187.9 651.2,187.3 651.6,186.5 652.0,183.3 652.4,183.7 652.8,178.0 653.2,176.9 653.6,175.5 654.0,172.1 654.4,172.2 654.8,173.6 655.2,172.9 655.6,171.4 656.0,173.4 656.4,172.2 656.8,172.0 657.2,173.6 657.6,174.1 658.0,175.9 658.4,174.2 658.8,177.5 659.2,176.1 659.6,177.6 660.0,174.7 660.4,175.7 660.8,175.9 661.2,176.7 661.6,174.4 662.0,178.0 662.4,177.4 662.8,177.1 663.2,179.8 663.6,179.3 664.0,181.3 664.4,183.6 664.8,183.2 665.2,183.2 665.6,185.0 666.0,187.8 666.4,188.9 666.8,188.9 667.2,190.2 667.6,192.6 668.0,195.2 668.4,190.3 668.8,194.4 669.2,193.5 669.6,194.6 670.0,194.8 670.4,194.0 670.8,193.1 671.2,192.9 671.6,192.8 672.0,196.5 672.4,195.4 672.8,195.3 673.2,195.8 673.6,194.7 674.0,196.6 674.4,197.8 674.8,197.7 675.2,194.7 675.6,198.0 676.0,195.6 676.4,194.4 676.8,195.3 677.2,195.7 677.6,196.8 678.0,195.5 678.4,194.8 678.8,196.0 679.2,198.4 679.6,195.6 680.0,196.9 680.4,196.3 680.8,198.9 681.2,193.7 681.6,196.9 682.0,194.5 682.4,195.7 682.8,196.7 683.2,200.7 683.6,196.5 684.0,195.3 684.4,198.5 684.8,195.8 685.2,196.1 685.6,196.2 686.0,196.3 686.4,196.1 686.8,196.8 687.2,197.2 687.6,197.8 688.0,196.3 688.4,196.0 688.8,195.6 689.2,197.5 689.6,196.9 690.0,197.5 690.4,197.4 690.8,198.5 691.2,196.7 691.6,197.1 692.0,194.9 692.4,195.2 692.8,196.2 693.2,195.3 693.6,197.5 694.0,195.2 694.4,196.6 694.8,193.7 695.2,195.0 695.6,195.6 696.0,195.4 696.4,193.4 696.8,195.2 697.2,195.9 697.6,195.3 698.0,193.8 698.4,193.9 698.8,193.2 699.2,195.0 699.6,195.6 700.0,193.0 700.4,191.2 700.8,192.9 701.2,193.2 701.6,189.3 702.0,192.6 702.4,195.2 702.8,194.1 703.2,194.3 703.6,194.7 704.0,195.9 704.4,194.2 704.8,194.6 705.2,196.2 705.6,195.1 706.0,196.1 706.4,193.7 706.8,196.6 707.2,196.8 707.6,196.1 708.0,196.3 708.4,198.0 708.8,195.0 709.2,195.3 709.6,195.1 710.0,196.0 710.4,195.5 710.8,196.8 711.2,196.1 711.6,195.3 712.0,195.2 712.4,198.3 712.8,196.9 713.2,196.7 713.6,196.8 714.0,196.3 714.4,197.0 714.8,196.6 715.2,195.3 715.6,195.0 716.0,194.8 716.4,194.8 716.8,198.0 717.2,195.7 717.6,194.7 718.0,196.2 718.4,196.3 718.8,197.5 719.2,196.2 719.6,197.8 720.0,197.6 720.4,198.8 720.8,199.9 721.2,200.7 721.6,198.8 722.0,195.6 722.4,196.0 722.8,196.4 723.2,198.2 723.6,196.7 724.0,197.3 724.4,195.8 724.8,196.4 725.2,196.5 725.6,195.1 726.0,196.5 726.4,196.9 726.8,195.7 727.2,197.0 727.6,197.7 728.0,196.1 728.4,196.1 728.8,195.8 729.2,195.5 729.6,196.1 730.0,195.1 730.4,194.9 730.8,194.2 731.2,193.2 731.6,193.8 732.0,195.1 732.4,193.3 732.8,193.7 733.2,195.9 733.6,194.8 734.0,192.0 734.4,192.3 734.8,189.5 735.2,190.3 735.6,185.9 736.0,184.6 736.4,184.0 736.8,179.8 737.2,180.6 737.6,177.0 738.0,177.5 738.4,176.9 738.8,177.8 739.2,179.2 739.6,180.6 740.0,181.4 740.4,185.2 740.8,186.8 741.2,189.1 741.6,190.8 742.0,189.2 742.4,193.3 742.8,194.3 743.2,193.0 743.6,195.3 744.0,196.0 744.4,194.0 744.8,193.1 745.2,194.3 745.6,197.9 746.0,195.3 746.4,194.1 746.8,195.5 747.2,195.0 747.6,195.8 748.0,196.3 748.4,193.3 748.8,196.3 749.2,197.3 749.6,195.5 750.0,195.3 750.4,196.9 750.8,194.3 751.2,194.4 751.6,194.4 752.0,196.0 752.4,196.9 752.8,196.5 753.2,197.3 753.6,197.6 754.0,197.1 754.4,195.6 754.8,196.0 755.2,197.6 755.6,195.0 756.0,195.7 756.4,195.3 756.8,195.4 757.2,194.3 757.6,194.0 758.0,198.3 758.4,196.6 758.8,194.8 759.2,195.5 759.6,196.2 760.0,195.0 760.4,196.0 760.8,194.7 761.2,195.1 761.6,195.4 762.0,194.8 762.4,192.3 762.8,194.7 763.2,194.6 763.6,194.4 764.0,192.4 764.4,193.5 764.8,192.8 765.2,190.1 765.6,189.1 766.0,191.6 766.4,189.5 766.8,191.0 767.2,191.3 767.6,187.3 768.0,186.0 768.4,185.7 768.8,185.5 769.2,182.7 769.6,184.7 770.0,183.8 770.4,182.8 770.8,180.8 771.2,181.6 771.6,180.7 772.0,177.7 772.4,180.8 772.8,177.9 773.2,178.6 773.6,177.6 774.0,178.7 774.4,179.5 774.8,177.2 775.2,176.1 775.6,177.1 776.0,175.7 776.4,175.6 776.8,175.5 777.2,174.7 777.6,175.5 778.0,172.6 778.4,173.9 778.8,172.9 779.2,175.1 779.6,176.5 780.0,174.4 780.4,176.4 780.8,174.7 781.2,174.4 781.6,175.7 782.0,176.4 782.4,178.1 782.8,179.9 783.2,182.3 783.6,182.6 784.0,183.3 784.4,183.3 784.8,184.1 785.2,186.0 785.6,187.3 786.0,188.3 786.4,189.3 786.8,189.4 787.2,188.0 787.6,189.5 788.0,190.4 788.4,193.8 788.8,192.1 789.2,193.9 789.6,195.3 790.0,194.5 790.4,193.9 790.8,194.0 791.2,193.2 791.6,194.7 792.0,195.7 792.4,195.3 792.8,195.7 793.2,195.9 793.6,197.4 794.0,194.6 794.4,195.5 794.8,196.2 795.2,197.0 795.6,193.2 796.0,195.6 796.4,196.2 796.8,195.4 797.2,197.4 797.6,196.5 798.0,195.6 798.4,194.1 798.8,194.3 799.2,194.7 799.6,196.3 800.0,194.5 800.4,193.5 800.8,194.1 801.2,194.9 801.6,197.3 802.0,198.0 802.4,194.6 802.8,196.1 803.2,196.6 803.6,196.3 804.0,194.5 804.4,192.8 804.8,193.2 805.2,191.1 805.6,192.9 806.0,193.2 806.4,190.0 806.8,192.0 807.2,192.4 807.6,193.8 808.0,194.3 808.4,194.1 808.8,192.9 809.2,193.7 809.6,195.9 810.0,194.4 810.4,195.6 810.8,197.8 811.2,196.6 811.6,195.3 812.0,196.8 812.4,198.1 812.8,197.4 813.2,199.2 813.6,199.5 814.0,197.3 814.4,197.2 814.8,197.2 815.2,195.6 815.6,197.0 816.0,196.3 816.4,197.6 816.8,196.3 817.2,196.1 817.6,199.1 818.0,196.0 818.4,196.4 818.8,196.3 819.2,197.1 819.6,196.8 820.0,198.1 820.4,197.5 820.8,197.8 821.2,198.4 821.6,198.5 822.0,197.9 822.4,196.4 822.8,197.5 823.2,197.1 823.6,197.4 824.0,195.8 824.4,198.6 824.8,197.9 825.2,200.1 825.6,199.1 826.0,197.3 826.4,197.0 826.8,199.5 827.2,196.9 827.6,198.4 828.0,197.2 828.4,200.0 828.8,198.1 829.2,200.0 829.6,200.1 830.0,198.2 830.4,198.3 830.8,200.1 831.2,198.2 831.6,197.0 832.0,199.1 832.4,200.5 832.8,197.6 833.2,199.2 833.6,197.4 834.0,199.0 834.4,197.1 834.8,198.9 835.2,198.2 835.6,197.8 836.0,198.7 836.4,198.1 836.8,197.5 837.2,197.4 837.6,198.5 838.0,197.5 838.4,199.3 838.8,199.6 839.2,199.5 839.6,198.3 840.0,198.7 840.4,198.6 840.8,200.2 841.2,198.1 841.6,198.7 842.0,199.0 842.4,199.1 842.8,198.5 843.2,198.8 843.6,200.6 844.0,198.6 844.4,200.2 844.8,201.3 845.2,200.6 845.6,197.4 846.0,200.4 846.4,200.1 846.8,200.0 847.2,197.4 847.6,199.9 848.0,197.7 848.4,200.3 848.8,200.1 849.2,201.8 849.6,198.6 850.0,197.4 850.4,200.1 850.8,199.8 851.2,198.4 851.6,200.3 852.0,199.7 852.4,197.5 852.8,198.6 853.2,198.5 853.6,198.9 854.0,199.4 854.4,198.7 854.8,199.4 855.2,200.4 855.6,199.5 856.0,199.2 856.4,198.9 856.8,198.9 857.2,196.8 857.6,198.9 858.0,197.7 858.4,198.9 858.8,197.2 859.2,199.8 859.6,199.0 860.0,197.2 860.4,199.0 860.8,198.0 861.2,200.9 861.6,199.5 862.0,198.2 862.4,199.5 862.8,199.2 863.2,200.4 863.6,199.3 864.0,199.3 864.4,197.5 864.8,199.7 865.2,201.2 865.6,199.6 866.0,198.8 866.4,199.1 866.8,197.9 867.2,199.1 867.6,197.6 868.0,198.7 868.4,198.1 868.8,197.6 869.2,199.4 869.6,197.4 870.0,199.2 870.4,197.8 870.8,201.2 871.2,201.2 871.6,199.8 872.0,200.8 872.4,199.3 872.8,199.2 873.2,197.9 873.6,197.3 874.0,198.4 874.4,197.9 874.8,198.2 875.2,199.7 875.6,199.0 876.0,197.6 876.4,199.2 876.8,198.7 877.2,199.3 877.6,198.4 878.0,200.8 878.4,201.3 878.8,197.7 879.2,199.4 879.6,199.2 880.0,197.4 880.4,198.9 880.8,200.5 881.2,200.0 881.6,201.0 882.0,198.0 882.4,198.5 882.8,199.6 883.2,199.6 883.6,199.2 884.0,198.7 884.4,198.6 884.8,198.3 885.2,199.6 885.6,196.2 886.0,201.2 886.4,199.1 886.8,198.1 887.2,200.1 887.6,197.6 888.0,199.3 888.4,198.1 888.8,199.1 889.2,199.2 889.6,199.8 890.0,197.9 890.4,198.1 890.8,198.6 891.2,197.4 891.6,199.9 892.0,199.7 892.4,198.2 892.8,201.0 893.2,200.9 893.6,197.7 894.0,199.6 894.4,200.1 894.8,199.5 895.2,197.6 895.6,197.3 896.0,198.9 896.4,198.6 896.8,199.2 897.2,199.2 897.6,199.8 898.0,198.6 898.4,199.0 898.8,202.4 899.2,199.0 899.6,200.0 900.0,199.6 900.4,199.6 900.8,198.6 901.2,200.4 901.6,199.9 902.0,200.9 902.4,202.1 902.8,199.9 903.2,200.4 903.6,198.5 904.0,199.9 904.4,201.7 904.8,200.0 905.2,199.4 905.6,200.3 906.0,199.7 906.4,199.6 906.8,199.4 907.2,201.9 907.6,198.7 908.0,199.2 908.4,199.0 908.8,200.9 909.2,199.1 909.6,200.7 910.0,199.3 910.4,199.1 910.8,197.6 911.2,200.7 911.6,200.2 912.0,200.1 912.4,199.5 912.8,199.0 913.2,197.8 913.6,200.2 914.0,199.5 914.4,199.0 914.8,198.9 915.2,199.7 915.6,199.4 916.0,201.0 916.4,199.8 916.8,198.2 917.2,197.7 917.6,198.9 918.0,198.2 918.4,199.2 918.8,199.4 919.2,199.3 919.6,199.0 920.0,198.3 920.4,199.1 920.8,197.5 921.2,198.4 921.6,199.4 922.0,198.9 922.4,197.3 922.8,197.6 923.2,197.2 923.6,201.1 924.0,197.3 924.4,198.9 924.8,201.0 925.2,200.2 925.6,200.5 926.0,198.5 926.4,199.8 926.8,202.3 927.2,198.8 927.6,199.4 928.0,198.7 928.4,199.1 928.8,199.7 929.2,200.8 929.6,198.2 930.0,197.6 930.4,199.1 930.8,199.3 931.2,200.8 931.6,200.4 932.0,199.1 932.4,200.6 932.8,201.2 933.2,200.1 933.6,199.1 934.0,200.1 934.4,198.9 934.8,197.4 935.2,200.9 935.6,198.0 936.0,199.0 936.4,199.0 936.8,198.9 937.2,199.0 937.6,197.8 938.0,200.1 938.4,199.6 938.8,199.6 939.2,200.7 939.6,200.7 940.0,201.0 940.4,201.7 940.8,200.3 941.2,198.3 941.6,200.4 942.0,200.3 942.4,200.4 942.8,199.7 943.2,199.3 943.6,201.0 944.0,200.9 944.4,198.3 944.8,199.8 945.2,198.8 945.6,198.5 946.0,199.8 946.4,199.3 946.8,199.1 947.2,199.9 947.6,197.6 948.0,198.9 948.4,198.7 948.8,197.4 949.2,198.9 949.6,199.0 950.0,198.2 950.4,198.9 950.8,200.1 951.2,200.6 951.6,198.7 952.0,199.8 952.4,200.6 952.8,199.4 953.2,198.8 953.6,199.0 954.0,199.6 954.4,198.8 954.8,201.9 955.2,198.7 955.6,199.5 956.0,199.1 956.4,199.7 956.8,198.7 957.2,197.8 957.6,201.0 958.0,199.2 958.4,199.4 958.8,199.5 959.2,200.6 959.6,199.9 960.0,200.3 960.4,199.9 960.8,199.1 961.2,199.2 961.6,198.2 962.0,196.9 962.4,198.9 962.8,198.2 963.2,202.6 963.6,201.7 964.0,201.5 964.4,199.7 964.8,202.6 965.2,198.2 965.6,198.5 966.0,198.7 966.4,198.3 966.8,199.2 967.2,199.2 967.6,201.0 968.0,200.0 968.4,200.2 968.8,199.3 969.2,198.6 969.6,197.9 970.0,197.0 970.4,197.8 970.8,198.7 971.2,200.4 971.6,198.0 972.0,198.6 972.4,200.5 972.8,199.1 973.2,200.5 973.6,199.5 974.0,199.0 974.4,198.2 974.8,199.4 975.2,198.7 975.6,198.7 976.0,198.5 976.4,199.3 976.8,199.2 977.2,197.2 977.6,199.0 978.0,199.8 978.4,200.7 978.8,200.6 979.2,200.1 979.6,198.5 980.0,198.8 980.4,200.4 980.8,198.5 981.2,200.3 981.6,200.6 982.0,198.1 982.4,199.9 982.8,199.5 983.2,202.0 983.6,200.8 984.0,199.3 984.4,200.3 984.8,198.9 985.2,199.7 985.6,200.1 986.0,200.1 986.4,200.2 986.8,198.7 987.2,197.5 987.6,199.1 988.0,198.7 988.4,199.2 988.8,202.5 989.2,201.5 989.6,199.9 990.0,198.2 990.4,198.0 990.8,199.6 991.2,200.3 991.6,198.8 992.0,199.5 992.4,199.9 992.8,201.1 993.2,198.0 993.6,200.3 994.0,200.5 994.4,201.0 994.8,200.2 995.2,198.4 995.6,198.9 996.0,197.8 996.4,199.7 996.8,199.8 997.2,200.2 997.6,198.6 998.0,198.6 998.4,201.7 998.8,200.3 999.2,201.9 999.6,200.2 1000.0,197.9 1000.4,200.2 1000.8,200.7 1001.2,198.9 1001.6,197.3 1002.0,200.2 1002.4,199.3 1002.8,199.7 1003.2,196.4 1003.6,199.9 1004.0,196.5 1004.4,198.6 1004.8,200.5 1005.2,197.4 1005.6,197.3 1006.0,198.8 1006.4,201.2 1006.8,201.3 1007.2,198.9 1007.6,200.7 1008.0,200.1 1008.4,199.5 1008.8,199.4 1009.2,198.0 1009.6,199.7 1010.0,200.2 1010.4,202.2 1010.8,200.4 1011.2,196.9 1011.6,198.3 1012.0,200.0 1012.4,199.7 1012.8,197.5 1013.2,199.3 1013.6,198.8 1014.0,199.0 1014.4,198.7 1014.8,199.9 1015.2,200.7 1015.6,199.9 1016.0,198.0 1016.4,198.3 1016.8,198.4 1017.2,199.0 1017.6,198.5 1018.0,198.7 1018.4,198.0 1018.8,200.0 1019.2,199.8 1019.6,199.8 1020.0,198.7 1020.4,199.4 1020.8,198.1 1021.2,198.2 1021.6,199.0 1022.0,200.3 1022.4,199.5 1022.8,198.3 1023.2,199.5 1023.6,199.7 1024.0,199.3 1024.4,198.4 1024.8,199.2 1025.2,198.8 1025.6,198.9 1026.0,199.1 1026.4,199.9 1026.8,201.1 1027.2,200.8 1027.6,199.9 1028.0,198.8 1028.4,198.8 1028.8,198.7 1029.2,200.0 1029.6,195.6 1030.0,198.8 1030.4,196.3 1030.8,198.5 1031.2,199.8 1031.6,197.2 1032.0,195.5 1032.4,199.1 1032.8,198.9 1033.2,197.3 1033.6,197.5 1034.0,194.8 1034.4,196.7 1034.8,197.1 1035.2,195.7 1035.6,194.9 1036.0,195.6 1036.4,194.9 1036.8,192.6 1037.2,194.9 1037.6,194.6 1038.0,194.4 1038.4,196.2 1038.8,196.1 1039.2,196.2 1039.6,194.9 1040.0,196.6 1040.4,194.8 1040.8,196.4 1041.2,195.1 1041.6,195.5 1042.0,198.0 1042.4,197.5 1042.8,197.6 1043.2,198.2 1043.6,198.0 1044.0,196.9 1044.4,198.3 1044.8,198.5 1045.2,198.3 1045.6,199.0 1046.0,198.8 1046.4,198.4 1046.8,198.6 1047.2,199.2 1047.6,201.3 1048.0,198.2 1048.4,199.9 1048.8,197.9 1049.2,201.5 1049.6,199.6 1050.0,200.2 1050.4,201.5 1050.8,201.0 1051.2,198.0 1051.6,200.0 1052.0,199.0 1052.4,200.0 1052.8,199.7 1053.2,200.4 1053.6,200.0 1054.0,199.5 1054.4,200.8 1054.8,197.7 1055.2,198.9 1055.6,198.3 1056.0,199.4 1056.4,199.1 1056.8,199.5 1057.2,199.1 1057.6,199.2 1058.0,198.0 1058.4,199.9 1058.8,200.4 1059.2,199.4 1059.6,199.2 1060.0,199.1 1060.4,201.6 1060.8,200.1 1061.2,200.4 1061.6,199.6 1062.0,199.2 1062.4,198.7 1062.8,201.3 1063.2,197.9 1063.6,200.3 1064.0,200.3 1064.4,200.2 1064.8,198.8 1065.2,199.1 1065.6,201.4 1066.0,199.5 1066.4,201.2 1066.8,201.1 1067.2,201.1 1067.6,201.4 1068.0,199.2 1068.4,199.9 1068.8,201.1 1069.2,198.7 1069.6,201.8 1070.0,199.2 1070.4,199.6 1070.8,198.6 1071.2,200.4 1071.6,199.4 1072.0,200.1 1072.4,199.3 1072.8,202.0 1073.2,199.0 1073.6,201.3 1074.0,201.0 1074.4,201.1 1074.8,199.3 1075.2,201.5 1075.6,201.3 1076.0,200.5 1076.4,200.6 1076.8,200.0 1077.2,200.7 1077.6,198.8 1078.0,200.1 1078.4,199.8 1078.8,197.6 1079.2,196.2 1079.6,198.9 1080.0,198.8 1080.4,200.5 1080.8,199.5 1081.2,199.2 1081.6,198.5 1082.0,200.2 1082.4,199.7 1082.8,199.0 1083.2,199.9 1083.6,200.9 1084.0,199.6 1084.4,198.2 1084.8,199.7 1085.2,198.3 1085.6,198.0 1086.0,200.5 1086.4,199.4 1086.8,201.2 1087.2,200.3 1087.6,199.0 1088.0,200.1 1088.4,201.4 1088.8,199.9 1089.2,199.1 1089.6,199.8 1090.0,199.7 1090.4,199.2 1090.8,198.9 1091.2,200.7 1091.6,201.4 1092.0,200.0 1092.4,201.6 1092.8,202.1 1093.2,202.9 1093.6,200.7 1094.0,200.3 1094.4,200.8 1094.8,200.3 1095.2,200.5 1095.6,201.6 1096.0,199.6 1096.4,200.2 1096.8,198.7 1097.2,199.5 1097.6,198.9 1098.0,198.7 1098.4,199.2 1098.8,198.9 1099.2,200.0 1099.6,200.8 1100.0,198.6 1100.4,201.6 1100.8,198.1 1101.2,200.8 1101.6,201.2 1102.0,199.6 1102.4,200.0 1102.8,199.3 1103.2,201.1 1103.6,196.6 1104.0,199.1 1104.4,198.1 1104.8,200.4 1105.2,201.5 1105.6,201.4 1106.0,200.8 1106.4,200.2 1106.8,198.9 1107.2,201.0 1107.6,200.3 1108.0,198.6 1108.4,198.1 1108.8,198.8 1109.2,200.6 1109.6,200.8 1110.0,201.2 1110.4,198.8 1110.8,199.4 1111.2,201.4 1111.6,200.2 1112.0,200.9 1112.4,198.6 1112.8,199.8 1113.2,200.4 1113.6,200.2 1114.0,200.2 1114.4,198.9 1114.8,202.2 1115.2,200.4 1115.6,198.5 1116.0,201.2 1116.4,200.2 1116.8,201.0 1117.2,200.0 1117.6,199.3 1118.0,199.2 1118.4,200.3 1118.8,200.6 1119.2,200.1 1119.6,200.0 1120.0,200.4 1120.4,199.3 1120.8,200.1 1121.2,200.4 1121.6,199.8 1122.0,199.6 1122.4,199.3 1122.8,198.6 1123.2,198.3 1123.6,201.5 1124.0,200.0 1124.4,199.4 1124.8,201.7 1125.2,201.1 1125.6,200.1 1126.0,201.3 1126.4,200.2 1126.8,201.1 1127.2,202.9 1127.6,202.1 1128.0,200.6 1128.4,201.6 1128.8,201.9 1129.2,200.4 1129.6,199.9 1130.0,202.3 1130.4,199.9 1130.8,198.8 1131.2,200.5 1131.6,202.9 1132.0,201.0 1132.4,201.1 1132.8,197.5 1133.2,199.1 1133.6,201.0 1134.0,199.3 1134.4,201.3 1134.8,200.4 1135.2,200.4 1135.6,201.9 1136.0,199.6 1136.4,199.7 1136.8,200.3 1137.2,200.5 1137.6,198.3 1138.0,201.5 1138.4,200.5 1138.8,200.0 1139.2,200.8 1139.6,199.5 1140.0,201.2 1140.4,199.8 1140.8,200.4 1141.2,198.7 1141.6,199.3 1142.0,200.0 1142.4,198.6 1142.8,199.0 1143.2,199.6 1143.6,200.8 1144.0,200.4 1144.4,200.6 1144.8,200.0 1145.2,200.9 1145.6,201.8 1146.0,200.4 1146.4,200.6 1146.8,200.7 1147.2,197.6 1147.6,199.4 1148.0,199.6 1148.4,199.6 1148.8,198.1 1149.2,199.4 1149.6,197.6 1150.0,198.2 1150.4,200.3 1150.8,197.0 1151.2,198.3 1151.6,198.0 1152.0,197.9 1152.4,197.1 1152.8,198.1 1153.2,195.8 1153.6,195.0 1154.0,196.5 1154.4,194.4 1154.8,196.0 1155.2,195.6 1155.6,194.6 1156.0,194.7 1156.4,194.6 1156.8,194.8 1157.2,193.2 1157.6,193.4 1158.0,191.8 1158.4,192.7 1158.8,190.5 1159.2,192.1 1159.6,191.2 1160.0,193.8 1160.4,192.9 1160.8,191.5 1161.2,192.9 1161.6,192.4 1162.0,190.9 1162.4,189.5 1162.8,193.4 1163.2,192.7 1163.6,190.4 1164.0,193.7 1164.4,194.5 1164.8,193.1 1165.2,195.0 1165.6,192.2 1166.0,193.9 1166.4,194.1 1166.8,194.8 1167.2,194.3 1167.6,194.0 1168.0,194.2 1168.4,192.8 1168.8,195.1 1169.2,193.1 1169.6,194.3 1170.0,193.4 1170.4,193.2 1170.8,194.2 1171.2,194.1 1171.6,195.2 1172.0,194.9 1172.4,193.1 1172.8,194.2 1173.2,193.8 1173.6,192.9 1174.0,192.8 1174.4,194.5 1174.8,193.6 1175.2,192.5 1175.6,193.7 1176.0,193.9 1176.4,193.9 1176.8,192.8 1177.2,193.9 1177.6,196.5 1178.0,194.4 1178.4,195.1 1178.8,198.3 1179.2,196.4 1179.6,196.0 1180.0,194.9 1180.4,197.7 1180.8,195.9 1181.2,197.3 1181.6,196.2 1182.0,195.1 1182.4,198.7 1182.8,197.0 1183.2,198.4 1183.6,198.3 1184.0,196.8 1184.4,197.7 1184.8,197.3 1185.2,199.0 1185.6,198.9 1186.0,198.6 1186.4,201.3 1186.8,200.3 1187.2,200.3 1187.6,198.8 1188.0,200.0 1188.4,197.9 1188.8,200.0 1189.2,198.6 1189.6,199.9 1190.0,199.5 1190.4,200.2 1190.8,200.3 1191.2,199.6 1191.6,199.4 1192.0,197.5 1192.4,196.9 1192.8,200.5 1193.2,199.9 1193.6,197.9 1194.0,201.9 1194.4,199.2 1194.8,200.6 1195.2,200.5 1195.6,200.0 1196.0,200.3 1196.4,197.8 1196.8,199.1 1197.2,198.9 1197.6,199.3 1198.0,199.0 1198.4,198.9 1198.8,199.0 1199.2,201.0 1199.6,199.3 1200.0,200.6 1200.4,200.3 1200.8,199.5 1201.2,199.8 1201.6,199.8 1202.0,198.4 1202.4,199.1 1202.8,200.5 1203.2,197.0 1203.6,197.6 1204.0,196.9 1204.4,199.8 1204.8,196.0 1205.2,197.4 1205.6,198.5 1206.0,196.7 1206.4,197.7 1206.8,197.2 1207.2,196.6 1207.6,197.8 1208.0,198.0 1208.4,196.5 1208.8,196.8 1209.2,197.3 1209.6,197.9 1210.0,195.5 1210.4,197.7 1210.8,196.4 1211.2,195.2 1211.6,196.5 1212.0,198.3 1212.4,198.3 1212.8,197.1 1213.2,200.3 1213.6,199.1 1214.0,198.6 1214.4,198.0 1214.8,198.9 1215.2,198.1 1215.6,199.8 1216.0,199.1 1216.4,199.7 1216.8,199.0 1217.2,198.0 1217.6,200.6 1218.0,199.2 1218.4,200.2 1218.8,200.2 1219.2,199.1 1219.6,200.8 1220.0,198.2 1220.4,201.5 1220.8,199.5 1221.2,201.5 1221.6,202.2 1222.0,200.0 1222.4,200.2 1222.8,202.1 1223.2,201.2 1223.6,201.1 1224.0,199.1 1224.4,199.3 1224.8,201.6 1225.2,202.5 1225.6,200.2 1226.0,200.0 1226.4,201.2 1226.8,201.4 1227.2,201.6 1227.6,200.6 1228.0,199.1 1228.4,202.9 1228.8,200.6 1229.2,202.3 1229.6,198.5 1230.0,201.0 1230.4,200.1 1230.8,199.6 1231.2,202.1 1231.6,202.6 1232.0,200.8 1232.4,202.3 1232.8,200.3 1233.2,200.5 1233.6,200.5 1234.0,199.9 1234.4,200.7 1234.8,198.6 1235.2,201.1 1235.6,201.2 1236.0,200.1 1236.4,199.2 1236.8,198.0 1237.2,200.6 1237.6,200.0 1238.0,200.9 1238.4,199.5 1238.8,200.6 1239.2,200.5 1239.6,200.5 1240.0,200.8 1240.4,200.7 1240.8,201.3 1241.2,199.2 1241.6,200.8 1242.0,200.1 1242.4,199.5 1242.8,198.8 1243.2,201.4 1243.6,200.0 1244.0,199.2 1244.4,200.2 1244.8,200.6 1245.2,200.5 1245.6,199.9 1246.0,201.6 1246.4,201.2 1246.8,201.0 1247.2,202.4 1247.6,200.1 1248.0,200.7 1248.4,202.1 1248.8,203.0 1249.2,202.7 1249.6,202.6 1250.0,199.1 1250.4,201.8 1250.8,201.5 1251.2,201.7 1251.6,200.3 1252.0,201.7 1252.4,202.2 1252.8,202.8 1253.2,201.1 1253.6,199.1 1254.0,200.5 1254.4,201.2 1254.8,201.2 1255.2,202.7 1255.6,200.5 1256.0,199.6 1256.4,199.9 1256.8,201.3 1257.2,199.6 1257.6,199.3 1258.0,199.4 1258.4,201.5 1258.8,200.4 1259.2,200.0 1259.6,201.5 1260.0,201.5 1260.4,199.8 1260.8,201.7 1261.2,201.0 1261.6,198.6 1262.0,199.8 1262.4,201.7 1262.8,202.1 1263.2,201.2 1263.6,200.1 1264.0,201.1 1264.4,198.7 1264.8,201.4 1265.2,201.0 1265.6,201.5 1266.0,200.9 1266.4,202.4 1266.8,198.6 1267.2,199.8 1267.6,201.1 1268.0,199.6 1268.4,202.1 1268.8,201.2 1269.2,200.2 1269.6,202.5 1270.0,201.3 1270.4,202.2 1270.8,200.9 1271.2,201.0 1271.6,202.4 1272.0,201.7 1272.4,200.6 1272.8,200.3 1273.2,201.9 1273.6,203.1 1274.0,200.3 1274.4,202.0 1274.8,198.1 1275.2,199.7 1275.6,201.9 1276.0,202.8 1276.4,201.2 1276.8,201.7 1277.2,201.4 1277.6,202.2 1278.0,200.0 1278.4,202.1 1278.8,201.1 1279.2,201.5 1279.6,201.9 1280.0,201.6 1280.4,200.8 1280.8,201.2 1281.2,200.2 1281.6,202.7 1282.0,201.6 1282.4,200.1 1282.8,202.1 1283.2,201.8 1283.6,201.1 1284.0,200.4 1284.4,201.5 1284.8,202.0 1285.2,202.9 1285.6,201.1 1286.0,200.5 1286.4,203.5 1286.8,202.7 1287.2,201.8 1287.6,200.8 1288.0,202.5 1288.4,203.2 1288.8,202.5 1289.2,202.2 1289.6,201.0 1290.0,202.0 1290.4,200.0 1290.8,200.1 1291.2,200.1 1291.6,199.9 1292.0,202.7 1292.4,198.7 1292.8,200.9 1293.2,199.5 1293.6,199.2 1294.0,200.5 1294.4,198.7 1294.8,200.4 1295.2,203.3 1295.6,201.0 1296.0,201.8 1296.4,200.3 1296.8,201.6 1297.2,199.3 1297.6,201.1 1298.0,200.8 1298.4,203.4 1298.8,201.0 1299.2,200.7 1299.6,200.5 1300.0,199.6 1300.4,201.7 1300.8,202.4 1301.2,200.2 1301.6,201.3 1302.0,200.1 1302.4,201.0 1302.8,201.2 1303.2,199.2 1303.6,200.0 1304.0,202.0 1304.4,198.8 1304.8,200.9 1305.2,200.5 1305.6,200.0 1306.0,201.1 1306.4,201.6 1306.8,201.9 1307.2,198.5 1307.6,203.2 1308.0,200.7 1308.4,202.4 1308.8,201.1 1309.2,200.7 1309.6,201.4 1310.0,205.0 1310.4,203.2 1310.8,201.1 1311.2,201.6 1311.6,202.5 1312.0,201.9 1312.4,201.4 1312.8,201.1 1313.2,200.1 1313.6,202.1 1314.0,202.4 1314.4,203.6 1314.8,200.5 1315.2,201.7 1315.6,200.9 1316.0,202.4 1316.4,200.9 1316.8,200.6 1317.2,199.7 1317.6,202.6 1318.0,202.1 1318.4,203.1 1318.8,201.1 1319.2,204.4 1319.6,200.5 1320.0,201.7 1320.4,201.5 1320.8,202.2 1321.2,200.7 1321.6,200.0 1322.0,200.1 1322.4,202.3 1322.8,201.7 1323.2,202.0 1323.6,200.6 1324.0,201.6 1324.4,201.5 1324.8,201.9 1325.2,199.5 1325.6,200.2 1326.0,202.8 1326.4,200.4 1326.8,200.8 1327.2,200.5 1327.6,199.3 1328.0,199.8 1328.4,201.4 1328.8,200.4 1329.2,203.5 1329.6,199.8 1330.0,199.4 1330.4,201.0 1330.8,200.0 1331.2,202.8 1331.6,200.8 1332.0,202.0 1332.4,200.2 1332.8,202.7 1333.2,202.9 1333.6,203.7 1334.0,202.6 1334.4,202.7 1334.8,202.0 1335.2,202.5 1335.6,200.8 1336.0,201.8 1336.4,200.7 1336.8,202.3 1337.2,201.4 1337.6,201.1 1338.0,201.1 1338.4,203.4 1338.8,199.9 1339.2,199.8 1339.6,201.9 1340.0,199.9 1340.4,200.3 1340.8,200.2 1341.2,203.3 1341.6,200.1 1342.0,200.0 1342.4,200.4 1342.8,201.2 1343.2,201.4 1343.6,199.1 1344.0,201.1 1344.4,202.7 1344.8,198.7 1345.2,201.5 1345.6,201.9 1346.0,201.4 1346.4,201.1 1346.8,198.8 1347.2,202.9 1347.6,201.3 1348.0,201.5 1348.4,203.0 1348.8,199.0 1349.2,201.4 1349.6,202.1 1350.0,202.4 1350.4,202.4 1350.8,204.2 1351.2,202.5 1351.6,203.4 1352.0,203.2 1352.4,200.6 1352.8,201.3 1353.2,204.2 1353.6,201.5 1354.0,201.7 1354.4,200.2 1354.8,201.3 1355.2,200.2"/>
<text transform="translate(450.07,73.66) scale(0.9092,1)" font-size="50.18" font-family="'Liberation Serif', 'Times New Roman', serif" fill="#000">*</text>
<polygon points="648.1,139.9 668.9,123.5 668.9,155.7" fill="#000"/>
<g fill="none" stroke="#000"><circle cx="737.2" cy="144.9" r="13.20" stroke-width="2.2"/><line x1="727.0" y1="144.9" x2="747.4" y2="144.9" stroke-width="1.9"/><line x1="737.2" y1="134.7" x2="737.2" y2="155.1" stroke-width="1.9"/></g>
<polygon points="769.4,139.9 790.3,123.0 790.3,156.8" fill="#000"/>
<polygon points="1145.0,158.0 1165.5,142.0 1165.5,173.4" fill="#000"/>
<g fill="none" stroke="#000"><circle cx="1189.8" cy="165.0" r="12.90" stroke-width="2.2"/><line x1="1179.8" y1="165.0" x2="1199.8" y2="165.0" stroke-width="1.9"/><line x1="1189.8" y1="155.0" x2="1189.8" y2="175.0" stroke-width="1.9"/></g>
<text transform="translate(449.71,252.38) scale(0.8723,1)" font-size="53.72" font-family="'Liberation Serif', 'Times New Roman', serif" fill="#000">*</text>
<g fill="none" stroke="#000" stroke-linecap="round"><line x1="789.5" y1="327.4" x2="814.6" y2="327.4" stroke-width="1.7"/><line x1="790.0" y1="327.4" x2="801.1" y2="355.1" stroke-width="3.1"/><line x1="814.5" y1="327.2" x2="801.5" y2="355.1" stroke-width="1.3"/></g>
<path transform="translate(824.8,311.8) scale(26.00,27.00)" d="M0.5,0 C0.6,0.17 0.9,0.45 0.98,0.64 C1.03,0.79 0.95,0.92 0.8,0.92 C0.68,0.92 0.6,0.84 0.56,0.74 L0.56,0.95 C0.58,0.97 0.62,0.97 0.64,1 L0.36,1 C0.38,0.97 0.42,0.97 0.44,0.95 L0.44,0.74 C0.4,0.84 0.32,0.92 0.2,0.92 C0.05,0.92 -0.03,0.79 0.02,0.64 C0.1,0.45 0.4,0.17 0.5,0 Z" fill="#000"/>
<g fill="none" stroke="#000" stroke-linecap="round"><line x1="940.2" y1="352.4" x2="967.2" y2="352.4" stroke-width="1.7"/><line x1="940.7" y1="352.4" x2="953.0" y2="379.3" stroke-width="3.1"/><line x1="967.1" y1="352.2" x2="953.4" y2="379.3" stroke-width="1.3"/></g>
<text transform="translate(448.46,459.03) scale(0.8853,1)" font-size="51.81" font-family="'Liberation Serif', 'Times New Roman', serif" fill="#000">*</text>
<g stroke="#000" stroke-width="2.4"><line x1="631.2" y1="686.1" x2="656.6" y2="686.1"/><line x1="643.9" y1="673.9" x2="643.9" y2="698.3"/></g>
<g fill="none" stroke="#000" stroke-width="2.3"><circle cx="673.9" cy="753.0" r="15.85"/><line x1="665.1" y1="744.2" x2="682.7" y2="761.8"/><line x1="665.1" y1="761.8" x2="682.7" y2="744.2"/></g>
<g stroke="#000" stroke-width="2.4"><line x1="700.2" y1="671.4" x2="724.6" y2="671.4"/><line x1="712.4" y1="658.9" x2="712.4" y2="683.9"/></g>
<text transform="translate(794.52,457.02) scale(1.1202,1)" font-size="48.65" font-family="'Liberation Serif', 'Times New Roman', serif" fill="#000">o</text>
<g stroke="#000" stroke-width="2.4"><line x1="906.4" y1="779.1" x2="932.4" y2="779.1"/><line x1="919.4" y1="766.1" x2="919.4" y2="792.1"/></g>
<text transform="translate(942.12,732.30) scale(1.0702,1)" font-size="51.15" font-family="'Liberation Serif', 'Times New Roman', serif" fill="#000">o</text>
<g stroke="#000" stroke-width="2.4"><line x1="1097.6" y1="786.6" x2="1123.2" y2="786.6"/><line x1="1110.4" y1="774.4" x2="1110.4" y2="798.8"/></g>
<g fill="none" stroke="#000" stroke-width="2.3"><circle cx="1179.0" cy="786.0" r="14.85"/><line x1="1170.8" y1="777.8" x2="1187.2" y2="794.2"/><line x1="1170.8" y1="794.2" x2="1187.2" y2="777.8"/></g>
<g stroke="#000" stroke-width="2.4"><line x1="1263.2" y1="793.0" x2="1287.8" y2="793.0"/><line x1="1275.5" y1="780.8" x2="1275.5" y2="805.2"/></g>
<text transform="translate(451.22,888.75) scale(0.9044,1)" font-size="51.54" font-family="'Liberation Serif', 'Times New Roman', serif" fill="#000">*</text>
<polygon points="671.2,928.5 680.1,943.5 671.2,958.5 662.3,943.5" fill="none" stroke="#000" stroke-width="2.0"/>
<circle cx="823.1" cy="903.5" r="8.00" fill="#000"/>
<circle cx="976.4" cy="949.2" r="8.30" fill="#000"/>
<text transform="translate(136.55,146.00) scale(1.0056,1)" font-size="41.40" font-family="'Liberation Sans', Arial, sans-serif" fill="#2a7a30">graphite+Ti</text>
<text transform="translate(133.77,356.00) scale(0.9953,1)" font-size="41.40" font-family="'Liberation Sans', Arial, sans-serif" fill="#3168b0">graphite+Fe</text>
<text transform="translate(133.07,780.60) scale(0.9921,1)" font-size="41.54" font-family="'Liberation Sans', Arial, sans-serif" fill="#b8505e">graphite+Cu</text>
<text transform="translate(135.27,965.90) scale(0.9911,1)" font-size="41.54" font-family="'Liberation Sans', Arial, sans-serif" fill="#585858">graphite+Co</text>
<text transform="translate(1366.27,74.48) scale(0.8705,1)" font-size="38.45" font-family="'Liberation Serif', 'Times New Roman', serif" fill="#444">*</text>
<text transform="translate(1394.04,67.90) scale(1.0843,1)" font-size="34.23" font-family="'Liberation Sans', Arial, sans-serif" fill="#000">graphite</text>
<polygon points="1366.6,117.3 1384.5,103.2 1384.5,131.1" fill="#000"/>
<text transform="translate(1398.18,131.10) scale(0.9892,1)" font-size="37.06" font-family="'Liberation Sans', Arial, sans-serif" fill="#000">TiC</text>
<g fill="none" stroke="#000"><circle cx="1382.6" cy="178.0" r="14.25" stroke-width="2.1"/><line x1="1371.8" y1="178.0" x2="1393.4" y2="178.0" stroke-width="1.7"/><line x1="1382.6" y1="167.2" x2="1382.6" y2="188.8" stroke-width="1.7"/></g>
<text fill="#000"><tspan x="1410.49" y="192.90" font-size="38.52" font-family="'Liberation Sans', Arial, sans-serif" textLength="30.15" lengthAdjust="spacingAndGlyphs">Ti</tspan><tspan x="1441.40" y="205.64" font-size="26.41" font-family="'Liberation Sans', Arial, sans-serif" textLength="14.22" lengthAdjust="spacingAndGlyphs">6</tspan><tspan x="1455.64" y="192.93" font-size="37.99" font-family="'Liberation Sans', Arial, sans-serif" textLength="28.83" lengthAdjust="spacingAndGlyphs">O</tspan></text>
<text transform="translate(1372.21,266.32) scale(0.8569,1)" font-size="37.91" font-family="'Liberation Serif', 'Times New Roman', serif" fill="#000">*</text>
<text transform="translate(1400.75,260.90) scale(1.0351,1)" font-size="35.61" font-family="'Liberation Sans', Arial, sans-serif" fill="#000">graphite</text>
<path transform="translate(1375.8,303.2) scale(19.30,19.70)" d="M0.5,0 C0.6,0.17 0.9,0.45 0.98,0.64 C1.03,0.79 0.95,0.92 0.8,0.92 C0.68,0.92 0.6,0.84 0.56,0.74 L0.56,0.95 C0.58,0.97 0.62,0.97 0.64,1 L0.36,1 C0.38,0.97 0.42,0.97 0.44,0.95 L0.44,0.74 C0.4,0.84 0.32,0.92 0.2,0.92 C0.05,0.92 -0.03,0.79 0.02,0.64 C0.1,0.45 0.4,0.17 0.5,0 Z" fill="#000"/>
<text transform="translate(1410.00,322.90) scale(0.9578,1)" font-size="38.23" font-family="'Liberation Sans', Arial, sans-serif" fill="#000">Fe</text>
<g fill="none" stroke="#000" stroke-linecap="round"><line x1="1374.5" y1="361.4" x2="1394.8" y2="361.4" stroke-width="1.7"/><line x1="1375.0" y1="361.4" x2="1383.8" y2="382.2" stroke-width="2.9"/><line x1="1394.7" y1="361.2" x2="1384.2" y2="382.2" stroke-width="1.3"/></g>
<text transform="translate(1408.56,384.50) scale(1.0043,1)" font-size="36.92" font-family="'Liberation Sans', Arial, sans-serif" fill="#000">Fe (C)</text>
<text transform="translate(1371.91,528.35) scale(0.9571,1)" font-size="36.27" font-family="'Liberation Serif', 'Times New Roman', serif" fill="#000">*</text>
<text transform="translate(1399.15,522.40) scale(1.0351,1)" font-size="35.61" font-family="'Liberation Sans', Arial, sans-serif" fill="#000">graphite</text>
<text transform="translate(1370.67,573.44) scale(1.1670,1)" font-size="36.59" font-family="'Liberation Serif', 'Times New Roman', serif" fill="#000">o</text>
<text transform="translate(1401.65,573.43) scale(0.9588,1)" font-size="37.99" font-family="'Liberation Sans', Arial, sans-serif" fill="#000">Cu</text>
<g stroke="#000" stroke-width="1.7"><line x1="1371.6" y1="614.3" x2="1391.2" y2="614.3"/><line x1="1381.4" y1="605.0" x2="1381.4" y2="623.5"/></g>
<text transform="translate(1401.23,623.12) scale(0.9526,1)" font-size="38.56" font-family="'Liberation Sans', Arial, sans-serif" fill="#000">CuO</text>
<g fill="none" stroke="#000" stroke-width="1.8"><circle cx="1385.4" cy="680.4" r="12.10"/><line x1="1377.5" y1="672.5" x2="1393.3" y2="688.3"/><line x1="1377.5" y1="688.3" x2="1393.3" y2="672.5"/></g>
<text fill="#000"><tspan x="1410.57" y="692.20" font-size="36.23" font-family="'Liberation Sans', Arial, sans-serif" textLength="46.02" lengthAdjust="spacingAndGlyphs">Cu</tspan><tspan x="1455.73" y="708.70" font-size="26.50" font-family="'Liberation Sans', Arial, sans-serif" textLength="16.24" lengthAdjust="spacingAndGlyphs">2</tspan><tspan x="1471.72" y="692.04" font-size="36.44" font-family="'Liberation Sans', Arial, sans-serif" textLength="27.58" lengthAdjust="spacingAndGlyphs">O</tspan></text>
<text transform="translate(1373.24,890.01) scale(0.9227,1)" font-size="36.81" font-family="'Liberation Serif', 'Times New Roman', serif" fill="#000">*</text>
<text transform="translate(1401.35,884.40) scale(1.0556,1)" font-size="34.92" font-family="'Liberation Sans', Arial, sans-serif" fill="#000">graphite</text>
<circle cx="1381.3" cy="929.9" r="6.40" fill="#000"/>
<text transform="translate(1400.33,940.32) scale(0.9422,1)" font-size="39.12" font-family="'Liberation Sans', Arial, sans-serif" fill="#000">Co</text>
<polygon points="1382.2,970.9 1388.9,982.6 1382.2,994.3 1375.4,982.6" fill="none" stroke="#555" stroke-width="1.8"/>
<text fill="#000"><tspan x="1400.77" y="994.93" font-size="37.85" font-family="'Liberation Sans', Arial, sans-serif" textLength="46.15" lengthAdjust="spacingAndGlyphs">Co</tspan><tspan x="1447.75" y="1005.86" font-size="24.58" font-family="'Liberation Sans', Arial, sans-serif" textLength="13.84" lengthAdjust="spacingAndGlyphs">3</tspan><tspan x="1462.11" y="994.93" font-size="37.85" font-family="'Liberation Sans', Arial, sans-serif" textLength="27.80" lengthAdjust="spacingAndGlyphs">O</tspan><tspan x="1489.52" y="1005.70" font-size="24.71" font-family="'Liberation Sans', Arial, sans-serif" textLength="14.02" lengthAdjust="spacingAndGlyphs">4</tspan></text>
</svg>
</body></html>
